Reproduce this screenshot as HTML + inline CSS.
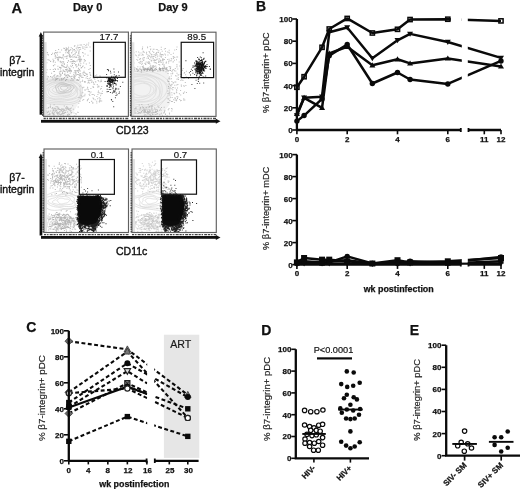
<!DOCTYPE html>
<html><head><meta charset="utf-8"><style>
html,body{margin:0;padding:0;background:#fff;}
#c{position:relative;width:520px;height:489px;overflow:hidden;background:#fff;will-change:transform;}
svg{position:absolute;left:0;top:0;}
text{font-family:"Liberation Sans",sans-serif;}
</style></head><body><div id="c">
<svg width="520" height="489" viewBox="0 0 520 489" font-family="Liberation Sans, sans-serif">
<text x="11.60" y="12.70" font-size="14.6" font-weight="bold" text-anchor="start" fill="#111" stroke="#111" stroke-width="0.25" >A</text>
<text x="72.90" y="11.40" font-size="11" font-weight="bold" text-anchor="start" fill="#111" stroke="#111" stroke-width="0.25" >Day 0</text>
<text x="158.30" y="11.40" font-size="11" font-weight="bold" text-anchor="start" fill="#111" stroke="#111" stroke-width="0.25" >Day 9</text>
<text x="17.00" y="64.10" font-size="10.5" font-weight="normal" text-anchor="middle" fill="#111" stroke="#111" stroke-width="0.38" >β7-</text>
<text x="17.20" y="76.00" font-size="10.5" font-weight="normal" text-anchor="middle" fill="#111" stroke="#111" stroke-width="0.38" >integrin</text>
<text x="17.00" y="180.80" font-size="10.5" font-weight="normal" text-anchor="middle" fill="#111" stroke="#111" stroke-width="0.38" >β7-</text>
<text x="17.20" y="192.80" font-size="10.5" font-weight="normal" text-anchor="middle" fill="#111" stroke="#111" stroke-width="0.38" >integrin</text>
<text x="116.00" y="133.80" font-size="10.5" font-weight="normal" text-anchor="start" fill="#111" stroke="#111" stroke-width="0.38" >CD123</text>
<text x="116.00" y="254.60" font-size="10.5" font-weight="normal" text-anchor="start" fill="#111" stroke="#111" stroke-width="0.38" >CD11c</text>
<clipPath id="c43"><rect x="44.0" y="32.5" width="84.0" height="83.5"/></clipPath><g clip-path="url(#c43)">
<path d="M43.5 78 Q60 74 80 80 Q86 92 80 100 Q74 112 70 117 L43.5 117Z" fill="#f2f2f2"/>
<path d="M68.9 89.0 L68.7 89.4 L68.5 89.8 L68.1 90.2 L67.7 90.5 L67.4 90.9 L67.0 91.2 L66.5 91.6 L65.9 92.0 L65.2 92.3 L64.3 92.4 L63.4 92.5 L62.5 92.4 L61.6 92.2 L60.9 92.0 L60.1 91.9 L59.4 91.7 L58.7 91.4 L58.1 91.2 L57.5 90.9 L57.0 90.6 L56.6 90.2 L56.3 89.8 L56.1 89.4 L55.9 89.0 L55.9 88.6 L55.9 88.1 L56.1 87.7 L56.5 87.3 L57.1 86.9 L57.8 86.7 L58.6 86.5 L59.4 86.3 L60.2 86.2 L61.0 86.1 L61.7 86.0 L62.5 85.9 L63.3 85.8 L64.2 85.8 L65.1 85.8 L65.9 86.0 L66.7 86.3 L67.3 86.6 L67.8 87.0 L68.2 87.3 L68.6 87.7 L68.8 88.2 L68.9 88.6Z" fill="none" stroke="#d6d6d6" stroke-width="0.7"/>
<path d="M70.3 89.4 L70.5 89.9 L70.6 90.5 L70.6 91.2 L70.3 91.8 L69.6 92.3 L68.7 92.8 L67.6 93.1 L66.5 93.3 L65.3 93.4 L64.2 93.5 L63.1 93.6 L61.9 93.7 L60.8 93.7 L59.7 93.6 L58.6 93.4 L57.6 93.1 L56.6 92.8 L55.7 92.5 L54.8 92.1 L54.0 91.7 L53.2 91.2 L52.7 90.6 L52.4 90.0 L52.4 89.4 L52.8 88.8 L53.4 88.2 L54.1 87.7 L54.8 87.3 L55.5 86.9 L56.1 86.4 L56.8 86.0 L57.5 85.6 L58.5 85.2 L59.5 84.9 L60.7 84.8 L61.9 84.7 L63.1 84.8 L64.3 84.9 L65.5 85.1 L66.5 85.4 L67.5 85.7 L68.4 86.2 L69.0 86.7 L69.5 87.2 L69.7 87.8 L69.9 88.3 L70.1 88.8Z" fill="none" stroke="#d6d6d6" stroke-width="0.7"/>
<path d="M72.0 89.8 L71.8 90.4 L71.6 91.1 L71.5 91.8 L71.3 92.6 L70.8 93.4 L70.0 94.1 L68.9 94.7 L67.5 95.1 L66.0 95.3 L64.4 95.3 L62.8 95.3 L61.4 95.2 L60.0 95.1 L58.6 95.0 L57.2 94.8 L55.9 94.5 L54.6 94.2 L53.5 93.7 L52.5 93.1 L51.7 92.6 L50.8 91.9 L50.1 91.3 L49.6 90.5 L49.2 89.8 L49.2 89.0 L49.7 88.2 L50.5 87.5 L51.6 86.9 L52.8 86.4 L53.9 86.0 L55.1 85.6 L56.1 85.2 L57.3 84.8 L58.5 84.4 L59.9 84.0 L61.4 83.8 L62.9 83.8 L64.5 84.0 L65.9 84.3 L67.2 84.7 L68.5 85.1 L69.6 85.6 L70.6 86.2 L71.4 86.9 L71.9 87.6 L72.1 88.3 L72.1 89.0Z" fill="none" stroke="#d6d6d6" stroke-width="0.7"/>
<path d="M75.6 90.1 L75.2 91.1 L74.5 92.0 L73.6 92.8 L72.6 93.5 L71.6 94.2 L70.4 94.9 L69.0 95.5 L67.5 95.9 L65.9 96.3 L64.2 96.5 L62.5 96.6 L60.8 96.8 L59.0 96.9 L57.2 96.9 L55.2 96.8 L53.4 96.6 L51.7 96.1 L50.3 95.4 L49.4 94.5 L48.8 93.6 L48.5 92.7 L48.3 91.8 L48.2 91.0 L47.9 90.1 L47.8 89.3 L47.8 88.4 L48.1 87.5 L48.7 86.6 L49.6 85.8 L50.8 85.1 L52.2 84.5 L53.7 84.0 L55.3 83.5 L57.1 83.1 L58.9 82.9 L60.8 83.0 L62.6 83.2 L64.3 83.6 L65.8 84.1 L67.2 84.6 L68.5 85.1 L69.8 85.6 L71.3 86.1 L72.7 86.7 L74.0 87.4 L75.0 88.2 L75.5 89.2Z" fill="none" stroke="#d6d6d6" stroke-width="0.7"/>
<path d="M77.1 90.5 L76.6 91.6 L75.9 92.6 L75.1 93.6 L74.1 94.5 L72.9 95.4 L71.5 96.1 L69.8 96.7 L68.0 97.2 L66.1 97.6 L64.2 98.0 L62.3 98.3 L60.2 98.6 L58.1 98.8 L55.8 98.9 L53.5 98.6 L51.4 98.1 L49.7 97.4 L48.4 96.4 L47.5 95.4 L46.8 94.4 L46.3 93.4 L45.7 92.5 L45.1 91.5 L44.6 90.5 L44.4 89.5 L44.5 88.4 L45.1 87.4 L46.0 86.4 L47.1 85.5 L48.5 84.6 L50.0 83.8 L51.8 83.1 L53.7 82.6 L55.8 82.3 L58.1 82.2 L60.2 82.3 L62.3 82.7 L64.2 83.2 L65.9 83.6 L67.7 84.1 L69.5 84.5 L71.4 84.9 L73.3 85.5 L75.0 86.3 L76.3 87.2 L77.1 88.2 L77.3 89.4Z" fill="none" stroke="#d6d6d6" stroke-width="0.7"/>
<path d="M77.0 90.9 L77.3 92.0 L77.6 93.3 L77.5 94.6 L77.0 95.9 L75.8 97.0 L74.0 98.0 L71.7 98.7 L69.3 99.2 L66.8 99.5 L64.4 99.6 L62.0 99.8 L59.7 99.8 L57.3 99.8 L55.0 99.6 L52.7 99.3 L50.6 98.7 L48.6 98.1 L46.8 97.3 L45.0 96.5 L43.3 95.6 L41.7 94.6 L40.4 93.5 L39.7 92.2 L39.6 90.9 L40.3 89.6 L41.5 88.4 L43.0 87.4 L44.6 86.5 L46.1 85.7 L47.6 84.8 L49.0 83.9 L50.6 83.0 L52.5 82.2 L54.7 81.6 L57.1 81.2 L59.7 81.1 L62.2 81.3 L64.7 81.6 L67.0 82.0 L69.3 82.6 L71.4 83.3 L73.2 84.1 L74.6 85.1 L75.6 86.3 L76.2 87.5 L76.5 88.6 L76.8 89.8Z" fill="none" stroke="#d6d6d6" stroke-width="0.7"/>
<path d="M80.3 91.2 L81.0 92.7 L81.0 94.2 L80.3 95.6 L78.8 96.9 L76.7 98.0 L74.3 98.9 L71.9 99.6 L69.4 100.2 L66.9 100.7 L64.4 101.1 L61.8 101.4 L59.1 101.5 L56.5 101.4 L53.8 101.1 L51.3 100.7 L48.8 100.2 L46.3 99.6 L43.8 98.9 L41.5 98.0 L39.4 96.9 L38.0 95.6 L37.3 94.2 L37.4 92.7 L38.1 91.2 L39.1 89.9 L40.2 88.7 L41.2 87.5 L42.2 86.4 L43.2 85.1 L44.5 83.9 L46.2 82.8 L48.3 81.9 L50.8 81.2 L53.5 80.7 L56.3 80.5 L59.1 80.4 L62.0 80.4 L64.8 80.7 L67.5 81.2 L70.0 81.9 L72.0 82.8 L73.7 84.0 L75.0 85.2 L76.0 86.4 L77.0 87.5 L78.1 88.7 L79.3 89.9Z" fill="none" stroke="#d6d6d6" stroke-width="0.7"/>
<path d="M80.3 91.6 L80.3 93.1 L80.3 94.5 L80.2 96.1 L79.7 97.7 L78.6 99.3 L76.7 100.7 L74.1 101.7 L71.0 102.4 L67.8 102.8 L64.6 102.9 L61.5 102.9 L58.6 102.9 L55.6 102.8 L52.7 102.6 L49.8 102.2 L47.1 101.6 L44.6 100.7 L42.3 99.8 L40.2 98.7 L38.2 97.5 L36.4 96.2 L34.8 94.8 L33.6 93.3 L33.2 91.6 L33.6 90.0 L34.8 88.4 L36.7 87.1 L38.9 85.9 L41.2 85.0 L43.3 84.0 L45.4 83.0 L47.5 82.0 L49.8 81.0 L52.4 80.2 L55.4 79.6 L58.6 79.3 L61.8 79.4 L64.9 79.8 L67.9 80.4 L70.7 81.2 L73.3 82.0 L75.6 83.1 L77.6 84.3 L79.0 85.7 L79.9 87.2 L80.3 88.7 L80.4 90.2Z" fill="none" stroke="#d6d6d6" stroke-width="0.7"/>
<path d="M82.1 92.0 L81.8 93.6 L81.7 95.2 L81.5 96.9 L80.9 98.6 L79.8 100.4 L77.9 101.9 L75.2 103.2 L71.9 104.1 L68.4 104.5 L64.8 104.6 L61.3 104.6 L58.0 104.4 L54.8 104.3 L51.6 104.0 L48.4 103.6 L45.4 102.9 L42.5 102.1 L40.0 101.0 L37.8 99.8 L35.7 98.4 L33.8 97.0 L32.1 95.5 L30.7 93.8 L30.1 92.0 L30.3 90.2 L31.5 88.4 L33.4 86.9 L35.9 85.6 L38.6 84.5 L41.1 83.6 L43.5 82.6 L45.9 81.5 L48.5 80.5 L51.3 79.5 L54.5 78.8 L58.0 78.4 L61.6 78.5 L65.0 78.9 L68.3 79.6 L71.4 80.4 L74.2 81.4 L76.8 82.6 L79.0 83.9 L80.7 85.4 L81.8 87.1 L82.3 88.7 L82.3 90.4Z" fill="none" stroke="#d6d6d6" stroke-width="0.7"/>
<path d="M67.6 88.0 L67.5 88.3 L67.4 88.5 L67.2 88.7 L66.9 88.9 L66.6 89.1 L66.3 89.3 L66.0 89.4 L65.7 89.6 L65.4 89.8 L65.0 90.0 L64.5 90.2 L64.0 90.3 L63.5 90.3 L63.0 90.2 L62.5 90.0 L62.2 89.7 L62.0 89.5 L61.7 89.3 L61.5 89.1 L61.2 88.9 L60.9 88.7 L60.6 88.5 L60.5 88.3 L60.4 88.0 L60.4 87.7 L60.5 87.5 L60.6 87.2 L60.7 86.9 L60.9 86.7 L61.2 86.4 L61.6 86.3 L62.1 86.1 L62.6 86.1 L63.1 86.2 L63.6 86.2 L64.0 86.3 L64.4 86.3 L64.8 86.3 L65.3 86.3 L65.8 86.3 L66.3 86.3 L66.8 86.4 L67.2 86.7 L67.4 86.9 L67.5 87.2 L67.6 87.5 L67.6 87.7Z" fill="none" stroke="#bcbcbc" stroke-width="0.7"/>
<path d="M70.7 88.0 L70.4 88.5 L70.1 88.9 L69.7 89.3 L69.3 89.7 L68.8 90.1 L68.3 90.4 L67.6 90.6 L66.9 90.8 L66.2 90.9 L65.5 91.1 L64.8 91.3 L64.0 91.5 L63.1 91.7 L62.2 91.8 L61.2 91.7 L60.4 91.5 L59.7 91.1 L59.3 90.6 L59.1 90.1 L59.0 89.6 L58.8 89.2 L58.6 88.8 L58.4 88.4 L58.1 88.0 L57.9 87.6 L57.9 87.1 L58.1 86.6 L58.4 86.2 L58.8 85.8 L59.4 85.4 L59.9 85.1 L60.6 84.7 L61.4 84.5 L62.2 84.3 L63.1 84.3 L64.0 84.5 L64.8 84.7 L65.5 85.0 L66.1 85.2 L66.7 85.4 L67.4 85.5 L68.2 85.6 L69.1 85.8 L69.9 86.1 L70.5 86.5 L70.8 87.0 L70.9 87.5Z" fill="none" stroke="#bcbcbc" stroke-width="0.7"/>
<path d="M73.7 88.0 L73.3 88.7 L72.8 89.3 L72.2 89.9 L71.6 90.4 L70.9 91.0 L70.1 91.4 L69.2 91.8 L68.2 92.0 L67.2 92.2 L66.1 92.4 L65.1 92.6 L64.0 92.9 L62.8 93.1 L61.5 93.2 L60.1 93.2 L58.8 93.0 L57.8 92.5 L57.1 91.8 L56.8 91.1 L56.6 90.4 L56.5 89.7 L56.4 89.1 L56.1 88.6 L55.7 88.0 L55.5 87.4 L55.4 86.7 L55.6 86.1 L56.0 85.4 L56.6 84.9 L57.4 84.3 L58.3 83.8 L59.2 83.4 L60.3 83.0 L61.5 82.8 L62.7 82.7 L64.0 82.9 L65.1 83.2 L66.1 83.6 L67.0 84.0 L67.8 84.3 L68.8 84.5 L69.9 84.7 L71.1 85.0 L72.2 85.4 L73.2 85.9 L73.8 86.5 L73.9 87.3Z" fill="none" stroke="#bcbcbc" stroke-width="0.7"/>
<path d="M57.2 58.9h1.0v1.0h-1.0zM70.4 79.8h1.0v1.0h-1.0zM73.4 79.6h1.0v1.0h-1.0zM53.0 65.3h1.0v1.0h-1.0zM67.9 51.4h1.0v1.0h-1.0zM54.5 68.3h1.0v1.0h-1.0zM82.5 47.9h1.0v1.0h-1.0zM74.1 70.2h1.0v1.0h-1.0zM69.8 61.3h1.0v1.0h-1.0zM61.9 64.7h1.0v1.0h-1.0zM63.1 54.3h1.0v1.0h-1.0zM72.0 65.0h1.0v1.0h-1.0zM75.8 47.7h1.0v1.0h-1.0zM56.5 57.3h1.0v1.0h-1.0zM85.8 63.6h1.0v1.0h-1.0zM71.1 56.3h1.0v1.0h-1.0zM60.2 70.6h1.0v1.0h-1.0zM61.1 64.4h1.0v1.0h-1.0zM68.6 69.6h1.0v1.0h-1.0zM54.7 55.8h1.0v1.0h-1.0zM61.2 78.0h1.0v1.0h-1.0zM65.6 79.3h1.0v1.0h-1.0zM68.9 76.1h1.0v1.0h-1.0zM64.1 77.1h1.0v1.0h-1.0zM60.6 57.1h1.0v1.0h-1.0zM86.3 73.9h1.0v1.0h-1.0zM72.6 60.2h1.0v1.0h-1.0zM66.5 65.9h1.0v1.0h-1.0zM64.1 71.0h1.0v1.0h-1.0zM81.3 75.4h1.0v1.0h-1.0zM86.3 43.8h1.0v1.0h-1.0zM72.0 48.3h1.0v1.0h-1.0zM69.7 72.8h1.0v1.0h-1.0zM72.9 49.3h1.0v1.0h-1.0zM83.6 43.9h1.0v1.0h-1.0zM73.6 72.3h1.0v1.0h-1.0zM84.0 72.3h1.0v1.0h-1.0zM79.7 75.5h1.0v1.0h-1.0zM71.2 66.3h1.0v1.0h-1.0zM82.3 72.5h1.0v1.0h-1.0zM74.6 50.2h1.0v1.0h-1.0zM66.1 67.0h1.0v1.0h-1.0zM75.1 73.6h1.0v1.0h-1.0zM62.4 62.5h1.0v1.0h-1.0zM56.9 54.5h1.0v1.0h-1.0zM79.6 47.0h1.0v1.0h-1.0zM82.6 65.6h1.0v1.0h-1.0zM65.1 75.6h1.0v1.0h-1.0zM80.2 73.4h1.0v1.0h-1.0zM68.8 70.8h1.0v1.0h-1.0zM85.4 46.8h1.0v1.0h-1.0zM77.7 58.9h1.0v1.0h-1.0zM83.2 62.6h1.0v1.0h-1.0zM70.1 69.4h1.0v1.0h-1.0zM82.5 76.9h1.0v1.0h-1.0zM86.5 46.7h1.0v1.0h-1.0zM89.5 46.4h1.0v1.0h-1.0zM71.3 59.0h1.0v1.0h-1.0zM54.4 76.7h1.0v1.0h-1.0zM79.8 44.6h1.0v1.0h-1.0zM47.4 53.9h1.0v1.0h-1.0zM77.7 59.3h1.0v1.0h-1.0zM56.8 57.0h1.0v1.0h-1.0zM68.1 46.7h1.0v1.0h-1.0zM83.9 60.4h1.0v1.0h-1.0zM75.5 52.1h1.0v1.0h-1.0zM69.6 57.0h1.0v1.0h-1.0zM84.4 48.8h1.0v1.0h-1.0zM56.1 78.9h1.0v1.0h-1.0zM66.5 75.5h1.0v1.0h-1.0zM52.8 61.5h1.0v1.0h-1.0zM74.3 78.1h1.0v1.0h-1.0zM60.7 67.4h1.0v1.0h-1.0zM70.3 71.2h1.0v1.0h-1.0zM73.8 62.9h1.0v1.0h-1.0zM72.1 50.4h1.0v1.0h-1.0zM79.0 68.9h1.0v1.0h-1.0zM63.9 63.2h1.0v1.0h-1.0zM78.7 56.5h1.0v1.0h-1.0zM79.2 61.1h1.0v1.0h-1.0zM71.5 63.2h1.0v1.0h-1.0zM75.8 64.2h1.0v1.0h-1.0zM54.1 53.1h1.0v1.0h-1.0zM65.0 80.0h1.0v1.0h-1.0zM65.7 56.1h1.0v1.0h-1.0zM57.7 75.6h1.0v1.0h-1.0zM59.8 60.8h1.0v1.0h-1.0zM64.5 73.5h1.0v1.0h-1.0zM66.8 71.2h1.0v1.0h-1.0zM62.4 62.7h1.0v1.0h-1.0zM76.0 51.4h1.0v1.0h-1.0zM62.6 66.2h1.0v1.0h-1.0zM67.0 61.9h1.0v1.0h-1.0zM54.9 78.6h1.0v1.0h-1.0zM59.5 51.7h1.0v1.0h-1.0zM64.6 71.3h1.0v1.0h-1.0zM60.1 71.2h1.0v1.0h-1.0zM79.8 70.5h1.0v1.0h-1.0zM57.3 58.6h1.0v1.0h-1.0zM53.3 60.0h1.0v1.0h-1.0zM66.2 48.2h1.0v1.0h-1.0zM75.2 64.8h1.0v1.0h-1.0zM51.0 54.0h1.0v1.0h-1.0zM72.9 67.3h1.0v1.0h-1.0zM71.1 78.2h1.0v1.0h-1.0zM60.8 61.5h1.0v1.0h-1.0zM77.9 68.4h1.0v1.0h-1.0zM83.5 70.7h1.0v1.0h-1.0zM54.1 53.5h1.0v1.0h-1.0zM75.9 74.4h1.0v1.0h-1.0zM46.1 71.9h1.0v1.0h-1.0zM57.8 68.7h1.0v1.0h-1.0zM81.9 46.5h1.0v1.0h-1.0zM72.8 53.9h1.0v1.0h-1.0zM66.0 74.8h1.0v1.0h-1.0zM62.6 69.5h1.0v1.0h-1.0zM88.4 69.1h1.0v1.0h-1.0zM78.2 52.6h1.0v1.0h-1.0zM83.8 59.0h1.0v1.0h-1.0zM55.7 52.3h1.0v1.0h-1.0zM48.8 59.7h1.0v1.0h-1.0zM78.5 77.1h1.0v1.0h-1.0zM71.2 61.3h1.0v1.0h-1.0zM84.1 74.9h1.0v1.0h-1.0zM69.0 56.0h1.0v1.0h-1.0zM63.3 47.8h1.0v1.0h-1.0zM71.0 78.2h1.0v1.0h-1.0zM74.5 54.3h1.0v1.0h-1.0zM70.2 49.5h1.0v1.0h-1.0zM67.6 48.3h1.0v1.0h-1.0zM78.3 57.3h1.0v1.0h-1.0zM62.4 62.6h1.0v1.0h-1.0zM47.9 54.6h1.0v1.0h-1.0zM66.7 77.0h1.0v1.0h-1.0zM78.8 58.6h1.0v1.0h-1.0zM61.6 79.3h1.0v1.0h-1.0zM51.1 72.7h1.0v1.0h-1.0zM75.1 61.3h1.0v1.0h-1.0zM52.1 52.8h1.0v1.0h-1.0zM66.5 55.5h1.0v1.0h-1.0zM60.6 70.7h1.0v1.0h-1.0zM63.8 70.7h1.0v1.0h-1.0zM78.4 51.6h1.0v1.0h-1.0zM51.7 76.4h1.0v1.0h-1.0zM70.8 70.0h1.0v1.0h-1.0zM79.3 59.9h1.0v1.0h-1.0zM63.0 58.4h1.0v1.0h-1.0zM75.6 72.5h1.0v1.0h-1.0zM56.3 52.6h1.0v1.0h-1.0zM79.5 56.2h1.0v1.0h-1.0zM74.0 49.1h1.0v1.0h-1.0zM76.7 70.7h1.0v1.0h-1.0zM63.8 64.0h1.0v1.0h-1.0zM61.3 65.2h1.0v1.0h-1.0zM52.8 68.9h1.0v1.0h-1.0zM54.8 79.7h1.0v1.0h-1.0zM72.6 79.6h1.0v1.0h-1.0zM76.9 54.8h1.0v1.0h-1.0zM54.9 54.7h1.0v1.0h-1.0zM55.0 68.9h1.0v1.0h-1.0zM74.0 45.5h1.0v1.0h-1.0zM73.9 45.8h1.0v1.0h-1.0zM70.1 65.5h1.0v1.0h-1.0zM82.0 66.3h1.0v1.0h-1.0zM46.7 75.8h1.0v1.0h-1.0zM80.6 59.2h1.0v1.0h-1.0zM56.7 74.9h1.0v1.0h-1.0zM59.7 61.2h1.0v1.0h-1.0zM65.5 49.6h1.0v1.0h-1.0zM68.1 75.0h1.0v1.0h-1.0zM63.9 73.7h1.0v1.0h-1.0zM78.1 63.9h1.0v1.0h-1.0zM76.7 49.4h1.0v1.0h-1.0zM88.9 62.5h1.0v1.0h-1.0zM64.9 67.1h1.0v1.0h-1.0zM69.8 56.5h1.0v1.0h-1.0zM59.0 67.0h1.0v1.0h-1.0zM66.5 74.7h1.0v1.0h-1.0zM62.7 55.3h1.0v1.0h-1.0zM57.4 65.7h1.0v1.0h-1.0zM85.1 72.7h1.0v1.0h-1.0zM54.8 61.7h1.0v1.0h-1.0zM81.3 77.1h1.0v1.0h-1.0zM46.6 52.0h1.0v1.0h-1.0zM54.3 64.2h1.0v1.0h-1.0zM64.9 49.8h1.0v1.0h-1.0zM58.7 57.2h1.0v1.0h-1.0zM59.6 76.0h1.0v1.0h-1.0zM68.2 75.3h1.0v1.0h-1.0zM88.2 42.6h1.0v1.0h-1.0zM66.8 64.5h1.0v1.0h-1.0zM70.7 47.2h1.0v1.0h-1.0zM63.2 61.4h1.0v1.0h-1.0zM70.8 71.1h1.0v1.0h-1.0zM68.7 75.2h1.0v1.0h-1.0zM59.9 68.4h1.0v1.0h-1.0zM87.2 78.0h1.0v1.0h-1.0zM89.8 65.0h1.0v1.0h-1.0zM70.2 49.0h1.0v1.0h-1.0zM58.9 71.6h1.0v1.0h-1.0zM85.4 45.1h1.0v1.0h-1.0zM79.0 59.1h1.0v1.0h-1.0zM68.6 53.3h1.0v1.0h-1.0zM78.7 74.6h1.0v1.0h-1.0zM72.1 79.4h1.0v1.0h-1.0zM71.6 75.8h1.0v1.0h-1.0zM54.7 52.1h1.0v1.0h-1.0zM61.9 73.1h1.0v1.0h-1.0zM68.5 70.9h1.0v1.0h-1.0zM66.3 75.4h1.0v1.0h-1.0zM60.9 57.5h1.0v1.0h-1.0zM72.8 61.3h1.0v1.0h-1.0zM84.6 53.5h1.0v1.0h-1.0zM85.0 60.2h1.0v1.0h-1.0zM67.9 51.4h1.0v1.0h-1.0zM74.2 76.8h1.0v1.0h-1.0zM49.7 69.1h1.0v1.0h-1.0zM63.1 78.6h1.0v1.0h-1.0zM83.0 55.6h1.0v1.0h-1.0zM78.0 47.2h1.0v1.0h-1.0zM51.6 76.8h1.0v1.0h-1.0zM75.6 69.9h1.0v1.0h-1.0zM50.0 61.0h1.0v1.0h-1.0zM68.2 70.0h1.0v1.0h-1.0zM56.4 76.1h1.0v1.0h-1.0zM78.4 55.2h1.0v1.0h-1.0zM77.1 79.0h1.0v1.0h-1.0zM80.1 48.7h1.0v1.0h-1.0zM76.2 56.9h1.0v1.0h-1.0zM66.5 57.7h1.0v1.0h-1.0zM67.7 52.7h1.0v1.0h-1.0zM52.5 58.7h1.0v1.0h-1.0zM82.8 74.2h1.0v1.0h-1.0zM73.2 76.3h1.0v1.0h-1.0zM70.4 58.9h1.0v1.0h-1.0zM75.3 72.2h1.0v1.0h-1.0zM60.1 67.0h1.0v1.0h-1.0zM75.2 63.9h1.0v1.0h-1.0zM65.7 50.6h1.0v1.0h-1.0zM66.4 70.3h1.0v1.0h-1.0zM86.6 75.7h1.0v1.0h-1.0zM62.7 54.2h1.0v1.0h-1.0zM69.3 68.4h1.0v1.0h-1.0zM75.8 56.6h1.0v1.0h-1.0zM61.2 65.1h1.0v1.0h-1.0zM67.9 50.4h1.0v1.0h-1.0zM51.2 54.1h1.0v1.0h-1.0zM77.4 79.5h1.0v1.0h-1.0zM78.8 47.1h1.0v1.0h-1.0zM82.1 79.7h1.0v1.0h-1.0zM74.4 50.4h1.0v1.0h-1.0zM73.4 77.2h1.0v1.0h-1.0zM66.4 49.2h1.0v1.0h-1.0zM78.8 49.2h1.0v1.0h-1.0zM78.0 70.4h1.0v1.0h-1.0zM68.8 54.8h1.0v1.0h-1.0zM52.8 60.7h1.0v1.0h-1.0zM64.5 74.4h1.0v1.0h-1.0zM75.9 79.4h1.0v1.0h-1.0zM63.3 78.1h1.0v1.0h-1.0zM79.3 74.9h1.0v1.0h-1.0zM81.1 58.8h1.0v1.0h-1.0zM68.3 49.4h1.0v1.0h-1.0zM59.4 79.6h1.0v1.0h-1.0zM56.1 77.7h1.0v1.0h-1.0zM64.8 49.5h1.0v1.0h-1.0zM77.7 47.6h1.0v1.0h-1.0zM87.5 54.8h1.0v1.0h-1.0zM46.5 69.2h1.0v1.0h-1.0zM80.3 60.6h1.0v1.0h-1.0zM81.1 44.6h1.0v1.0h-1.0zM78.8 74.4h1.0v1.0h-1.0zM59.9 56.9h1.0v1.0h-1.0zM75.8 66.5h1.0v1.0h-1.0zM89.7 68.0h1.0v1.0h-1.0zM72.2 55.3h1.0v1.0h-1.0zM73.9 74.8h1.0v1.0h-1.0zM81.0 67.1h1.0v1.0h-1.0zM63.7 66.2h1.0v1.0h-1.0zM66.5 69.3h1.0v1.0h-1.0zM54.8 57.8h1.0v1.0h-1.0zM62.0 73.0h1.0v1.0h-1.0zM65.3 52.2h1.0v1.0h-1.0zM67.5 74.0h1.0v1.0h-1.0zM57.6 60.3h1.0v1.0h-1.0zM79.8 73.6h1.0v1.0h-1.0zM78.1 67.7h1.0v1.0h-1.0zM82.7 52.5h1.0v1.0h-1.0zM79.5 61.5h1.0v1.0h-1.0zM55.5 56.4h1.0v1.0h-1.0zM58.6 56.6h1.0v1.0h-1.0zM62.6 65.5h1.0v1.0h-1.0zM66.2 69.1h1.0v1.0h-1.0zM57.2 51.8h1.0v1.0h-1.0zM74.9 70.4h1.0v1.0h-1.0zM57.8 59.6h1.0v1.0h-1.0zM69.7 55.1h1.0v1.0h-1.0zM69.4 68.1h1.0v1.0h-1.0zM77.1 69.9h1.0v1.0h-1.0zM58.0 58.5h1.0v1.0h-1.0zM68.8 51.4h1.0v1.0h-1.0zM62.0 71.7h1.0v1.0h-1.0zM47.7 59.2h1.0v1.0h-1.0zM46.5 79.1h1.0v1.0h-1.0zM69.6 55.6h1.0v1.0h-1.0zM85.6 77.6h1.0v1.0h-1.0zM64.4 56.2h1.0v1.0h-1.0zM75.1 71.7h1.0v1.0h-1.0zM47.0 52.2h1.0v1.0h-1.0zM89.7 50.6h1.0v1.0h-1.0zM64.3 66.7h1.0v1.0h-1.0zM53.1 75.5h1.0v1.0h-1.0zM78.2 73.9h1.0v1.0h-1.0zM67.1 71.7h1.0v1.0h-1.0zM67.9 60.5h1.0v1.0h-1.0zM63.9 48.1h1.0v1.0h-1.0zM69.2 53.9h1.0v1.0h-1.0zM62.4 61.1h1.0v1.0h-1.0zM65.9 57.8h1.0v1.0h-1.0zM87.9 44.6h1.0v1.0h-1.0zM75.1 64.4h1.0v1.0h-1.0zM50.0 75.9h1.0v1.0h-1.0zM85.8 73.4h1.0v1.0h-1.0zM47.4 59.2h1.0v1.0h-1.0zM83.0 72.3h1.0v1.0h-1.0zM84.2 67.3h1.0v1.0h-1.0zM61.1 49.5h1.0v1.0h-1.0zM61.1 79.6h1.0v1.0h-1.0zM66.2 78.9h1.0v1.0h-1.0zM59.0 73.2h1.0v1.0h-1.0zM86.8 73.7h1.0v1.0h-1.0zM72.1 63.1h1.0v1.0h-1.0zM59.5 56.6h1.0v1.0h-1.0zM76.5 60.6h1.0v1.0h-1.0zM61.4 78.7h1.0v1.0h-1.0zM71.5 77.9h1.0v1.0h-1.0zM77.3 79.1h1.0v1.0h-1.0zM68.9 50.1h1.0v1.0h-1.0zM65.3 69.3h1.0v1.0h-1.0zM46.7 77.8h1.0v1.0h-1.0zM78.4 54.6h1.0v1.0h-1.0zM62.9 70.5h1.0v1.0h-1.0zM60.6 62.2h1.0v1.0h-1.0zM65.1 69.1h1.0v1.0h-1.0zM61.6 57.6h1.0v1.0h-1.0zM79.7 58.2h1.0v1.0h-1.0zM66.7 64.7h1.0v1.0h-1.0zM70.5 76.1h1.0v1.0h-1.0zM68.8 68.1h1.0v1.0h-1.0zM79.5 73.0h1.0v1.0h-1.0zM78.7 76.8h1.0v1.0h-1.0zM72.5 56.8h1.0v1.0h-1.0zM70.4 76.4h1.0v1.0h-1.0zM78.4 77.1h1.0v1.0h-1.0zM74.8 75.4h1.0v1.0h-1.0zM67.1 76.8h1.0v1.0h-1.0zM53.3 71.0h1.0v1.0h-1.0zM71.8 60.9h1.0v1.0h-1.0zM79.2 70.2h1.0v1.0h-1.0zM65.6 48.7h1.0v1.0h-1.0zM66.7 68.5h1.0v1.0h-1.0zM72.3 61.3h1.0v1.0h-1.0zM59.7 73.6h1.0v1.0h-1.0zM57.3 77.9h1.0v1.0h-1.0zM80.0 56.6h1.0v1.0h-1.0zM83.5 46.6h1.0v1.0h-1.0zM78.1 63.4h1.0v1.0h-1.0zM76.5 65.8h1.0v1.0h-1.0zM48.0 76.2h1.0v1.0h-1.0zM52.9 65.0h1.0v1.0h-1.0zM67.1 52.0h1.0v1.0h-1.0zM55.2 49.9h1.0v1.0h-1.0zM60.2 74.4h1.0v1.0h-1.0zM80.6 67.4h1.0v1.0h-1.0zM59.8 74.7h1.0v1.0h-1.0zM74.4 45.3h1.0v1.0h-1.0zM78.3 65.0h1.0v1.0h-1.0zM76.7 46.4h1.0v1.0h-1.0zM62.3 56.8h1.0v1.0h-1.0zM74.6 53.0h1.0v1.0h-1.0zM74.0 61.1h1.0v1.0h-1.0zM69.3 69.9h1.0v1.0h-1.0zM67.9 59.9h1.0v1.0h-1.0zM66.5 74.8h1.0v1.0h-1.0zM73.8 56.2h1.0v1.0h-1.0zM73.6 60.4h1.0v1.0h-1.0zM57.4 68.4h1.0v1.0h-1.0zM71.3 51.9h1.0v1.0h-1.0zM77.6 70.0h1.0v1.0h-1.0zM69.9 69.9h1.0v1.0h-1.0zM89.5 72.4h1.0v1.0h-1.0zM52.5 78.5h1.0v1.0h-1.0zM76.9 73.9h1.0v1.0h-1.0zM58.1 49.0h1.0v1.0h-1.0zM71.2 52.6h1.0v1.0h-1.0zM89.8 74.3h1.0v1.0h-1.0zM79.6 59.1h1.0v1.0h-1.0zM67.2 77.1h1.0v1.0h-1.0zM67.2 55.4h1.0v1.0h-1.0zM57.2 78.2h1.0v1.0h-1.0zM78.0 72.0h1.0v1.0h-1.0zM72.2 50.4h1.0v1.0h-1.0zM77.1 69.9h1.0v1.0h-1.0zM74.4 76.0h1.0v1.0h-1.0zM79.6 44.5h1.0v1.0h-1.0zM54.4 74.3h1.0v1.0h-1.0zM60.8 74.5h1.0v1.0h-1.0zM76.9 79.7h1.0v1.0h-1.0zM75.3 70.3h1.0v1.0h-1.0zM77.4 44.7h1.0v1.0h-1.0zM80.0 65.2h1.0v1.0h-1.0zM46.4 62.3h1.0v1.0h-1.0zM50.2 60.8h1.0v1.0h-1.0zM80.3 63.3h1.0v1.0h-1.0zM59.1 79.4h1.0v1.0h-1.0zM78.3 53.1h1.0v1.0h-1.0zM78.5 50.4h1.0v1.0h-1.0zM68.3 66.7h1.0v1.0h-1.0zM82.1 52.0h1.0v1.0h-1.0zM66.6 48.5h1.0v1.0h-1.0zM59.2 66.8h1.0v1.0h-1.0zM46.6 69.2h1.0v1.0h-1.0zM73.1 74.2h1.0v1.0h-1.0zM86.8 76.1h1.0v1.0h-1.0zM57.8 56.8h1.0v1.0h-1.0zM53.8 75.2h1.0v1.0h-1.0zM54.0 70.9h1.0v1.0h-1.0zM65.7 47.2h1.0v1.0h-1.0zM89.2 72.1h1.0v1.0h-1.0zM74.8 56.8h1.0v1.0h-1.0z" fill="#808080" fill-opacity="0.55"/>
<path d="M89.1 82.4h1.0v1.0h-1.0zM78.5 97.0h1.0v1.0h-1.0zM94.7 99.2h1.0v1.0h-1.0zM81.7 81.1h1.0v1.0h-1.0zM92.3 102.1h1.0v1.0h-1.0zM89.3 80.0h1.0v1.0h-1.0zM92.3 102.7h1.0v1.0h-1.0zM98.8 101.0h1.0v1.0h-1.0zM87.9 81.9h1.0v1.0h-1.0zM98.9 97.6h1.0v1.0h-1.0zM98.4 85.7h1.0v1.0h-1.0zM84.9 81.2h1.0v1.0h-1.0zM98.9 101.6h1.0v1.0h-1.0zM86.8 100.2h1.0v1.0h-1.0zM87.2 87.4h1.0v1.0h-1.0zM91.6 80.6h1.0v1.0h-1.0zM84.4 82.0h1.0v1.0h-1.0zM84.2 89.5h1.0v1.0h-1.0zM80.4 97.4h1.0v1.0h-1.0zM82.2 87.3h1.0v1.0h-1.0zM93.4 78.1h1.0v1.0h-1.0zM87.8 90.9h1.0v1.0h-1.0zM91.2 100.8h1.0v1.0h-1.0zM96.8 77.6h1.0v1.0h-1.0zM98.0 90.5h1.0v1.0h-1.0zM94.3 78.8h1.0v1.0h-1.0zM89.3 95.0h1.0v1.0h-1.0zM97.1 98.2h1.0v1.0h-1.0zM83.2 99.0h1.0v1.0h-1.0zM91.6 94.1h1.0v1.0h-1.0zM98.4 86.2h1.0v1.0h-1.0zM100.1 100.4h1.0v1.0h-1.0zM97.4 85.4h1.0v1.0h-1.0zM90.7 79.2h1.0v1.0h-1.0zM96.2 100.7h1.0v1.0h-1.0zM81.9 96.3h1.0v1.0h-1.0zM94.7 75.1h1.0v1.0h-1.0zM100.0 88.4h1.0v1.0h-1.0zM84.5 74.9h1.0v1.0h-1.0zM96.8 84.1h1.0v1.0h-1.0zM90.3 79.8h1.0v1.0h-1.0zM92.6 85.9h1.0v1.0h-1.0zM97.4 94.0h1.0v1.0h-1.0zM95.3 81.5h1.0v1.0h-1.0zM79.5 100.4h1.0v1.0h-1.0zM100.5 93.3h1.0v1.0h-1.0zM100.1 95.2h1.0v1.0h-1.0zM92.5 86.6h1.0v1.0h-1.0zM86.5 88.7h1.0v1.0h-1.0zM83.3 86.8h1.0v1.0h-1.0zM90.2 74.9h1.0v1.0h-1.0zM87.4 82.5h1.0v1.0h-1.0zM93.2 98.4h1.0v1.0h-1.0zM92.7 93.9h1.0v1.0h-1.0zM92.7 81.7h1.0v1.0h-1.0zM87.0 99.3h1.0v1.0h-1.0zM100.7 79.4h1.0v1.0h-1.0zM78.3 102.8h1.0v1.0h-1.0zM98.6 92.2h1.0v1.0h-1.0zM97.6 91.8h1.0v1.0h-1.0zM99.7 81.3h1.0v1.0h-1.0zM88.7 94.1h1.0v1.0h-1.0zM83.2 95.4h1.0v1.0h-1.0zM84.3 95.3h1.0v1.0h-1.0zM97.3 86.7h1.0v1.0h-1.0zM101.8 92.9h1.0v1.0h-1.0zM96.2 74.6h1.0v1.0h-1.0zM80.7 95.3h1.0v1.0h-1.0zM100.6 92.8h1.0v1.0h-1.0zM99.9 75.8h1.0v1.0h-1.0zM99.4 100.3h1.0v1.0h-1.0zM93.1 86.9h1.0v1.0h-1.0zM94.9 81.3h1.0v1.0h-1.0zM94.0 94.8h1.0v1.0h-1.0zM91.0 81.8h1.0v1.0h-1.0zM78.1 79.9h1.0v1.0h-1.0zM98.0 80.4h1.0v1.0h-1.0zM79.8 81.4h1.0v1.0h-1.0zM90.5 91.6h1.0v1.0h-1.0zM99.1 99.6h1.0v1.0h-1.0zM101.2 100.5h1.0v1.0h-1.0zM88.8 78.3h1.0v1.0h-1.0zM100.9 80.9h1.0v1.0h-1.0zM92.9 81.9h1.0v1.0h-1.0zM97.6 80.0h1.0v1.0h-1.0zM88.1 80.6h1.0v1.0h-1.0zM98.7 92.6h1.0v1.0h-1.0zM93.1 83.4h1.0v1.0h-1.0zM82.2 99.7h1.0v1.0h-1.0zM96.4 96.0h1.0v1.0h-1.0zM101.9 90.8h1.0v1.0h-1.0zM82.3 92.3h1.0v1.0h-1.0zM84.9 89.4h1.0v1.0h-1.0zM89.0 90.9h1.0v1.0h-1.0zM100.1 98.3h1.0v1.0h-1.0zM88.0 98.5h1.0v1.0h-1.0zM98.7 97.2h1.0v1.0h-1.0zM91.2 101.0h1.0v1.0h-1.0zM89.8 77.2h1.0v1.0h-1.0zM84.5 93.7h1.0v1.0h-1.0zM87.1 86.7h1.0v1.0h-1.0zM87.7 79.8h1.0v1.0h-1.0zM80.2 75.5h1.0v1.0h-1.0zM94.1 83.7h1.0v1.0h-1.0zM89.0 102.1h1.0v1.0h-1.0zM93.0 98.3h1.0v1.0h-1.0zM96.3 102.6h1.0v1.0h-1.0zM79.6 85.5h1.0v1.0h-1.0zM100.8 87.9h1.0v1.0h-1.0zM100.7 79.5h1.0v1.0h-1.0zM79.4 100.9h1.0v1.0h-1.0zM87.9 89.2h1.0v1.0h-1.0zM100.5 80.6h1.0v1.0h-1.0zM101.2 85.9h1.0v1.0h-1.0zM83.9 81.0h1.0v1.0h-1.0zM90.4 88.0h1.0v1.0h-1.0zM99.3 75.5h1.0v1.0h-1.0zM79.1 78.6h1.0v1.0h-1.0zM92.5 97.4h1.0v1.0h-1.0zM89.5 92.4h1.0v1.0h-1.0z" fill="#888" fill-opacity="0.55"/>
<path d="M55.9 110.1h1.0v1.0h-1.0zM68.2 113.4h1.0v1.0h-1.0zM59.5 113.8h1.0v1.0h-1.0zM52.6 109.9h1.0v1.0h-1.0zM70.6 112.2h1.0v1.0h-1.0zM46.7 112.1h1.0v1.0h-1.0zM58.2 108.5h1.0v1.0h-1.0zM64.3 109.8h1.0v1.0h-1.0zM77.7 106.5h1.0v1.0h-1.0zM62.2 112.8h1.0v1.0h-1.0zM66.4 107.3h1.0v1.0h-1.0zM56.8 111.4h1.0v1.0h-1.0zM68.0 109.1h1.0v1.0h-1.0zM48.4 114.0h1.0v1.0h-1.0zM71.1 112.1h1.0v1.0h-1.0zM53.9 112.2h1.0v1.0h-1.0zM61.1 113.5h1.0v1.0h-1.0zM47.5 111.3h1.0v1.0h-1.0zM58.4 107.7h1.0v1.0h-1.0zM62.2 111.1h1.0v1.0h-1.0zM55.9 112.2h1.0v1.0h-1.0zM45.8 110.8h1.0v1.0h-1.0zM64.3 111.9h1.0v1.0h-1.0zM70.8 107.4h1.0v1.0h-1.0zM66.2 108.4h1.0v1.0h-1.0zM68.1 108.5h1.0v1.0h-1.0zM63.3 113.1h1.0v1.0h-1.0zM62.8 114.7h1.0v1.0h-1.0zM49.7 106.8h1.0v1.0h-1.0zM74.3 115.4h1.0v1.0h-1.0zM65.1 111.7h1.0v1.0h-1.0zM61.7 108.9h1.0v1.0h-1.0zM75.4 113.0h1.0v1.0h-1.0zM65.1 112.1h1.0v1.0h-1.0zM70.5 112.5h1.0v1.0h-1.0zM67.5 107.5h1.0v1.0h-1.0zM54.8 110.6h1.0v1.0h-1.0zM68.9 113.9h1.0v1.0h-1.0zM66.2 106.1h1.0v1.0h-1.0zM65.0 107.4h1.0v1.0h-1.0zM51.8 112.6h1.0v1.0h-1.0zM57.0 113.4h1.0v1.0h-1.0zM67.2 108.3h1.0v1.0h-1.0zM53.6 107.8h1.0v1.0h-1.0zM54.7 107.7h1.0v1.0h-1.0zM53.4 110.4h1.0v1.0h-1.0zM50.0 106.7h1.0v1.0h-1.0zM46.4 112.4h1.0v1.0h-1.0zM60.6 114.1h1.0v1.0h-1.0zM70.4 110.0h1.0v1.0h-1.0zM66.7 106.7h1.0v1.0h-1.0zM57.8 107.5h1.0v1.0h-1.0zM63.8 105.4h1.0v1.0h-1.0zM52.2 113.2h1.0v1.0h-1.0zM60.8 109.5h1.0v1.0h-1.0zM69.5 107.9h1.0v1.0h-1.0zM62.8 109.5h1.0v1.0h-1.0zM51.5 112.4h1.0v1.0h-1.0zM49.1 112.8h1.0v1.0h-1.0zM48.0 107.0h1.0v1.0h-1.0zM61.6 113.0h1.0v1.0h-1.0zM47.3 114.6h1.0v1.0h-1.0zM52.0 111.4h1.0v1.0h-1.0zM63.8 112.8h1.0v1.0h-1.0zM65.6 109.7h1.0v1.0h-1.0zM49.8 105.9h1.0v1.0h-1.0zM46.4 112.6h1.0v1.0h-1.0zM56.6 107.6h1.0v1.0h-1.0zM54.7 115.7h1.0v1.0h-1.0zM56.7 109.2h1.0v1.0h-1.0zM73.5 112.4h1.0v1.0h-1.0zM60.4 109.2h1.0v1.0h-1.0zM55.2 110.3h1.0v1.0h-1.0zM63.6 112.7h1.0v1.0h-1.0zM62.2 111.7h1.0v1.0h-1.0zM49.9 104.5h1.0v1.0h-1.0zM54.8 108.1h1.0v1.0h-1.0zM53.5 110.2h1.0v1.0h-1.0zM47.6 107.7h1.0v1.0h-1.0zM59.0 111.3h1.0v1.0h-1.0zM53.4 112.5h1.0v1.0h-1.0zM57.8 107.9h1.0v1.0h-1.0zM53.3 114.5h1.0v1.0h-1.0zM73.8 115.5h1.0v1.0h-1.0zM61.2 110.2h1.0v1.0h-1.0zM57.7 112.8h1.0v1.0h-1.0zM60.5 110.5h1.0v1.0h-1.0zM72.8 108.8h1.0v1.0h-1.0zM49.6 113.4h1.0v1.0h-1.0zM67.0 114.3h1.0v1.0h-1.0zM49.3 114.2h1.0v1.0h-1.0zM47.5 111.7h1.0v1.0h-1.0zM57.2 106.2h1.0v1.0h-1.0zM52.9 114.4h1.0v1.0h-1.0zM55.3 108.8h1.0v1.0h-1.0zM68.7 114.0h1.0v1.0h-1.0zM69.9 108.6h1.0v1.0h-1.0zM59.4 114.1h1.0v1.0h-1.0zM53.4 108.8h1.0v1.0h-1.0zM68.3 115.7h1.0v1.0h-1.0zM45.5 108.0h1.0v1.0h-1.0zM58.6 112.8h1.0v1.0h-1.0zM58.5 108.9h1.0v1.0h-1.0zM61.5 108.1h1.0v1.0h-1.0zM59.5 109.1h1.0v1.0h-1.0zM51.6 108.0h1.0v1.0h-1.0zM55.6 106.1h1.0v1.0h-1.0zM52.7 108.8h1.0v1.0h-1.0zM68.8 109.7h1.0v1.0h-1.0zM52.1 107.0h1.0v1.0h-1.0zM48.2 110.8h1.0v1.0h-1.0zM57.8 114.4h1.0v1.0h-1.0zM53.7 114.2h1.0v1.0h-1.0zM62.6 111.0h1.0v1.0h-1.0zM67.4 115.2h1.0v1.0h-1.0zM62.1 113.3h1.0v1.0h-1.0zM55.9 109.9h1.0v1.0h-1.0zM53.4 113.9h1.0v1.0h-1.0zM63.4 110.3h1.0v1.0h-1.0zM56.7 112.7h1.0v1.0h-1.0zM63.2 108.5h1.0v1.0h-1.0zM77.2 111.8h1.0v1.0h-1.0zM60.1 115.4h1.0v1.0h-1.0zM70.2 110.7h1.0v1.0h-1.0zM65.4 107.8h1.0v1.0h-1.0zM53.6 104.2h1.0v1.0h-1.0zM72.2 105.3h1.0v1.0h-1.0zM66.8 108.5h1.0v1.0h-1.0zM50.2 110.4h1.0v1.0h-1.0zM62.7 112.8h1.0v1.0h-1.0zM77.7 112.1h1.0v1.0h-1.0zM68.8 109.2h1.0v1.0h-1.0zM67.1 111.5h1.0v1.0h-1.0zM55.4 110.7h1.0v1.0h-1.0zM59.4 111.6h1.0v1.0h-1.0zM64.0 109.5h1.0v1.0h-1.0zM52.6 113.2h1.0v1.0h-1.0zM53.1 113.1h1.0v1.0h-1.0zM75.6 113.7h1.0v1.0h-1.0zM57.8 112.1h1.0v1.0h-1.0z" fill="#999" fill-opacity="0.6"/>
<path d="M109.6 80.8h1.1v1.1h-1.1zM109.0 79.2h1.1v1.1h-1.1zM114.3 77.9h1.1v1.1h-1.1zM110.9 79.8h1.1v1.1h-1.1zM108.4 81.3h1.1v1.1h-1.1zM112.7 77.3h1.1v1.1h-1.1zM111.7 78.4h1.1v1.1h-1.1zM110.2 79.7h1.1v1.1h-1.1zM110.0 81.0h1.1v1.1h-1.1zM110.0 81.1h1.1v1.1h-1.1zM111.7 80.9h1.1v1.1h-1.1zM110.4 78.8h1.1v1.1h-1.1zM108.9 80.5h1.1v1.1h-1.1zM114.1 82.8h1.1v1.1h-1.1zM115.0 80.0h1.1v1.1h-1.1zM111.3 80.2h1.1v1.1h-1.1zM111.7 81.8h1.1v1.1h-1.1zM114.2 78.3h1.1v1.1h-1.1zM110.1 81.7h1.1v1.1h-1.1zM112.6 79.3h1.1v1.1h-1.1zM114.8 79.0h1.1v1.1h-1.1zM111.1 78.9h1.1v1.1h-1.1zM106.9 80.9h1.1v1.1h-1.1zM108.8 78.7h1.1v1.1h-1.1zM109.9 80.7h1.1v1.1h-1.1zM111.6 79.6h1.1v1.1h-1.1zM107.6 79.5h1.1v1.1h-1.1zM108.1 80.1h1.1v1.1h-1.1zM112.7 79.6h1.1v1.1h-1.1zM116.9 80.4h1.1v1.1h-1.1zM113.3 79.8h1.1v1.1h-1.1zM111.3 81.0h1.1v1.1h-1.1zM114.6 77.6h1.1v1.1h-1.1zM114.4 80.4h1.1v1.1h-1.1zM114.2 80.3h1.1v1.1h-1.1zM108.7 77.8h1.1v1.1h-1.1zM116.4 80.0h1.1v1.1h-1.1zM108.3 80.1h1.1v1.1h-1.1zM110.9 76.8h1.1v1.1h-1.1zM106.1 77.2h1.1v1.1h-1.1zM112.5 79.5h1.1v1.1h-1.1zM111.2 80.0h1.1v1.1h-1.1zM113.3 76.4h1.1v1.1h-1.1zM111.0 78.4h1.1v1.1h-1.1zM108.7 78.8h1.1v1.1h-1.1zM111.5 79.2h1.1v1.1h-1.1zM108.2 78.9h1.1v1.1h-1.1zM116.8 78.0h1.1v1.1h-1.1zM107.6 80.0h1.1v1.1h-1.1zM113.3 80.3h1.1v1.1h-1.1zM109.0 81.1h1.1v1.1h-1.1zM109.8 77.9h1.1v1.1h-1.1zM110.3 79.4h1.1v1.1h-1.1zM113.6 80.5h1.1v1.1h-1.1zM111.7 81.0h1.1v1.1h-1.1zM112.0 80.9h1.1v1.1h-1.1zM108.3 77.2h1.1v1.1h-1.1zM113.7 77.5h1.1v1.1h-1.1zM111.0 79.5h1.1v1.1h-1.1zM110.6 78.9h1.1v1.1h-1.1zM115.3 75.8h1.1v1.1h-1.1zM114.0 83.0h1.1v1.1h-1.1zM111.9 79.6h1.1v1.1h-1.1zM113.6 82.3h1.1v1.1h-1.1zM108.8 79.7h1.1v1.1h-1.1zM111.3 80.4h1.1v1.1h-1.1zM112.2 80.6h1.1v1.1h-1.1zM110.7 79.7h1.1v1.1h-1.1zM110.1 78.6h1.1v1.1h-1.1zM111.4 79.4h1.1v1.1h-1.1z" fill="#0a0a0a" fill-opacity="0.95"/>
<path d="M106.7 86.0h1.0v1.0h-1.0zM108.6 80.7h1.0v1.0h-1.0zM110.8 81.9h1.0v1.0h-1.0zM109.7 83.2h1.0v1.0h-1.0zM109.3 83.5h1.0v1.0h-1.0zM107.8 83.3h1.0v1.0h-1.0zM112.5 79.2h1.0v1.0h-1.0zM108.9 84.0h1.0v1.0h-1.0zM106.9 80.7h1.0v1.0h-1.0zM112.7 82.5h1.0v1.0h-1.0zM112.5 84.2h1.0v1.0h-1.0zM108.9 84.1h1.0v1.0h-1.0zM109.9 85.3h1.0v1.0h-1.0zM109.6 83.5h1.0v1.0h-1.0zM109.1 85.6h1.0v1.0h-1.0zM110.3 81.4h1.0v1.0h-1.0zM107.7 83.8h1.0v1.0h-1.0zM107.7 82.5h1.0v1.0h-1.0zM107.1 82.7h1.0v1.0h-1.0zM109.6 85.0h1.0v1.0h-1.0zM108.8 86.9h1.0v1.0h-1.0zM108.7 88.9h1.0v1.0h-1.0zM110.6 84.1h1.0v1.0h-1.0zM107.9 78.1h1.0v1.0h-1.0zM108.5 83.5h1.0v1.0h-1.0zM112.3 80.7h1.0v1.0h-1.0zM112.2 82.7h1.0v1.0h-1.0zM110.1 78.6h1.0v1.0h-1.0zM109.1 82.6h1.0v1.0h-1.0zM110.0 83.4h1.0v1.0h-1.0zM106.7 84.9h1.0v1.0h-1.0zM110.1 84.3h1.0v1.0h-1.0zM110.6 85.2h1.0v1.0h-1.0zM108.8 80.8h1.0v1.0h-1.0zM106.3 85.6h1.0v1.0h-1.0z" fill="#111" fill-opacity="0.9"/>
<path d="M107.7 69.2h1.0v1.0h-1.0zM110.3 72.5h1.0v1.0h-1.0zM113.4 68.5h1.0v1.0h-1.0zM106.9 69.1h1.0v1.0h-1.0zM108.1 69.7h1.0v1.0h-1.0zM118.0 71.4h1.0v1.0h-1.0zM106.1 74.0h1.0v1.0h-1.0zM118.6 75.1h1.0v1.0h-1.0zM113.7 71.4h1.0v1.0h-1.0zM110.0 70.7h1.0v1.0h-1.0zM116.1 75.2h1.0v1.0h-1.0zM111.3 75.8h1.0v1.0h-1.0zM113.8 74.2h1.0v1.0h-1.0zM108.0 70.2h1.0v1.0h-1.0z" fill="#222" fill-opacity="0.85"/>
<path d="M106.7 88.7h1.0v1.0h-1.0zM112.5 87.3h1.0v1.0h-1.0zM115.5 94.9h1.0v1.0h-1.0zM112.5 88.2h1.0v1.0h-1.0zM109.9 91.9h1.0v1.0h-1.0zM115.1 88.4h1.0v1.0h-1.0zM113.0 85.7h1.0v1.0h-1.0zM104.6 81.0h1.0v1.0h-1.0zM114.4 91.1h1.0v1.0h-1.0zM118.2 88.4h1.0v1.0h-1.0zM114.9 97.3h1.0v1.0h-1.0zM115.5 83.7h1.0v1.0h-1.0zM110.2 88.9h1.0v1.0h-1.0zM106.6 91.3h1.0v1.0h-1.0zM115.6 84.6h1.0v1.0h-1.0zM119.9 86.0h1.0v1.0h-1.0zM110.1 86.3h1.0v1.0h-1.0zM107.8 90.9h1.0v1.0h-1.0zM111.1 99.6h1.0v1.0h-1.0zM113.7 91.8h1.0v1.0h-1.0zM110.0 78.1h1.0v1.0h-1.0zM110.6 82.0h1.0v1.0h-1.0zM115.3 87.8h1.0v1.0h-1.0zM118.5 93.1h1.0v1.0h-1.0zM114.8 89.6h1.0v1.0h-1.0zM111.9 92.6h1.0v1.0h-1.0zM115.2 83.0h1.0v1.0h-1.0zM113.2 106.3h1.0v1.0h-1.0zM110.6 86.2h1.0v1.0h-1.0zM107.9 77.9h1.0v1.0h-1.0zM116.3 88.4h1.0v1.0h-1.0zM112.3 100.9h1.0v1.0h-1.0zM122.3 81.8h1.0v1.0h-1.0zM115.7 92.4h1.0v1.0h-1.0zM112.8 91.4h1.0v1.0h-1.0zM110.9 99.1h1.0v1.0h-1.0zM113.8 90.4h1.0v1.0h-1.0zM116.6 94.3h1.0v1.0h-1.0zM113.1 90.3h1.0v1.0h-1.0zM118.9 91.6h1.0v1.0h-1.0z" fill="#222" fill-opacity="0.85"/>
</g>
<clipPath id="c131"><rect x="132.0" y="32.5" width="83.0" height="83.5"/></clipPath><g clip-path="url(#c131)">
<path d="M131.5 69 Q150 67 168 70 Q172 90 170 104 Q164 114 150 117 L131.5 117Z" fill="#f2f2f2"/>
<path d="M150.6 89.6 L150.4 90.4 L150.2 91.1 L149.9 91.9 L149.5 92.6 L149.0 93.4 L148.3 94.1 L147.4 94.8 L146.4 95.3 L145.2 95.8 L143.9 96.0 L142.6 96.2 L141.2 96.1 L139.9 95.9 L138.7 95.6 L137.5 95.2 L136.5 94.8 L135.5 94.3 L134.6 93.8 L133.7 93.2 L132.9 92.6 L132.2 92.0 L131.5 91.2 L131.1 90.4 L130.8 89.6 L130.8 88.7 L131.1 87.9 L131.6 87.1 L132.3 86.3 L133.2 85.7 L134.3 85.2 L135.4 84.8 L136.5 84.4 L137.6 84.1 L138.8 83.9 L140.0 83.7 L141.2 83.5 L142.5 83.4 L143.8 83.4 L145.1 83.6 L146.4 83.9 L147.6 84.3 L148.6 84.9 L149.5 85.6 L150.1 86.3 L150.5 87.2 L150.7 88.0 L150.7 88.8Z" fill="none" stroke="#dadada" stroke-width="0.7"/>
<path d="M153.9 89.8 L153.8 90.9 L153.4 91.9 L152.7 92.9 L151.7 93.8 L150.6 94.6 L149.3 95.2 L148.0 95.8 L146.6 96.2 L145.2 96.6 L143.8 97.0 L142.3 97.3 L140.7 97.5 L139.1 97.7 L137.4 97.6 L135.7 97.4 L134.1 97.0 L132.7 96.4 L131.4 95.7 L130.5 94.8 L129.7 93.8 L129.3 92.8 L129.0 91.8 L128.9 90.7 L129.0 89.8 L129.1 88.8 L129.3 87.8 L129.7 86.8 L130.1 85.9 L130.8 84.9 L131.7 84.0 L132.8 83.2 L134.1 82.5 L135.7 82.0 L137.3 81.7 L139.0 81.6 L140.7 81.7 L142.4 81.9 L143.9 82.3 L145.3 82.8 L146.6 83.3 L147.9 83.8 L149.1 84.4 L150.2 85.1 L151.3 85.9 L152.3 86.7 L153.1 87.6 L153.7 88.7Z" fill="none" stroke="#dadada" stroke-width="0.7"/>
<path d="M155.8 89.9 L155.4 91.2 L154.6 92.4 L153.7 93.5 L152.7 94.5 L151.5 95.4 L150.3 96.3 L149.0 97.1 L147.5 97.9 L145.9 98.6 L144.2 99.2 L142.3 99.7 L140.3 99.9 L138.2 99.9 L136.1 99.7 L134.2 99.2 L132.5 98.5 L131.0 97.6 L129.7 96.6 L128.7 95.6 L127.9 94.5 L127.2 93.4 L126.6 92.2 L126.1 91.1 L125.8 89.9 L125.6 88.7 L125.6 87.4 L125.9 86.1 L126.6 84.9 L127.6 83.7 L129.0 82.7 L130.6 81.9 L132.5 81.3 L134.4 80.9 L136.4 80.8 L138.4 80.7 L140.3 80.8 L142.1 81.0 L143.9 81.2 L145.7 81.5 L147.5 81.9 L149.3 82.4 L151.0 83.1 L152.6 83.9 L153.9 84.9 L155.0 86.0 L155.6 87.3 L155.9 88.6Z" fill="none" stroke="#dadada" stroke-width="0.7"/>
<path d="M156.4 90.1 L156.2 91.4 L155.9 92.8 L155.5 94.2 L154.9 95.6 L153.9 97.0 L152.7 98.2 L151.0 99.4 L149.1 100.3 L146.9 101.0 L144.6 101.4 L142.2 101.5 L139.8 101.4 L137.5 101.0 L135.4 100.5 L133.4 99.9 L131.5 99.2 L129.7 98.4 L128.0 97.6 L126.3 96.7 L124.7 95.6 L123.4 94.4 L122.2 93.1 L121.5 91.6 L121.2 90.1 L121.3 88.5 L121.9 87.0 L123.0 85.6 L124.4 84.4 L126.0 83.3 L127.8 82.4 L129.6 81.6 L131.5 80.9 L133.5 80.3 L135.5 79.8 L137.6 79.3 L139.8 79.0 L142.1 78.8 L144.5 78.9 L146.9 79.2 L149.1 79.8 L151.1 80.7 L152.9 81.8 L154.2 83.0 L155.2 84.4 L155.9 85.8 L156.2 87.3 L156.4 88.7Z" fill="none" stroke="#dadada" stroke-width="0.7"/>
<path d="M159.5 90.2 L159.8 91.9 L159.7 93.7 L159.0 95.4 L157.8 97.0 L156.2 98.5 L154.2 99.7 L151.9 100.6 L149.4 101.3 L146.9 101.8 L144.3 102.1 L141.8 102.2 L139.3 102.3 L136.8 102.3 L134.3 102.1 L131.8 101.8 L129.2 101.4 L126.8 100.7 L124.4 99.7 L122.4 98.5 L120.8 97.0 L119.7 95.4 L119.1 93.7 L118.9 91.9 L119.2 90.2 L119.8 88.6 L120.7 87.0 L121.7 85.6 L122.9 84.2 L124.2 82.8 L125.7 81.5 L127.3 80.3 L129.2 79.1 L131.4 78.1 L133.9 77.3 L136.6 76.8 L139.3 76.6 L142.1 76.8 L144.8 77.3 L147.2 78.1 L149.4 79.1 L151.3 80.3 L153.0 81.5 L154.4 82.8 L155.8 84.2 L156.9 85.6 L158.0 87.0 L158.9 88.6Z" fill="none" stroke="#dadada" stroke-width="0.7"/>
<path d="M160.2 90.4 L160.2 92.2 L160.0 94.0 L159.5 95.8 L158.7 97.7 L157.4 99.5 L155.7 101.1 L153.5 102.5 L150.9 103.7 L148.0 104.4 L145.0 104.9 L141.9 104.9 L138.9 104.7 L136.0 104.3 L133.3 103.7 L130.7 103.0 L128.2 102.2 L125.7 101.3 L123.4 100.2 L121.1 99.0 L119.0 97.7 L117.2 96.1 L115.9 94.3 L115.0 92.4 L114.8 90.4 L115.2 88.4 L116.1 86.5 L117.5 84.8 L119.3 83.2 L121.4 81.8 L123.6 80.6 L125.8 79.6 L128.2 78.6 L130.6 77.7 L133.2 76.9 L135.9 76.3 L138.9 75.8 L141.9 75.6 L145.0 75.7 L148.1 76.2 L150.9 77.1 L153.4 78.3 L155.5 79.8 L157.2 81.4 L158.4 83.2 L159.2 85.0 L159.8 86.8 L160.1 88.6Z" fill="none" stroke="#dadada" stroke-width="0.7"/>
<path d="M162.2 90.5 L162.0 92.5 L161.7 94.5 L161.1 96.5 L160.2 98.5 L158.8 100.5 L157.0 102.3 L154.6 104.0 L151.8 105.3 L148.6 106.3 L145.3 106.8 L141.8 107.0 L138.4 106.7 L135.2 106.2 L132.1 105.5 L129.2 104.6 L126.5 103.6 L123.9 102.6 L121.3 101.4 L118.9 100.1 L116.6 98.5 L114.6 96.8 L113.0 94.9 L112.0 92.7 L111.6 90.5 L111.9 88.3 L112.8 86.2 L114.4 84.2 L116.4 82.4 L118.7 80.9 L121.2 79.6 L123.8 78.4 L126.5 77.4 L129.3 76.5 L132.2 75.7 L135.2 75.0 L138.4 74.5 L141.8 74.3 L145.2 74.4 L148.6 74.9 L151.8 75.8 L154.7 77.0 L157.1 78.6 L159.0 80.5 L160.4 82.4 L161.4 84.5 L161.9 86.5 L162.2 88.5Z" fill="none" stroke="#dadada" stroke-width="0.7"/>
<path d="M166.9 90.7 L166.1 93.0 L164.7 95.3 L163.0 97.3 L161.0 99.2 L158.8 100.9 L156.5 102.5 L154.0 104.0 L151.3 105.4 L148.4 106.8 L145.2 107.9 L141.7 108.7 L137.9 109.2 L134.1 109.3 L130.3 108.8 L126.7 107.9 L123.5 106.6 L120.7 105.0 L118.3 103.2 L116.4 101.2 L114.9 99.2 L113.7 97.1 L112.6 95.0 L111.8 92.9 L111.2 90.7 L110.8 88.4 L110.9 86.1 L111.5 83.7 L112.7 81.4 L114.6 79.3 L117.0 77.4 L120.1 75.9 L123.5 74.7 L127.1 74.0 L130.8 73.6 L134.4 73.6 L137.9 73.8 L141.4 74.1 L144.7 74.6 L148.0 75.2 L151.3 75.9 L154.6 76.9 L157.7 78.1 L160.6 79.6 L163.2 81.4 L165.1 83.5 L166.5 85.8 L167.0 88.3Z" fill="none" stroke="#dadada" stroke-width="0.7"/>
<path d="M169.7 90.8 L169.3 93.5 L168.1 96.1 L166.3 98.4 L163.8 100.5 L161.1 102.4 L158.1 104.0 L155.0 105.4 L151.8 106.6 L148.5 107.7 L145.0 108.7 L141.3 109.6 L137.5 110.2 L133.4 110.5 L129.3 110.3 L125.2 109.7 L121.3 108.6 L117.9 107.1 L115.0 105.1 L112.7 102.9 L111.1 100.5 L110.0 98.1 L109.3 95.6 L109.0 93.2 L108.9 90.8 L109.0 88.5 L109.3 86.0 L110.0 83.6 L111.1 81.2 L112.8 78.8 L115.0 76.6 L117.9 74.6 L121.3 73.1 L125.2 72.0 L129.3 71.3 L133.4 71.2 L137.5 71.5 L141.4 72.1 L145.0 72.9 L148.5 73.9 L151.8 75.1 L155.0 76.3 L158.1 77.7 L161.0 79.3 L163.8 81.2 L166.2 83.3 L168.1 85.6 L169.3 88.2Z" fill="none" stroke="#dadada" stroke-width="0.7"/>
<path d="M169.5 91.0 L168.5 93.6 L167.2 96.2 L165.7 98.6 L163.9 100.9 L161.9 103.2 L159.6 105.4 L156.9 107.5 L153.7 109.5 L150.1 111.1 L146.0 112.3 L141.6 113.1 L137.0 113.2 L132.5 112.8 L128.2 111.9 L124.3 110.6 L120.7 108.9 L117.6 107.1 L114.9 105.1 L112.4 103.0 L110.1 100.9 L108.0 98.7 L106.1 96.3 L104.6 93.7 L103.5 91.0 L103.1 88.2 L103.5 85.3 L104.7 82.5 L106.8 79.9 L109.6 77.6 L113.0 75.7 L116.7 74.2 L120.7 73.1 L124.8 72.3 L128.9 71.8 L132.9 71.4 L137.0 71.2 L141.1 71.2 L145.3 71.3 L149.5 71.8 L153.7 72.5 L157.8 73.7 L161.5 75.4 L164.7 77.5 L167.2 79.9 L169.0 82.6 L169.9 85.4 L170.0 88.2Z" fill="none" stroke="#dadada" stroke-width="0.7"/>
<path d="M156.2 52.3h1.0v1.0h-1.0zM170.5 54.1h1.0v1.0h-1.0zM138.1 51.5h1.0v1.0h-1.0zM153.8 65.9h1.0v1.0h-1.0zM169.2 60.5h1.0v1.0h-1.0zM138.5 54.4h1.0v1.0h-1.0zM142.4 57.8h1.0v1.0h-1.0zM162.4 58.0h1.0v1.0h-1.0zM160.0 52.4h1.0v1.0h-1.0zM135.1 54.5h1.0v1.0h-1.0zM169.1 66.2h1.0v1.0h-1.0zM148.1 67.4h1.0v1.0h-1.0zM149.8 69.6h1.0v1.0h-1.0zM160.3 55.8h1.0v1.0h-1.0zM164.3 53.6h1.0v1.0h-1.0zM141.8 48.8h1.0v1.0h-1.0zM157.4 58.6h1.0v1.0h-1.0zM153.0 56.1h1.0v1.0h-1.0zM172.7 56.0h1.0v1.0h-1.0zM144.6 67.7h1.0v1.0h-1.0zM172.5 61.4h1.0v1.0h-1.0zM162.0 59.1h1.0v1.0h-1.0zM174.2 49.4h1.0v1.0h-1.0zM162.8 54.6h1.0v1.0h-1.0zM171.2 58.5h1.0v1.0h-1.0zM167.4 54.5h1.0v1.0h-1.0zM135.7 51.2h1.0v1.0h-1.0zM146.1 51.8h1.0v1.0h-1.0zM169.6 68.4h1.0v1.0h-1.0zM157.5 51.8h1.0v1.0h-1.0zM152.5 54.2h1.0v1.0h-1.0zM172.9 61.2h1.0v1.0h-1.0zM160.4 56.2h1.0v1.0h-1.0zM139.5 61.6h1.0v1.0h-1.0zM155.3 53.4h1.0v1.0h-1.0zM148.9 70.0h1.0v1.0h-1.0zM141.5 52.6h1.0v1.0h-1.0zM151.0 54.1h1.0v1.0h-1.0zM148.4 62.7h1.0v1.0h-1.0zM176.5 46.5h1.0v1.0h-1.0zM153.8 59.3h1.0v1.0h-1.0zM152.9 57.7h1.0v1.0h-1.0zM149.6 66.0h1.0v1.0h-1.0zM148.0 58.1h1.0v1.0h-1.0zM154.0 59.8h1.0v1.0h-1.0zM151.8 66.0h1.0v1.0h-1.0zM153.9 60.2h1.0v1.0h-1.0zM153.3 52.0h1.0v1.0h-1.0zM143.2 51.6h1.0v1.0h-1.0zM156.5 54.0h1.0v1.0h-1.0zM140.2 60.7h1.0v1.0h-1.0zM160.8 46.7h1.0v1.0h-1.0zM176.0 59.2h1.0v1.0h-1.0zM152.6 66.5h1.0v1.0h-1.0zM154.9 54.8h1.0v1.0h-1.0zM152.7 64.9h1.0v1.0h-1.0zM140.1 58.3h1.0v1.0h-1.0zM142.4 58.7h1.0v1.0h-1.0zM162.6 59.6h1.0v1.0h-1.0zM138.4 61.9h1.0v1.0h-1.0zM155.4 62.1h1.0v1.0h-1.0zM168.7 66.1h1.0v1.0h-1.0zM159.3 61.2h1.0v1.0h-1.0zM139.7 58.1h1.0v1.0h-1.0zM156.9 56.2h1.0v1.0h-1.0zM155.3 53.2h1.0v1.0h-1.0zM148.9 61.8h1.0v1.0h-1.0zM151.0 67.8h1.0v1.0h-1.0zM159.7 59.5h1.0v1.0h-1.0zM151.1 59.9h1.0v1.0h-1.0zM141.0 63.7h1.0v1.0h-1.0zM144.7 62.7h1.0v1.0h-1.0zM155.7 66.7h1.0v1.0h-1.0zM153.8 66.2h1.0v1.0h-1.0zM142.0 63.3h1.0v1.0h-1.0zM151.1 60.4h1.0v1.0h-1.0zM154.9 65.6h1.0v1.0h-1.0zM134.6 67.4h1.0v1.0h-1.0zM137.2 59.8h1.0v1.0h-1.0zM147.0 46.4h1.0v1.0h-1.0zM149.6 63.6h1.0v1.0h-1.0zM151.6 65.6h1.0v1.0h-1.0zM149.3 59.0h1.0v1.0h-1.0zM149.0 61.4h1.0v1.0h-1.0zM178.7 61.5h1.0v1.0h-1.0zM156.5 54.7h1.0v1.0h-1.0zM144.2 69.2h1.0v1.0h-1.0zM139.5 52.6h1.0v1.0h-1.0zM152.7 56.0h1.0v1.0h-1.0zM158.7 64.0h1.0v1.0h-1.0zM139.4 54.5h1.0v1.0h-1.0zM159.6 70.4h1.0v1.0h-1.0zM142.0 47.9h1.0v1.0h-1.0zM166.6 69.7h1.0v1.0h-1.0zM172.9 57.6h1.0v1.0h-1.0zM168.6 58.7h1.0v1.0h-1.0zM149.1 55.8h1.0v1.0h-1.0zM173.2 69.0h1.0v1.0h-1.0zM177.1 56.4h1.0v1.0h-1.0zM136.3 59.0h1.0v1.0h-1.0zM152.6 58.3h1.0v1.0h-1.0zM147.8 56.8h1.0v1.0h-1.0zM148.1 61.3h1.0v1.0h-1.0zM143.4 57.0h1.0v1.0h-1.0zM152.1 68.1h1.0v1.0h-1.0zM158.9 58.2h1.0v1.0h-1.0zM161.0 61.8h1.0v1.0h-1.0zM168.1 62.5h1.0v1.0h-1.0zM177.3 68.4h1.0v1.0h-1.0zM153.5 56.1h1.0v1.0h-1.0zM165.5 62.6h1.0v1.0h-1.0zM152.8 48.7h1.0v1.0h-1.0zM164.0 64.6h1.0v1.0h-1.0zM137.3 66.3h1.0v1.0h-1.0zM147.1 61.7h1.0v1.0h-1.0zM159.4 53.4h1.0v1.0h-1.0zM142.1 46.4h1.0v1.0h-1.0zM159.7 59.4h1.0v1.0h-1.0zM165.9 61.5h1.0v1.0h-1.0zM145.7 61.4h1.0v1.0h-1.0zM148.9 63.3h1.0v1.0h-1.0zM158.1 52.1h1.0v1.0h-1.0zM154.0 59.4h1.0v1.0h-1.0zM150.0 65.3h1.0v1.0h-1.0zM176.3 56.4h1.0v1.0h-1.0zM152.3 55.9h1.0v1.0h-1.0zM161.7 53.9h1.0v1.0h-1.0zM149.2 52.2h1.0v1.0h-1.0zM163.9 48.4h1.0v1.0h-1.0zM154.7 62.3h1.0v1.0h-1.0zM152.1 50.8h1.0v1.0h-1.0zM153.6 61.8h1.0v1.0h-1.0zM140.7 61.4h1.0v1.0h-1.0zM170.2 66.5h1.0v1.0h-1.0zM133.4 52.2h1.0v1.0h-1.0zM133.0 66.5h1.0v1.0h-1.0zM161.9 63.9h1.0v1.0h-1.0zM142.6 50.8h1.0v1.0h-1.0zM155.0 59.7h1.0v1.0h-1.0zM142.9 60.0h1.0v1.0h-1.0zM162.4 60.6h1.0v1.0h-1.0zM150.6 60.2h1.0v1.0h-1.0zM150.6 56.0h1.0v1.0h-1.0zM145.0 64.0h1.0v1.0h-1.0zM153.3 59.9h1.0v1.0h-1.0zM141.4 54.7h1.0v1.0h-1.0zM156.1 52.0h1.0v1.0h-1.0zM137.6 56.7h1.0v1.0h-1.0zM169.6 60.3h1.0v1.0h-1.0zM173.0 58.1h1.0v1.0h-1.0zM150.0 49.3h1.0v1.0h-1.0zM146.5 69.0h1.0v1.0h-1.0zM158.3 64.1h1.0v1.0h-1.0zM163.2 58.9h1.0v1.0h-1.0zM151.3 59.8h1.0v1.0h-1.0zM162.7 62.2h1.0v1.0h-1.0zM160.4 60.1h1.0v1.0h-1.0zM144.0 57.2h1.0v1.0h-1.0zM141.8 66.0h1.0v1.0h-1.0zM139.2 58.9h1.0v1.0h-1.0zM170.8 57.9h1.0v1.0h-1.0zM162.0 59.7h1.0v1.0h-1.0zM154.9 55.2h1.0v1.0h-1.0zM147.6 61.7h1.0v1.0h-1.0zM159.3 64.4h1.0v1.0h-1.0zM155.8 49.0h1.0v1.0h-1.0zM160.9 56.8h1.0v1.0h-1.0zM150.3 48.6h1.0v1.0h-1.0zM146.5 53.9h1.0v1.0h-1.0zM153.5 48.8h1.0v1.0h-1.0zM154.7 59.9h1.0v1.0h-1.0zM139.4 54.6h1.0v1.0h-1.0zM142.9 65.4h1.0v1.0h-1.0zM165.0 54.6h1.0v1.0h-1.0zM155.8 53.1h1.0v1.0h-1.0zM179.2 65.4h1.0v1.0h-1.0zM168.7 49.7h1.0v1.0h-1.0zM139.7 66.6h1.0v1.0h-1.0zM151.5 57.2h1.0v1.0h-1.0zM158.3 50.2h1.0v1.0h-1.0zM164.0 59.1h1.0v1.0h-1.0zM160.2 54.3h1.0v1.0h-1.0zM160.7 54.1h1.0v1.0h-1.0zM166.4 66.9h1.0v1.0h-1.0zM165.9 62.6h1.0v1.0h-1.0zM164.9 57.1h1.0v1.0h-1.0zM155.2 57.0h1.0v1.0h-1.0zM135.9 55.2h1.0v1.0h-1.0zM162.6 68.9h1.0v1.0h-1.0zM145.9 52.7h1.0v1.0h-1.0zM172.9 52.8h1.0v1.0h-1.0zM142.5 65.9h1.0v1.0h-1.0zM176.0 49.0h1.0v1.0h-1.0zM174.3 57.0h1.0v1.0h-1.0zM173.3 56.3h1.0v1.0h-1.0zM133.5 62.5h1.0v1.0h-1.0zM176.4 63.9h1.0v1.0h-1.0zM150.9 55.4h1.0v1.0h-1.0zM150.2 53.2h1.0v1.0h-1.0zM156.3 58.8h1.0v1.0h-1.0zM147.8 63.0h1.0v1.0h-1.0zM138.1 54.8h1.0v1.0h-1.0zM161.7 50.8h1.0v1.0h-1.0zM153.2 65.6h1.0v1.0h-1.0zM160.4 61.7h1.0v1.0h-1.0zM142.8 54.5h1.0v1.0h-1.0zM155.2 65.4h1.0v1.0h-1.0zM143.2 51.2h1.0v1.0h-1.0zM168.9 52.5h1.0v1.0h-1.0zM168.0 60.7h1.0v1.0h-1.0zM165.5 71.2h1.0v1.0h-1.0zM163.0 64.4h1.0v1.0h-1.0zM142.1 54.1h1.0v1.0h-1.0zM162.4 69.7h1.0v1.0h-1.0zM158.0 60.4h1.0v1.0h-1.0zM167.1 59.1h1.0v1.0h-1.0zM153.2 51.7h1.0v1.0h-1.0zM166.9 51.5h1.0v1.0h-1.0zM160.7 49.1h1.0v1.0h-1.0zM168.3 51.8h1.0v1.0h-1.0zM165.0 47.9h1.0v1.0h-1.0zM148.3 67.2h1.0v1.0h-1.0zM143.5 59.5h1.0v1.0h-1.0zM158.0 62.0h1.0v1.0h-1.0zM139.6 63.0h1.0v1.0h-1.0zM143.7 52.0h1.0v1.0h-1.0zM154.1 54.2h1.0v1.0h-1.0zM163.6 65.9h1.0v1.0h-1.0zM161.3 55.6h1.0v1.0h-1.0zM159.0 67.0h1.0v1.0h-1.0zM149.2 51.6h1.0v1.0h-1.0zM141.9 61.2h1.0v1.0h-1.0zM157.0 49.3h1.0v1.0h-1.0zM176.4 66.6h1.0v1.0h-1.0zM165.0 50.7h1.0v1.0h-1.0zM148.7 55.2h1.0v1.0h-1.0zM148.6 51.1h1.0v1.0h-1.0zM159.7 60.6h1.0v1.0h-1.0zM158.7 55.5h1.0v1.0h-1.0zM170.8 60.3h1.0v1.0h-1.0zM153.3 65.8h1.0v1.0h-1.0zM150.1 57.2h1.0v1.0h-1.0zM145.4 63.7h1.0v1.0h-1.0zM148.2 54.8h1.0v1.0h-1.0zM144.4 62.9h1.0v1.0h-1.0zM147.1 47.3h1.0v1.0h-1.0zM162.1 54.1h1.0v1.0h-1.0zM158.6 61.6h1.0v1.0h-1.0zM169.6 66.3h1.0v1.0h-1.0zM146.5 57.8h1.0v1.0h-1.0zM137.2 70.7h1.0v1.0h-1.0zM159.7 68.8h1.0v1.0h-1.0zM173.9 59.7h1.0v1.0h-1.0zM155.7 59.4h1.0v1.0h-1.0zM162.4 62.7h1.0v1.0h-1.0zM133.3 66.6h1.0v1.0h-1.0zM147.1 55.7h1.0v1.0h-1.0zM176.5 65.4h1.0v1.0h-1.0zM149.6 46.0h1.0v1.0h-1.0zM156.1 62.8h1.0v1.0h-1.0z" fill="#888" fill-opacity="0.5"/>
<path d="M151.1 67.6h1.0v1.0h-1.0zM143.3 67.5h1.0v1.0h-1.0zM154.4 69.6h1.0v1.0h-1.0zM163.3 68.1h1.0v1.0h-1.0zM154.6 69.4h1.0v1.0h-1.0zM146.4 68.7h1.0v1.0h-1.0zM161.7 68.4h1.0v1.0h-1.0zM152.5 67.1h1.0v1.0h-1.0zM151.7 70.0h1.0v1.0h-1.0zM159.6 68.9h1.0v1.0h-1.0zM145.4 68.6h1.0v1.0h-1.0zM158.7 68.0h1.0v1.0h-1.0zM162.3 67.8h1.0v1.0h-1.0zM133.7 67.4h1.0v1.0h-1.0zM164.5 68.6h1.0v1.0h-1.0zM154.4 70.0h1.0v1.0h-1.0zM165.9 68.3h1.0v1.0h-1.0zM166.6 69.2h1.0v1.0h-1.0zM152.0 69.2h1.0v1.0h-1.0zM136.3 68.0h1.0v1.0h-1.0zM150.8 69.4h1.0v1.0h-1.0zM147.9 68.7h1.0v1.0h-1.0zM162.7 70.2h1.0v1.0h-1.0zM160.4 70.1h1.0v1.0h-1.0zM147.6 68.5h1.0v1.0h-1.0zM155.5 68.5h1.0v1.0h-1.0zM146.4 70.5h1.0v1.0h-1.0zM149.8 67.8h1.0v1.0h-1.0zM157.4 70.6h1.0v1.0h-1.0zM152.9 70.0h1.0v1.0h-1.0zM147.2 68.3h1.0v1.0h-1.0zM144.4 68.7h1.0v1.0h-1.0zM170.0 67.8h1.0v1.0h-1.0zM149.4 69.6h1.0v1.0h-1.0zM158.9 69.1h1.0v1.0h-1.0zM133.9 69.2h1.0v1.0h-1.0zM140.8 71.4h1.0v1.0h-1.0zM149.7 69.0h1.0v1.0h-1.0zM139.4 68.3h1.0v1.0h-1.0zM137.8 69.8h1.0v1.0h-1.0zM149.1 69.4h1.0v1.0h-1.0zM144.5 68.3h1.0v1.0h-1.0zM166.2 67.8h1.0v1.0h-1.0zM139.4 68.4h1.0v1.0h-1.0zM162.0 68.0h1.0v1.0h-1.0zM161.7 68.1h1.0v1.0h-1.0zM168.4 70.1h1.0v1.0h-1.0zM146.8 68.6h1.0v1.0h-1.0zM142.8 69.0h1.0v1.0h-1.0zM164.6 67.4h1.0v1.0h-1.0zM162.1 67.5h1.0v1.0h-1.0zM142.5 67.0h1.0v1.0h-1.0zM154.7 68.1h1.0v1.0h-1.0zM163.7 66.7h1.0v1.0h-1.0zM152.3 71.0h1.0v1.0h-1.0zM147.8 68.8h1.0v1.0h-1.0zM159.4 68.0h1.0v1.0h-1.0zM152.3 69.8h1.0v1.0h-1.0zM154.1 69.2h1.0v1.0h-1.0zM148.2 69.1h1.0v1.0h-1.0zM152.6 70.3h1.0v1.0h-1.0zM160.0 68.6h1.0v1.0h-1.0zM160.3 67.9h1.0v1.0h-1.0zM162.2 67.7h1.0v1.0h-1.0zM146.9 69.0h1.0v1.0h-1.0zM165.5 68.8h1.0v1.0h-1.0zM150.9 68.3h1.0v1.0h-1.0zM169.9 69.9h1.0v1.0h-1.0zM151.0 67.4h1.0v1.0h-1.0zM143.3 69.4h1.0v1.0h-1.0zM144.1 69.7h1.0v1.0h-1.0zM156.0 69.1h1.0v1.0h-1.0zM159.2 69.3h1.0v1.0h-1.0zM142.6 68.5h1.0v1.0h-1.0zM146.8 69.9h1.0v1.0h-1.0zM150.2 68.0h1.0v1.0h-1.0zM137.4 69.3h1.0v1.0h-1.0zM163.2 70.2h1.0v1.0h-1.0zM152.6 69.8h1.0v1.0h-1.0zM140.6 69.0h1.0v1.0h-1.0zM144.5 69.0h1.0v1.0h-1.0zM160.3 69.9h1.0v1.0h-1.0zM141.1 70.1h1.0v1.0h-1.0zM146.8 67.8h1.0v1.0h-1.0zM150.1 67.3h1.0v1.0h-1.0zM152.1 69.1h1.0v1.0h-1.0zM149.8 69.3h1.0v1.0h-1.0zM148.5 68.8h1.0v1.0h-1.0zM136.2 68.8h1.0v1.0h-1.0zM142.6 68.4h1.0v1.0h-1.0z" fill="#777" fill-opacity="0.6"/>
<path d="M167.5 72.9h1.0v1.0h-1.0zM180.8 84.5h1.0v1.0h-1.0zM176.7 78.6h1.0v1.0h-1.0zM170.1 96.8h1.0v1.0h-1.0zM169.4 78.6h1.0v1.0h-1.0zM181.3 78.7h1.0v1.0h-1.0zM185.1 74.3h1.0v1.0h-1.0zM177.0 87.4h1.0v1.0h-1.0zM176.5 95.9h1.0v1.0h-1.0zM167.9 87.7h1.0v1.0h-1.0zM182.0 69.8h1.0v1.0h-1.0zM177.4 83.9h1.0v1.0h-1.0zM174.7 87.4h1.0v1.0h-1.0zM178.9 93.3h1.0v1.0h-1.0zM184.1 91.6h1.0v1.0h-1.0zM186.0 91.9h1.0v1.0h-1.0zM172.1 73.3h1.0v1.0h-1.0zM168.3 77.7h1.0v1.0h-1.0zM169.3 92.6h1.0v1.0h-1.0zM180.1 90.0h1.0v1.0h-1.0zM174.3 84.7h1.0v1.0h-1.0zM171.9 101.1h1.0v1.0h-1.0zM167.3 79.5h1.0v1.0h-1.0zM177.9 74.5h1.0v1.0h-1.0zM183.2 85.3h1.0v1.0h-1.0zM174.0 70.3h1.0v1.0h-1.0zM172.3 89.2h1.0v1.0h-1.0zM172.3 69.6h1.0v1.0h-1.0zM178.0 78.9h1.0v1.0h-1.0zM183.1 92.9h1.0v1.0h-1.0zM180.7 100.0h1.0v1.0h-1.0zM182.4 79.9h1.0v1.0h-1.0zM177.8 77.3h1.0v1.0h-1.0zM170.8 75.4h1.0v1.0h-1.0zM169.1 76.6h1.0v1.0h-1.0zM171.3 92.2h1.0v1.0h-1.0zM171.8 69.7h1.0v1.0h-1.0zM175.0 75.2h1.0v1.0h-1.0zM180.1 76.0h1.0v1.0h-1.0zM177.6 74.3h1.0v1.0h-1.0zM176.2 99.2h1.0v1.0h-1.0zM172.8 87.0h1.0v1.0h-1.0zM175.3 70.5h1.0v1.0h-1.0zM167.4 98.3h1.0v1.0h-1.0zM173.5 92.7h1.0v1.0h-1.0zM174.8 98.2h1.0v1.0h-1.0zM170.7 85.4h1.0v1.0h-1.0zM177.4 96.6h1.0v1.0h-1.0zM167.6 81.0h1.0v1.0h-1.0zM176.0 89.2h1.0v1.0h-1.0zM169.7 87.6h1.0v1.0h-1.0zM180.2 94.4h1.0v1.0h-1.0zM171.3 83.9h1.0v1.0h-1.0zM172.7 82.0h1.0v1.0h-1.0zM173.9 102.0h1.0v1.0h-1.0zM167.3 102.1h1.0v1.0h-1.0zM167.6 70.8h1.0v1.0h-1.0zM170.9 78.3h1.0v1.0h-1.0zM183.3 98.3h1.0v1.0h-1.0zM184.8 82.0h1.0v1.0h-1.0zM167.3 90.5h1.0v1.0h-1.0zM184.1 71.9h1.0v1.0h-1.0zM182.7 68.1h1.0v1.0h-1.0zM180.9 85.8h1.0v1.0h-1.0zM184.3 99.5h1.0v1.0h-1.0zM167.9 85.9h1.0v1.0h-1.0zM171.6 83.8h1.0v1.0h-1.0zM168.3 81.0h1.0v1.0h-1.0zM174.8 68.1h1.0v1.0h-1.0zM176.0 100.2h1.0v1.0h-1.0zM168.2 102.0h1.0v1.0h-1.0zM176.3 75.6h1.0v1.0h-1.0zM185.4 85.0h1.0v1.0h-1.0zM175.3 81.6h1.0v1.0h-1.0zM183.7 72.7h1.0v1.0h-1.0zM171.0 78.2h1.0v1.0h-1.0zM168.2 98.4h1.0v1.0h-1.0zM176.3 89.7h1.0v1.0h-1.0zM183.8 85.8h1.0v1.0h-1.0zM172.2 87.1h1.0v1.0h-1.0zM176.5 78.8h1.0v1.0h-1.0zM171.4 80.9h1.0v1.0h-1.0zM181.0 74.0h1.0v1.0h-1.0zM185.9 76.5h1.0v1.0h-1.0zM172.2 72.4h1.0v1.0h-1.0zM174.4 81.4h1.0v1.0h-1.0zM180.0 100.3h1.0v1.0h-1.0zM171.7 97.1h1.0v1.0h-1.0zM172.9 82.6h1.0v1.0h-1.0zM169.4 100.1h1.0v1.0h-1.0zM174.1 93.2h1.0v1.0h-1.0zM167.5 93.1h1.0v1.0h-1.0zM171.3 84.3h1.0v1.0h-1.0zM179.8 74.1h1.0v1.0h-1.0zM177.0 98.1h1.0v1.0h-1.0zM170.1 84.8h1.0v1.0h-1.0zM170.5 73.2h1.0v1.0h-1.0zM176.3 84.4h1.0v1.0h-1.0zM179.2 98.9h1.0v1.0h-1.0zM180.4 80.1h1.0v1.0h-1.0zM176.2 92.3h1.0v1.0h-1.0zM182.9 92.6h1.0v1.0h-1.0zM176.5 72.8h1.0v1.0h-1.0zM183.5 78.1h1.0v1.0h-1.0zM174.7 99.8h1.0v1.0h-1.0zM170.9 100.9h1.0v1.0h-1.0zM171.4 71.1h1.0v1.0h-1.0zM176.8 96.6h1.0v1.0h-1.0zM174.6 98.3h1.0v1.0h-1.0zM174.5 97.3h1.0v1.0h-1.0zM169.1 78.2h1.0v1.0h-1.0zM169.3 94.6h1.0v1.0h-1.0zM175.9 91.6h1.0v1.0h-1.0zM171.5 94.4h1.0v1.0h-1.0zM185.9 70.8h1.0v1.0h-1.0zM173.1 99.3h1.0v1.0h-1.0zM183.2 99.4h1.0v1.0h-1.0zM171.3 88.3h1.0v1.0h-1.0zM168.6 83.5h1.0v1.0h-1.0zM177.9 77.3h1.0v1.0h-1.0z" fill="#888" fill-opacity="0.55"/>
<path d="M146.6 113.6h1.0v1.0h-1.0zM142.9 107.1h1.0v1.0h-1.0zM145.0 111.1h1.0v1.0h-1.0zM140.7 111.8h1.0v1.0h-1.0zM168.1 109.2h1.0v1.0h-1.0zM150.4 115.0h1.0v1.0h-1.0zM143.4 108.4h1.0v1.0h-1.0zM138.9 112.2h1.0v1.0h-1.0zM155.0 110.5h1.0v1.0h-1.0zM150.3 114.8h1.0v1.0h-1.0zM158.5 106.7h1.0v1.0h-1.0zM149.7 111.3h1.0v1.0h-1.0zM157.0 110.3h1.0v1.0h-1.0zM143.3 109.6h1.0v1.0h-1.0zM143.8 112.3h1.0v1.0h-1.0zM139.4 109.6h1.0v1.0h-1.0zM139.9 107.7h1.0v1.0h-1.0zM156.7 109.5h1.0v1.0h-1.0zM154.1 107.5h1.0v1.0h-1.0zM150.6 105.8h1.0v1.0h-1.0zM144.8 109.4h1.0v1.0h-1.0zM155.4 111.4h1.0v1.0h-1.0zM147.8 113.4h1.0v1.0h-1.0zM151.5 112.5h1.0v1.0h-1.0zM157.2 110.7h1.0v1.0h-1.0zM146.6 111.9h1.0v1.0h-1.0zM145.4 112.0h1.0v1.0h-1.0zM160.6 113.4h1.0v1.0h-1.0zM145.7 107.0h1.0v1.0h-1.0zM149.0 110.5h1.0v1.0h-1.0zM160.6 109.7h1.0v1.0h-1.0zM147.5 113.1h1.0v1.0h-1.0zM144.8 110.4h1.0v1.0h-1.0zM166.6 115.3h1.0v1.0h-1.0zM155.8 111.7h1.0v1.0h-1.0zM139.9 112.5h1.0v1.0h-1.0zM150.1 111.5h1.0v1.0h-1.0zM144.4 110.8h1.0v1.0h-1.0zM147.7 111.8h1.0v1.0h-1.0zM163.8 111.9h1.0v1.0h-1.0zM133.7 108.5h1.0v1.0h-1.0zM155.1 112.1h1.0v1.0h-1.0zM143.5 111.7h1.0v1.0h-1.0zM142.0 106.6h1.0v1.0h-1.0zM135.5 108.3h1.0v1.0h-1.0zM163.7 106.8h1.0v1.0h-1.0zM161.9 114.8h1.0v1.0h-1.0zM147.7 110.7h1.0v1.0h-1.0zM143.4 110.8h1.0v1.0h-1.0zM156.1 110.9h1.0v1.0h-1.0zM159.4 114.4h1.0v1.0h-1.0zM152.9 111.8h1.0v1.0h-1.0zM148.9 111.9h1.0v1.0h-1.0zM138.4 112.1h1.0v1.0h-1.0zM151.5 108.3h1.0v1.0h-1.0zM171.0 107.9h1.0v1.0h-1.0zM140.8 111.7h1.0v1.0h-1.0zM134.3 107.9h1.0v1.0h-1.0zM148.1 111.8h1.0v1.0h-1.0zM160.5 113.3h1.0v1.0h-1.0zM161.3 112.6h1.0v1.0h-1.0zM144.8 114.2h1.0v1.0h-1.0zM144.6 109.0h1.0v1.0h-1.0zM164.7 113.2h1.0v1.0h-1.0zM151.6 113.1h1.0v1.0h-1.0zM158.2 106.8h1.0v1.0h-1.0zM148.5 107.3h1.0v1.0h-1.0zM150.7 108.8h1.0v1.0h-1.0zM163.0 112.4h1.0v1.0h-1.0zM141.3 110.8h1.0v1.0h-1.0zM137.3 111.0h1.0v1.0h-1.0zM154.9 111.6h1.0v1.0h-1.0zM154.5 111.7h1.0v1.0h-1.0zM161.0 107.0h1.0v1.0h-1.0zM154.7 108.9h1.0v1.0h-1.0zM151.4 112.0h1.0v1.0h-1.0zM156.3 109.1h1.0v1.0h-1.0zM151.3 107.3h1.0v1.0h-1.0zM135.3 112.5h1.0v1.0h-1.0zM148.9 106.0h1.0v1.0h-1.0zM140.9 110.9h1.0v1.0h-1.0zM165.0 114.0h1.0v1.0h-1.0zM157.4 105.5h1.0v1.0h-1.0zM148.4 112.3h1.0v1.0h-1.0zM153.4 112.1h1.0v1.0h-1.0zM164.2 110.5h1.0v1.0h-1.0zM143.9 114.4h1.0v1.0h-1.0zM168.5 108.0h1.0v1.0h-1.0zM152.3 109.8h1.0v1.0h-1.0zM154.6 111.8h1.0v1.0h-1.0zM168.9 112.6h1.0v1.0h-1.0zM149.3 114.2h1.0v1.0h-1.0zM146.7 109.7h1.0v1.0h-1.0zM171.8 108.4h1.0v1.0h-1.0zM144.5 111.0h1.0v1.0h-1.0zM138.8 104.5h1.0v1.0h-1.0zM160.0 108.5h1.0v1.0h-1.0zM144.0 109.7h1.0v1.0h-1.0zM139.6 107.6h1.0v1.0h-1.0zM156.8 113.1h1.0v1.0h-1.0zM134.4 110.8h1.0v1.0h-1.0zM137.6 113.1h1.0v1.0h-1.0zM147.1 110.9h1.0v1.0h-1.0zM148.5 109.1h1.0v1.0h-1.0zM134.2 112.6h1.0v1.0h-1.0zM135.6 107.3h1.0v1.0h-1.0zM146.4 108.7h1.0v1.0h-1.0zM152.0 113.9h1.0v1.0h-1.0zM151.9 111.4h1.0v1.0h-1.0zM149.6 113.4h1.0v1.0h-1.0zM140.1 107.1h1.0v1.0h-1.0zM149.5 109.7h1.0v1.0h-1.0zM155.2 114.1h1.0v1.0h-1.0zM169.0 113.4h1.0v1.0h-1.0zM163.9 111.1h1.0v1.0h-1.0zM135.1 107.4h1.0v1.0h-1.0zM156.5 113.7h1.0v1.0h-1.0zM142.1 110.0h1.0v1.0h-1.0zM152.0 105.6h1.0v1.0h-1.0zM145.9 115.7h1.0v1.0h-1.0zM171.3 110.5h1.0v1.0h-1.0zM167.7 109.2h1.0v1.0h-1.0zM141.3 104.1h1.0v1.0h-1.0zM159.0 109.7h1.0v1.0h-1.0zM151.3 105.4h1.0v1.0h-1.0zM164.4 109.7h1.0v1.0h-1.0zM147.8 104.2h1.0v1.0h-1.0zM158.7 113.8h1.0v1.0h-1.0zM143.4 111.1h1.0v1.0h-1.0zM153.4 113.7h1.0v1.0h-1.0z" fill="#999" fill-opacity="0.6"/>
<path d="M199.6 71.7h1.2v1.2h-1.2zM198.8 64.4h1.2v1.2h-1.2zM198.2 58.5h1.2v1.2h-1.2zM197.3 69.4h1.2v1.2h-1.2zM200.0 63.8h1.2v1.2h-1.2zM200.2 60.1h1.2v1.2h-1.2zM198.6 68.0h1.2v1.2h-1.2zM201.1 63.9h1.2v1.2h-1.2zM201.6 72.1h1.2v1.2h-1.2zM198.3 68.6h1.2v1.2h-1.2zM195.5 60.2h1.2v1.2h-1.2zM200.9 66.5h1.2v1.2h-1.2zM199.9 64.5h1.2v1.2h-1.2zM198.6 68.9h1.2v1.2h-1.2zM203.7 65.7h1.2v1.2h-1.2zM195.2 70.3h1.2v1.2h-1.2zM200.9 68.5h1.2v1.2h-1.2zM199.8 73.5h1.2v1.2h-1.2zM199.6 67.9h1.2v1.2h-1.2zM194.7 64.5h1.2v1.2h-1.2zM197.7 66.2h1.2v1.2h-1.2zM200.2 64.0h1.2v1.2h-1.2zM203.7 63.0h1.2v1.2h-1.2zM198.2 67.1h1.2v1.2h-1.2zM196.2 68.1h1.2v1.2h-1.2zM201.0 65.4h1.2v1.2h-1.2zM204.1 66.6h1.2v1.2h-1.2zM200.1 63.4h1.2v1.2h-1.2zM195.2 64.4h1.2v1.2h-1.2zM198.6 64.9h1.2v1.2h-1.2zM201.3 58.9h1.2v1.2h-1.2zM196.5 60.7h1.2v1.2h-1.2zM202.7 64.6h1.2v1.2h-1.2zM198.1 62.9h1.2v1.2h-1.2zM201.6 65.1h1.2v1.2h-1.2zM199.9 60.0h1.2v1.2h-1.2zM202.3 67.6h1.2v1.2h-1.2zM200.8 70.2h1.2v1.2h-1.2zM198.9 65.8h1.2v1.2h-1.2zM201.2 67.7h1.2v1.2h-1.2zM198.8 66.5h1.2v1.2h-1.2zM198.1 68.6h1.2v1.2h-1.2zM201.7 66.4h1.2v1.2h-1.2zM204.1 61.6h1.2v1.2h-1.2zM198.8 71.7h1.2v1.2h-1.2zM198.3 61.4h1.2v1.2h-1.2zM202.9 68.0h1.2v1.2h-1.2zM196.4 68.8h1.2v1.2h-1.2zM196.8 62.2h1.2v1.2h-1.2zM199.0 64.9h1.2v1.2h-1.2zM196.6 65.2h1.2v1.2h-1.2zM196.9 66.5h1.2v1.2h-1.2zM199.3 68.7h1.2v1.2h-1.2zM198.2 62.2h1.2v1.2h-1.2zM196.1 65.6h1.2v1.2h-1.2zM203.2 69.0h1.2v1.2h-1.2zM197.8 69.3h1.2v1.2h-1.2zM196.5 69.5h1.2v1.2h-1.2zM198.4 68.7h1.2v1.2h-1.2zM200.9 65.5h1.2v1.2h-1.2zM200.2 63.0h1.2v1.2h-1.2zM199.2 69.7h1.2v1.2h-1.2zM209.7 68.5h1.2v1.2h-1.2zM199.6 63.2h1.2v1.2h-1.2zM202.0 61.2h1.2v1.2h-1.2zM197.4 67.5h1.2v1.2h-1.2zM196.4 71.1h1.2v1.2h-1.2zM202.1 64.6h1.2v1.2h-1.2zM198.0 62.3h1.2v1.2h-1.2zM195.9 67.7h1.2v1.2h-1.2zM200.9 67.4h1.2v1.2h-1.2zM200.1 64.6h1.2v1.2h-1.2zM200.3 61.8h1.2v1.2h-1.2zM199.4 70.9h1.2v1.2h-1.2zM202.7 64.9h1.2v1.2h-1.2zM198.5 70.6h1.2v1.2h-1.2zM203.9 61.7h1.2v1.2h-1.2zM198.3 67.1h1.2v1.2h-1.2zM202.4 63.8h1.2v1.2h-1.2zM201.0 65.4h1.2v1.2h-1.2zM205.3 67.7h1.2v1.2h-1.2zM199.0 65.3h1.2v1.2h-1.2zM202.0 68.5h1.2v1.2h-1.2zM196.7 67.0h1.2v1.2h-1.2zM196.0 64.0h1.2v1.2h-1.2zM196.1 62.2h1.2v1.2h-1.2zM197.7 63.3h1.2v1.2h-1.2zM200.7 68.8h1.2v1.2h-1.2zM198.8 62.9h1.2v1.2h-1.2zM201.4 60.1h1.2v1.2h-1.2zM194.5 68.6h1.2v1.2h-1.2zM201.0 69.4h1.2v1.2h-1.2zM198.8 62.4h1.2v1.2h-1.2zM198.1 68.1h1.2v1.2h-1.2zM197.5 64.2h1.2v1.2h-1.2zM195.9 62.7h1.2v1.2h-1.2zM201.5 67.8h1.2v1.2h-1.2zM196.5 63.0h1.2v1.2h-1.2zM198.0 68.1h1.2v1.2h-1.2zM196.5 65.8h1.2v1.2h-1.2zM194.0 62.4h1.2v1.2h-1.2zM200.4 69.2h1.2v1.2h-1.2zM196.5 64.0h1.2v1.2h-1.2zM201.4 65.1h1.2v1.2h-1.2zM198.0 68.0h1.2v1.2h-1.2zM199.9 69.8h1.2v1.2h-1.2zM201.4 64.6h1.2v1.2h-1.2zM199.1 66.2h1.2v1.2h-1.2zM196.0 63.3h1.2v1.2h-1.2zM201.8 61.4h1.2v1.2h-1.2zM201.9 67.3h1.2v1.2h-1.2zM199.0 68.0h1.2v1.2h-1.2zM200.6 70.1h1.2v1.2h-1.2zM198.4 65.7h1.2v1.2h-1.2zM198.8 72.2h1.2v1.2h-1.2zM201.8 63.5h1.2v1.2h-1.2zM198.6 64.2h1.2v1.2h-1.2zM199.4 67.0h1.2v1.2h-1.2zM205.1 60.7h1.2v1.2h-1.2zM202.0 67.7h1.2v1.2h-1.2zM197.6 65.9h1.2v1.2h-1.2zM198.2 66.5h1.2v1.2h-1.2zM201.9 61.7h1.2v1.2h-1.2zM202.7 65.2h1.2v1.2h-1.2zM203.2 67.7h1.2v1.2h-1.2zM202.5 68.1h1.2v1.2h-1.2zM202.1 66.6h1.2v1.2h-1.2zM197.3 68.5h1.2v1.2h-1.2zM201.2 72.9h1.2v1.2h-1.2zM194.4 65.8h1.2v1.2h-1.2zM202.1 62.5h1.2v1.2h-1.2zM198.8 73.0h1.2v1.2h-1.2zM203.0 63.7h1.2v1.2h-1.2zM203.0 70.1h1.2v1.2h-1.2zM201.4 67.6h1.2v1.2h-1.2zM200.0 63.7h1.2v1.2h-1.2zM198.1 68.7h1.2v1.2h-1.2zM199.8 72.1h1.2v1.2h-1.2zM198.6 59.0h1.2v1.2h-1.2zM198.6 67.3h1.2v1.2h-1.2zM200.4 66.6h1.2v1.2h-1.2zM197.4 71.1h1.2v1.2h-1.2zM197.8 68.6h1.2v1.2h-1.2zM198.7 62.7h1.2v1.2h-1.2zM203.0 58.6h1.2v1.2h-1.2zM197.3 67.8h1.2v1.2h-1.2zM198.5 68.7h1.2v1.2h-1.2zM199.2 65.0h1.2v1.2h-1.2zM204.8 65.7h1.2v1.2h-1.2zM199.0 63.1h1.2v1.2h-1.2z" fill="#0a0a0a" fill-opacity="0.95"/>
<path d="M196.4 70.0h1.0v1.0h-1.0zM201.7 66.9h1.0v1.0h-1.0zM196.6 70.2h1.0v1.0h-1.0zM192.6 65.3h1.0v1.0h-1.0zM198.4 62.8h1.0v1.0h-1.0zM200.0 63.7h1.0v1.0h-1.0zM196.2 75.6h1.0v1.0h-1.0zM202.4 72.7h1.0v1.0h-1.0zM199.6 71.6h1.0v1.0h-1.0zM202.6 72.8h1.0v1.0h-1.0zM208.9 65.9h1.0v1.0h-1.0zM200.5 66.7h1.0v1.0h-1.0zM185.4 60.2h1.0v1.0h-1.0zM199.5 70.0h1.0v1.0h-1.0zM197.2 72.4h1.0v1.0h-1.0zM204.6 65.0h1.0v1.0h-1.0zM205.2 75.4h1.0v1.0h-1.0zM201.3 62.3h1.0v1.0h-1.0zM205.4 66.2h1.0v1.0h-1.0zM198.0 67.5h1.0v1.0h-1.0zM197.3 72.1h1.0v1.0h-1.0zM202.6 72.8h1.0v1.0h-1.0zM201.8 63.2h1.0v1.0h-1.0zM198.9 71.2h1.0v1.0h-1.0zM197.9 81.0h1.0v1.0h-1.0zM198.5 64.2h1.0v1.0h-1.0zM204.1 70.6h1.0v1.0h-1.0zM199.4 65.9h1.0v1.0h-1.0zM201.2 71.0h1.0v1.0h-1.0zM202.6 65.6h1.0v1.0h-1.0zM201.2 71.1h1.0v1.0h-1.0zM202.6 52.2h1.0v1.0h-1.0zM195.9 63.3h1.0v1.0h-1.0zM198.6 67.9h1.0v1.0h-1.0zM203.2 70.0h1.0v1.0h-1.0zM199.0 67.1h1.0v1.0h-1.0zM206.5 64.1h1.0v1.0h-1.0zM200.7 74.5h1.0v1.0h-1.0zM200.9 57.2h1.0v1.0h-1.0zM201.0 65.1h1.0v1.0h-1.0zM199.0 72.0h1.0v1.0h-1.0zM201.4 65.7h1.0v1.0h-1.0zM203.1 69.1h1.0v1.0h-1.0zM199.9 68.4h1.0v1.0h-1.0zM200.5 65.4h1.0v1.0h-1.0zM197.7 67.1h1.0v1.0h-1.0zM195.7 61.0h1.0v1.0h-1.0zM204.7 65.8h1.0v1.0h-1.0zM199.4 66.4h1.0v1.0h-1.0zM199.6 67.1h1.0v1.0h-1.0zM199.8 63.1h1.0v1.0h-1.0zM203.2 63.7h1.0v1.0h-1.0zM203.6 57.8h1.0v1.0h-1.0zM195.3 71.8h1.0v1.0h-1.0zM198.9 63.8h1.0v1.0h-1.0zM201.0 62.0h1.0v1.0h-1.0zM199.8 56.4h1.0v1.0h-1.0zM197.7 63.9h1.0v1.0h-1.0zM201.7 71.2h1.0v1.0h-1.0zM196.1 74.7h1.0v1.0h-1.0zM197.1 57.1h1.0v1.0h-1.0zM190.0 74.4h1.0v1.0h-1.0zM199.1 63.9h1.0v1.0h-1.0zM196.5 61.8h1.0v1.0h-1.0zM204.9 66.6h1.0v1.0h-1.0zM206.7 66.0h1.0v1.0h-1.0zM190.1 71.1h1.0v1.0h-1.0zM198.0 65.9h1.0v1.0h-1.0zM205.8 65.7h1.0v1.0h-1.0zM204.1 67.0h1.0v1.0h-1.0zM196.5 69.4h1.0v1.0h-1.0zM197.1 72.9h1.0v1.0h-1.0zM203.3 67.3h1.0v1.0h-1.0zM201.9 69.7h1.0v1.0h-1.0zM198.4 71.3h1.0v1.0h-1.0zM198.6 70.0h1.0v1.0h-1.0zM195.7 67.5h1.0v1.0h-1.0zM201.2 63.2h1.0v1.0h-1.0zM197.8 64.5h1.0v1.0h-1.0zM202.4 63.6h1.0v1.0h-1.0z" fill="#111" fill-opacity="0.85"/>
<path d="M199.2 82.7h1.0v1.0h-1.0zM198.8 60.8h1.0v1.0h-1.0zM197.7 79.3h1.0v1.0h-1.0zM195.6 79.8h1.0v1.0h-1.0zM200.1 75.0h1.0v1.0h-1.0zM195.7 68.5h1.0v1.0h-1.0zM195.8 72.5h1.0v1.0h-1.0zM199.7 75.0h1.0v1.0h-1.0zM195.5 72.5h1.0v1.0h-1.0zM199.0 60.7h1.0v1.0h-1.0zM193.2 66.5h1.0v1.0h-1.0zM196.0 70.2h1.0v1.0h-1.0zM195.8 66.0h1.0v1.0h-1.0zM200.4 74.0h1.0v1.0h-1.0zM188.9 72.2h1.0v1.0h-1.0zM191.4 84.0h1.0v1.0h-1.0zM194.8 69.3h1.0v1.0h-1.0zM197.5 70.7h1.0v1.0h-1.0zM196.8 82.9h1.0v1.0h-1.0zM198.2 78.0h1.0v1.0h-1.0zM202.7 65.3h1.0v1.0h-1.0zM205.5 76.9h1.0v1.0h-1.0zM201.9 66.1h1.0v1.0h-1.0zM201.2 75.0h1.0v1.0h-1.0zM194.4 88.1h1.0v1.0h-1.0zM199.9 70.5h1.0v1.0h-1.0zM198.1 78.5h1.0v1.0h-1.0zM202.7 76.2h1.0v1.0h-1.0zM203.2 82.4h1.0v1.0h-1.0zM190.9 68.7h1.0v1.0h-1.0zM192.4 72.8h1.0v1.0h-1.0zM204.3 76.7h1.0v1.0h-1.0zM191.9 70.1h1.0v1.0h-1.0zM202.2 68.4h1.0v1.0h-1.0zM196.6 74.3h1.0v1.0h-1.0zM188.0 77.6h1.0v1.0h-1.0zM198.8 76.1h1.0v1.0h-1.0zM192.2 66.8h1.0v1.0h-1.0zM194.1 73.9h1.0v1.0h-1.0zM197.5 73.0h1.0v1.0h-1.0z" fill="#222" fill-opacity="0.8"/>
</g>
<clipPath id="d44"><rect x="44.5" y="149.5" width="83.5" height="82.5"/></clipPath><g clip-path="url(#d44)">
<path d="M69.3 201.0 L69.0 201.4 L68.7 201.7 L68.4 202.0 L68.0 202.3 L67.6 202.6 L67.0 202.8 L66.3 203.0 L65.7 203.1 L65.0 203.2 L64.4 203.4 L63.8 203.6 L63.0 203.8 L62.1 204.0 L61.2 204.0 L60.3 203.9 L59.5 203.7 L59.0 203.3 L58.7 202.9 L58.6 202.5 L58.4 202.2 L58.2 201.9 L58.0 201.6 L57.6 201.3 L57.3 201.0 L57.1 200.7 L57.1 200.3 L57.3 199.9 L57.6 199.6 L58.0 199.3 L58.5 199.0 L59.0 198.7 L59.7 198.4 L60.5 198.2 L61.3 198.2 L62.2 198.2 L63.0 198.4 L63.7 198.6 L64.3 198.8 L64.9 199.0 L65.5 199.0 L66.3 199.1 L67.2 199.1 L68.1 199.2 L68.8 199.5 L69.3 199.8 L69.5 200.2 L69.5 200.6Z" fill="none" stroke="#d4d4d4" stroke-width="0.7"/>
<path d="M72.0 201.0 L72.7 201.6 L73.1 202.2 L73.1 202.9 L72.6 203.5 L71.6 204.0 L70.3 204.3 L68.9 204.5 L67.6 204.6 L66.4 204.7 L65.3 204.8 L64.2 204.9 L63.0 205.0 L61.8 205.0 L60.7 204.9 L59.6 204.7 L58.5 204.5 L57.4 204.3 L56.3 204.0 L55.0 203.8 L53.8 203.4 L52.8 202.9 L52.3 202.3 L52.4 201.6 L53.0 201.0 L53.8 200.5 L54.8 200.0 L55.6 199.6 L56.1 199.2 L56.5 198.8 L56.9 198.2 L57.3 197.7 L58.1 197.2 L59.1 196.8 L60.4 196.6 L61.7 196.5 L63.0 196.5 L64.3 196.5 L65.6 196.6 L66.9 196.8 L68.0 197.1 L69.0 197.5 L69.7 198.0 L70.1 198.6 L70.3 199.1 L70.4 199.6 L70.7 200.1 L71.2 200.5Z" fill="none" stroke="#d4d4d4" stroke-width="0.7"/>
<path d="M74.0 201.0 L74.1 201.7 L74.6 202.4 L75.0 203.2 L75.2 204.2 L74.8 205.1 L73.8 205.9 L72.2 206.4 L70.2 206.6 L68.2 206.6 L66.3 206.5 L64.6 206.4 L63.0 206.3 L61.5 206.3 L59.9 206.2 L58.3 206.1 L56.8 205.8 L55.5 205.4 L54.2 204.9 L53.0 204.4 L51.8 203.9 L50.5 203.3 L49.2 202.7 L48.3 201.9 L48.0 201.0 L48.4 200.1 L49.4 199.4 L51.0 198.8 L52.7 198.3 L54.2 198.0 L55.4 197.6 L56.3 197.1 L57.2 196.5 L58.2 195.8 L59.6 195.2 L61.2 194.8 L63.0 194.6 L64.8 194.7 L66.6 194.9 L68.3 195.3 L69.8 195.7 L71.3 196.1 L72.6 196.7 L73.7 197.3 L74.3 198.1 L74.5 198.9 L74.3 199.6 L74.1 200.3Z" fill="none" stroke="#d4d4d4" stroke-width="0.7"/>
<path d="M78.1 201.0 L77.3 201.8 L76.6 202.6 L76.2 203.5 L76.1 204.4 L75.9 205.5 L75.5 206.6 L74.5 207.7 L72.7 208.6 L70.4 209.0 L67.8 209.1 L65.3 208.8 L63.0 208.3 L61.0 207.8 L59.2 207.4 L57.3 207.1 L55.5 206.9 L53.6 206.5 L51.9 206.0 L50.4 205.4 L49.2 204.6 L48.1 203.8 L47.0 202.9 L46.0 202.0 L45.1 201.0 L44.6 199.9 L44.7 198.8 L45.7 197.8 L47.5 197.0 L49.8 196.4 L52.2 196.1 L54.4 195.9 L56.2 195.7 L57.7 195.3 L59.3 194.7 L61.0 194.0 L63.0 193.4 L65.3 193.1 L67.7 193.1 L70.0 193.4 L72.0 194.0 L73.7 194.7 L75.2 195.5 L76.6 196.3 L77.7 197.2 L78.6 198.1 L78.9 199.1 L78.7 200.1Z" fill="none" stroke="#d4d4d4" stroke-width="0.7"/>
<path d="M85.5 201.0 L84.4 202.3 L82.9 203.4 L81.4 204.4 L79.8 205.4 L78.3 206.3 L76.5 207.1 L74.6 207.8 L72.3 208.3 L70.0 208.6 L67.7 208.8 L65.4 209.1 L63.0 209.4 L60.4 209.8 L57.5 210.2 L54.4 210.4 L51.3 210.1 L48.7 209.4 L47.0 208.2 L46.1 206.8 L46.0 205.4 L46.3 204.1 L46.4 203.0 L46.1 202.0 L45.5 201.0 L44.8 199.9 L44.3 198.7 L44.4 197.5 L45.2 196.4 L46.5 195.3 L48.3 194.4 L50.2 193.5 L52.3 192.7 L54.7 192.0 L57.3 191.4 L60.1 191.2 L63.0 191.4 L65.6 192.0 L67.9 192.8 L69.7 193.7 L71.3 194.5 L73.1 195.1 L75.3 195.5 L77.9 195.9 L80.7 196.4 L83.2 197.2 L85.0 198.3 L85.8 199.7Z" fill="none" stroke="#d4d4d4" stroke-width="0.7"/>
<path d="M65.2 222.0 L65.1 222.2 L65.0 222.5 L65.0 222.7 L65.0 223.0 L65.0 223.3 L64.8 223.7 L64.4 223.9 L63.8 224.1 L63.1 224.2 L62.3 224.2 L61.6 224.1 L61.0 224.0 L60.4 223.9 L59.9 223.8 L59.3 223.8 L58.8 223.7 L58.2 223.6 L57.7 223.4 L57.3 223.2 L57.0 223.0 L56.6 222.8 L56.2 222.6 L55.9 222.3 L55.6 222.0 L55.5 221.7 L55.7 221.4 L56.1 221.1 L56.7 220.9 L57.4 220.8 L58.0 220.7 L58.6 220.6 L59.0 220.5 L59.4 220.3 L59.8 220.1 L60.4 219.9 L61.0 219.8 L61.7 219.7 L62.4 219.8 L63.0 219.9 L63.6 220.1 L64.1 220.2 L64.5 220.5 L65.0 220.7 L65.3 220.9 L65.5 221.2 L65.5 221.5 L65.4 221.7Z" fill="none" stroke="#d4d4d4" stroke-width="0.7"/>
<path d="M68.9 222.0 L68.4 222.4 L68.1 222.8 L67.8 223.2 L67.7 223.7 L67.6 224.2 L67.4 224.8 L66.9 225.4 L66.0 225.8 L64.8 226.0 L63.5 226.1 L62.2 225.9 L61.0 225.7 L60.0 225.5 L59.0 225.2 L58.1 225.1 L57.1 224.9 L56.2 224.8 L55.3 224.5 L54.5 224.2 L53.8 223.8 L53.3 223.4 L52.8 223.0 L52.3 222.5 L51.8 222.0 L51.5 221.5 L51.6 220.9 L52.0 220.4 L52.9 220.0 L54.1 219.7 L55.3 219.5 L56.5 219.4 L57.5 219.3 L58.3 219.1 L59.1 218.9 L60.0 218.5 L61.0 218.2 L62.2 218.0 L63.4 218.0 L64.6 218.2 L65.7 218.5 L66.5 218.8 L67.3 219.2 L68.0 219.6 L68.6 220.1 L69.1 220.5 L69.3 221.0 L69.2 221.5Z" fill="none" stroke="#d4d4d4" stroke-width="0.7"/>
<path d="M73.3 222.0 L73.0 222.7 L72.4 223.3 L71.5 223.9 L70.5 224.4 L69.5 224.8 L68.6 225.3 L67.8 225.9 L67.0 226.6 L66.0 227.3 L64.6 227.9 L62.9 228.2 L61.0 228.3 L59.2 228.0 L57.6 227.5 L56.4 226.9 L55.4 226.3 L54.4 225.8 L53.4 225.3 L52.3 224.9 L51.1 224.5 L50.1 224.0 L49.4 223.4 L48.9 222.7 L48.7 222.0 L48.7 221.3 L48.7 220.6 L48.8 219.8 L49.2 219.0 L50.0 218.3 L51.3 217.7 L52.9 217.4 L54.8 217.3 L56.6 217.3 L58.2 217.5 L59.7 217.6 L61.0 217.6 L62.4 217.4 L64.0 217.1 L65.8 217.0 L67.6 217.0 L69.3 217.2 L70.7 217.7 L71.7 218.4 L72.4 219.1 L72.8 219.9 L73.1 220.6 L73.3 221.3Z" fill="none" stroke="#d4d4d4" stroke-width="0.7"/>
<path d="M79.1 222.0 L78.2 223.0 L77.0 223.9 L75.7 224.7 L74.5 225.4 L73.2 226.1 L71.8 226.7 L70.3 227.3 L68.5 227.7 L66.6 227.9 L64.7 228.1 L62.9 228.3 L61.0 228.5 L58.9 228.8 L56.6 229.1 L54.1 229.3 L51.7 229.1 L49.6 228.5 L48.1 227.6 L47.4 226.6 L47.3 225.5 L47.5 224.4 L47.7 223.6 L47.5 222.8 L47.1 222.0 L46.5 221.2 L46.1 220.3 L46.2 219.3 L46.7 218.4 L47.8 217.6 L49.2 216.8 L50.8 216.2 L52.5 215.5 L54.4 215.0 L56.5 214.6 L58.7 214.4 L61.0 214.5 L63.1 215.0 L64.9 215.6 L66.4 216.3 L67.7 216.9 L69.0 217.4 L70.7 217.7 L72.8 218.0 L75.0 218.5 L77.1 219.1 L78.6 219.9 L79.2 220.9Z" fill="none" stroke="#d4d4d4" stroke-width="0.7"/>
<path d="M80.2 174.3h1.0v1.0h-1.0zM61.5 178.7h1.0v1.0h-1.0zM55.6 171.3h1.0v1.0h-1.0zM60.2 184.1h1.0v1.0h-1.0zM59.7 176.7h1.0v1.0h-1.0zM59.5 168.6h1.0v1.0h-1.0zM79.0 161.7h1.0v1.0h-1.0zM57.7 182.1h1.0v1.0h-1.0zM50.2 182.4h1.0v1.0h-1.0zM76.7 172.1h1.0v1.0h-1.0zM66.3 170.4h1.0v1.0h-1.0zM69.3 178.8h1.0v1.0h-1.0zM66.4 187.7h1.0v1.0h-1.0zM68.9 187.6h1.0v1.0h-1.0zM70.5 169.7h1.0v1.0h-1.0zM66.8 181.6h1.0v1.0h-1.0zM49.7 187.5h1.0v1.0h-1.0zM64.9 180.7h1.0v1.0h-1.0zM55.2 178.6h1.0v1.0h-1.0zM67.2 175.9h1.0v1.0h-1.0zM65.0 163.3h1.0v1.0h-1.0zM77.8 170.3h1.0v1.0h-1.0zM55.8 181.9h1.0v1.0h-1.0zM55.1 180.1h1.0v1.0h-1.0zM54.6 193.6h1.0v1.0h-1.0zM69.6 191.8h1.0v1.0h-1.0zM54.0 182.8h1.0v1.0h-1.0zM54.6 182.2h1.0v1.0h-1.0zM71.0 167.0h1.0v1.0h-1.0zM52.8 170.0h1.0v1.0h-1.0zM49.1 173.0h1.0v1.0h-1.0zM54.6 168.0h1.0v1.0h-1.0zM65.1 181.9h1.0v1.0h-1.0zM51.0 174.2h1.0v1.0h-1.0zM64.2 176.5h1.0v1.0h-1.0zM57.1 183.8h1.0v1.0h-1.0zM72.6 182.8h1.0v1.0h-1.0zM62.0 192.0h1.0v1.0h-1.0zM62.9 186.4h1.0v1.0h-1.0zM56.1 180.9h1.0v1.0h-1.0zM64.6 173.2h1.0v1.0h-1.0zM61.8 167.1h1.0v1.0h-1.0zM58.7 164.1h1.0v1.0h-1.0zM76.4 180.2h1.0v1.0h-1.0zM74.1 187.0h1.0v1.0h-1.0zM74.2 184.5h1.0v1.0h-1.0zM55.0 181.1h1.0v1.0h-1.0zM58.7 169.8h1.0v1.0h-1.0zM52.6 181.0h1.0v1.0h-1.0zM74.6 168.5h1.0v1.0h-1.0zM60.2 174.8h1.0v1.0h-1.0zM63.3 184.9h1.0v1.0h-1.0zM60.2 170.3h1.0v1.0h-1.0zM67.5 163.6h1.0v1.0h-1.0zM65.4 186.1h1.0v1.0h-1.0zM67.1 183.5h1.0v1.0h-1.0zM68.9 183.1h1.0v1.0h-1.0zM65.5 172.2h1.0v1.0h-1.0zM61.8 177.5h1.0v1.0h-1.0zM76.6 189.4h1.0v1.0h-1.0zM68.2 172.7h1.0v1.0h-1.0zM56.7 176.7h1.0v1.0h-1.0zM77.9 180.3h1.0v1.0h-1.0zM63.4 172.6h1.0v1.0h-1.0zM72.8 180.0h1.0v1.0h-1.0zM63.5 178.7h1.0v1.0h-1.0zM80.9 176.9h1.0v1.0h-1.0zM80.9 186.7h1.0v1.0h-1.0zM64.5 184.2h1.0v1.0h-1.0zM62.8 172.2h1.0v1.0h-1.0zM61.3 171.6h1.0v1.0h-1.0zM69.1 178.1h1.0v1.0h-1.0zM69.7 183.8h1.0v1.0h-1.0zM55.2 178.7h1.0v1.0h-1.0zM77.7 166.0h1.0v1.0h-1.0zM65.9 177.5h1.0v1.0h-1.0zM64.3 174.4h1.0v1.0h-1.0zM60.1 165.4h1.0v1.0h-1.0zM54.7 175.4h1.0v1.0h-1.0zM60.2 177.4h1.0v1.0h-1.0zM53.5 181.8h1.0v1.0h-1.0zM59.2 168.5h1.0v1.0h-1.0zM55.8 175.3h1.0v1.0h-1.0zM72.5 181.4h1.0v1.0h-1.0zM60.6 178.1h1.0v1.0h-1.0zM66.2 192.3h1.0v1.0h-1.0zM57.8 181.3h1.0v1.0h-1.0zM71.3 171.3h1.0v1.0h-1.0zM65.9 179.1h1.0v1.0h-1.0zM59.3 182.0h1.0v1.0h-1.0zM74.3 185.9h1.0v1.0h-1.0zM62.1 179.3h1.0v1.0h-1.0zM66.2 184.2h1.0v1.0h-1.0zM65.5 182.6h1.0v1.0h-1.0zM65.7 183.3h1.0v1.0h-1.0zM76.8 176.5h1.0v1.0h-1.0zM66.0 177.6h1.0v1.0h-1.0zM60.0 177.9h1.0v1.0h-1.0zM52.7 183.2h1.0v1.0h-1.0zM76.8 171.3h1.0v1.0h-1.0zM79.2 173.0h1.0v1.0h-1.0zM63.5 190.9h1.0v1.0h-1.0zM53.3 183.9h1.0v1.0h-1.0zM66.8 176.9h1.0v1.0h-1.0zM55.2 181.0h1.0v1.0h-1.0zM59.4 185.3h1.0v1.0h-1.0zM76.2 168.3h1.0v1.0h-1.0zM58.9 175.8h1.0v1.0h-1.0zM52.2 170.2h1.0v1.0h-1.0zM64.9 176.5h1.0v1.0h-1.0zM47.5 174.2h1.0v1.0h-1.0zM69.2 169.6h1.0v1.0h-1.0zM54.8 189.1h1.0v1.0h-1.0zM77.2 166.7h1.0v1.0h-1.0zM50.5 180.6h1.0v1.0h-1.0zM52.1 176.2h1.0v1.0h-1.0zM59.5 181.9h1.0v1.0h-1.0zM51.7 185.1h1.0v1.0h-1.0zM62.5 166.0h1.0v1.0h-1.0zM68.9 183.0h1.0v1.0h-1.0zM61.5 175.7h1.0v1.0h-1.0zM68.4 186.5h1.0v1.0h-1.0zM65.5 181.7h1.0v1.0h-1.0zM63.5 175.3h1.0v1.0h-1.0zM54.8 179.8h1.0v1.0h-1.0zM61.0 176.3h1.0v1.0h-1.0zM73.3 181.4h1.0v1.0h-1.0zM72.7 167.0h1.0v1.0h-1.0zM69.6 173.9h1.0v1.0h-1.0zM55.9 172.0h1.0v1.0h-1.0zM76.1 183.8h1.0v1.0h-1.0zM56.8 170.0h1.0v1.0h-1.0zM64.1 174.8h1.0v1.0h-1.0zM80.6 167.8h1.0v1.0h-1.0zM64.1 178.9h1.0v1.0h-1.0zM71.5 192.5h1.0v1.0h-1.0zM60.6 174.2h1.0v1.0h-1.0zM72.5 176.2h1.0v1.0h-1.0zM75.8 178.2h1.0v1.0h-1.0zM79.1 180.3h1.0v1.0h-1.0zM53.4 173.5h1.0v1.0h-1.0zM48.7 165.8h1.0v1.0h-1.0zM66.7 184.1h1.0v1.0h-1.0zM61.6 170.2h1.0v1.0h-1.0zM73.9 180.7h1.0v1.0h-1.0zM58.0 182.8h1.0v1.0h-1.0zM69.6 164.9h1.0v1.0h-1.0zM71.4 179.0h1.0v1.0h-1.0zM60.1 175.1h1.0v1.0h-1.0zM57.5 184.3h1.0v1.0h-1.0zM51.9 173.0h1.0v1.0h-1.0zM74.6 181.2h1.0v1.0h-1.0zM66.2 175.1h1.0v1.0h-1.0zM60.0 182.3h1.0v1.0h-1.0zM56.9 186.6h1.0v1.0h-1.0zM59.1 171.9h1.0v1.0h-1.0zM77.0 177.0h1.0v1.0h-1.0zM69.5 175.1h1.0v1.0h-1.0zM50.5 185.6h1.0v1.0h-1.0zM48.5 164.9h1.0v1.0h-1.0zM67.1 181.0h1.0v1.0h-1.0zM65.1 169.5h1.0v1.0h-1.0zM72.9 167.7h1.0v1.0h-1.0zM59.4 172.5h1.0v1.0h-1.0zM60.2 184.0h1.0v1.0h-1.0zM57.7 182.0h1.0v1.0h-1.0zM70.9 166.0h1.0v1.0h-1.0zM52.3 175.3h1.0v1.0h-1.0zM58.1 180.2h1.0v1.0h-1.0zM71.4 176.8h1.0v1.0h-1.0zM50.2 178.0h1.0v1.0h-1.0zM58.6 182.0h1.0v1.0h-1.0zM63.1 183.1h1.0v1.0h-1.0zM59.7 188.1h1.0v1.0h-1.0zM68.9 167.4h1.0v1.0h-1.0zM71.4 169.5h1.0v1.0h-1.0zM64.9 171.6h1.0v1.0h-1.0zM59.6 179.2h1.0v1.0h-1.0zM63.0 175.3h1.0v1.0h-1.0zM54.3 184.5h1.0v1.0h-1.0zM72.2 186.6h1.0v1.0h-1.0zM74.6 186.0h1.0v1.0h-1.0zM64.0 179.7h1.0v1.0h-1.0zM58.6 180.0h1.0v1.0h-1.0zM69.8 189.4h1.0v1.0h-1.0zM72.6 168.8h1.0v1.0h-1.0zM63.6 191.2h1.0v1.0h-1.0zM77.2 181.8h1.0v1.0h-1.0zM67.9 175.8h1.0v1.0h-1.0zM61.9 171.2h1.0v1.0h-1.0zM66.4 175.8h1.0v1.0h-1.0zM60.9 177.4h1.0v1.0h-1.0zM71.7 179.7h1.0v1.0h-1.0zM52.0 177.1h1.0v1.0h-1.0zM68.7 174.7h1.0v1.0h-1.0zM75.5 183.4h1.0v1.0h-1.0zM54.1 180.2h1.0v1.0h-1.0zM63.4 184.3h1.0v1.0h-1.0zM57.3 167.9h1.0v1.0h-1.0zM69.5 179.7h1.0v1.0h-1.0zM69.1 177.8h1.0v1.0h-1.0zM67.3 174.4h1.0v1.0h-1.0zM68.7 183.8h1.0v1.0h-1.0zM63.4 183.7h1.0v1.0h-1.0zM78.4 190.3h1.0v1.0h-1.0zM66.5 177.3h1.0v1.0h-1.0zM51.3 180.5h1.0v1.0h-1.0zM71.8 167.6h1.0v1.0h-1.0zM69.6 181.4h1.0v1.0h-1.0zM68.4 170.1h1.0v1.0h-1.0zM69.4 167.5h1.0v1.0h-1.0zM78.9 178.9h1.0v1.0h-1.0zM52.4 187.4h1.0v1.0h-1.0zM75.5 173.4h1.0v1.0h-1.0zM67.1 186.3h1.0v1.0h-1.0zM63.4 177.9h1.0v1.0h-1.0zM53.2 180.3h1.0v1.0h-1.0zM52.9 171.2h1.0v1.0h-1.0zM59.5 169.4h1.0v1.0h-1.0zM79.7 168.7h1.0v1.0h-1.0zM56.5 175.8h1.0v1.0h-1.0zM64.0 183.5h1.0v1.0h-1.0zM72.2 175.9h1.0v1.0h-1.0zM60.2 178.2h1.0v1.0h-1.0zM72.2 182.9h1.0v1.0h-1.0zM58.8 163.6h1.0v1.0h-1.0zM66.6 180.4h1.0v1.0h-1.0zM58.8 171.0h1.0v1.0h-1.0zM60.7 176.4h1.0v1.0h-1.0zM57.7 167.8h1.0v1.0h-1.0zM60.9 182.0h1.0v1.0h-1.0zM59.1 178.2h1.0v1.0h-1.0zM62.8 169.4h1.0v1.0h-1.0zM55.9 181.4h1.0v1.0h-1.0zM59.8 182.4h1.0v1.0h-1.0zM60.6 167.5h1.0v1.0h-1.0zM63.1 175.7h1.0v1.0h-1.0zM70.6 174.8h1.0v1.0h-1.0zM60.1 184.0h1.0v1.0h-1.0zM75.7 183.3h1.0v1.0h-1.0zM74.4 181.2h1.0v1.0h-1.0zM71.7 184.1h1.0v1.0h-1.0zM68.0 178.4h1.0v1.0h-1.0zM65.4 194.8h1.0v1.0h-1.0zM64.1 176.3h1.0v1.0h-1.0zM60.4 177.8h1.0v1.0h-1.0zM66.4 170.1h1.0v1.0h-1.0zM47.9 179.8h1.0v1.0h-1.0zM65.4 186.1h1.0v1.0h-1.0zM80.7 180.6h1.0v1.0h-1.0zM58.5 169.8h1.0v1.0h-1.0zM56.1 178.3h1.0v1.0h-1.0zM63.9 182.5h1.0v1.0h-1.0zM60.7 178.7h1.0v1.0h-1.0zM56.6 174.8h1.0v1.0h-1.0zM79.5 179.1h1.0v1.0h-1.0zM67.7 171.1h1.0v1.0h-1.0zM78.3 172.6h1.0v1.0h-1.0zM72.0 178.8h1.0v1.0h-1.0zM54.4 185.2h1.0v1.0h-1.0zM64.2 179.3h1.0v1.0h-1.0zM68.5 177.8h1.0v1.0h-1.0zM60.2 181.3h1.0v1.0h-1.0zM60.0 178.5h1.0v1.0h-1.0zM57.3 167.6h1.0v1.0h-1.0zM57.3 174.5h1.0v1.0h-1.0zM64.1 186.3h1.0v1.0h-1.0zM47.1 178.9h1.0v1.0h-1.0zM58.9 162.2h1.0v1.0h-1.0zM64.8 177.2h1.0v1.0h-1.0zM56.0 193.1h1.0v1.0h-1.0zM62.4 172.0h1.0v1.0h-1.0zM80.8 182.3h1.0v1.0h-1.0zM60.3 186.3h1.0v1.0h-1.0zM65.6 182.5h1.0v1.0h-1.0zM66.3 170.8h1.0v1.0h-1.0zM73.7 179.1h1.0v1.0h-1.0zM53.9 172.7h1.0v1.0h-1.0zM73.6 175.4h1.0v1.0h-1.0zM64.5 182.6h1.0v1.0h-1.0zM65.3 167.3h1.0v1.0h-1.0zM70.4 184.6h1.0v1.0h-1.0zM72.7 189.3h1.0v1.0h-1.0zM67.6 183.4h1.0v1.0h-1.0zM79.9 176.0h1.0v1.0h-1.0zM71.8 190.9h1.0v1.0h-1.0zM72.5 171.8h1.0v1.0h-1.0zM75.4 180.3h1.0v1.0h-1.0zM68.1 179.1h1.0v1.0h-1.0zM77.6 181.9h1.0v1.0h-1.0zM57.0 181.4h1.0v1.0h-1.0zM71.3 172.9h1.0v1.0h-1.0zM59.7 175.3h1.0v1.0h-1.0zM57.9 180.4h1.0v1.0h-1.0zM74.2 191.2h1.0v1.0h-1.0zM75.9 185.2h1.0v1.0h-1.0zM75.4 187.3h1.0v1.0h-1.0zM60.2 182.9h1.0v1.0h-1.0zM67.2 177.1h1.0v1.0h-1.0zM59.5 174.5h1.0v1.0h-1.0zM61.3 169.4h1.0v1.0h-1.0zM69.2 177.8h1.0v1.0h-1.0zM65.1 180.4h1.0v1.0h-1.0zM71.2 173.9h1.0v1.0h-1.0zM62.9 166.7h1.0v1.0h-1.0zM79.4 165.2h1.0v1.0h-1.0zM68.7 188.3h1.0v1.0h-1.0zM59.4 189.4h1.0v1.0h-1.0zM56.7 181.7h1.0v1.0h-1.0zM59.6 168.9h1.0v1.0h-1.0zM51.3 194.2h1.0v1.0h-1.0zM58.6 177.9h1.0v1.0h-1.0zM57.4 179.0h1.0v1.0h-1.0zM61.7 175.2h1.0v1.0h-1.0zM52.0 168.2h1.0v1.0h-1.0zM56.7 180.1h1.0v1.0h-1.0zM63.3 168.8h1.0v1.0h-1.0zM64.2 163.1h1.0v1.0h-1.0zM61.2 189.5h1.0v1.0h-1.0zM67.5 186.0h1.0v1.0h-1.0zM60.4 168.5h1.0v1.0h-1.0zM59.4 175.4h1.0v1.0h-1.0zM76.3 192.0h1.0v1.0h-1.0zM56.8 175.6h1.0v1.0h-1.0zM62.8 175.7h1.0v1.0h-1.0zM51.8 178.8h1.0v1.0h-1.0zM67.9 180.9h1.0v1.0h-1.0zM52.2 177.4h1.0v1.0h-1.0zM54.1 176.3h1.0v1.0h-1.0zM59.8 174.1h1.0v1.0h-1.0zM53.7 165.8h1.0v1.0h-1.0zM66.9 192.9h1.0v1.0h-1.0zM63.3 182.1h1.0v1.0h-1.0zM64.5 186.5h1.0v1.0h-1.0zM69.3 180.4h1.0v1.0h-1.0zM61.8 180.2h1.0v1.0h-1.0zM76.0 163.7h1.0v1.0h-1.0zM63.0 175.3h1.0v1.0h-1.0zM61.3 164.4h1.0v1.0h-1.0zM71.6 172.3h1.0v1.0h-1.0zM62.1 174.7h1.0v1.0h-1.0zM47.6 175.1h1.0v1.0h-1.0zM61.2 178.2h1.0v1.0h-1.0zM64.9 177.3h1.0v1.0h-1.0zM52.1 173.9h1.0v1.0h-1.0zM57.8 177.0h1.0v1.0h-1.0zM58.3 172.2h1.0v1.0h-1.0zM80.8 178.5h1.0v1.0h-1.0zM61.0 176.5h1.0v1.0h-1.0zM62.2 188.0h1.0v1.0h-1.0zM69.1 186.1h1.0v1.0h-1.0zM74.9 192.1h1.0v1.0h-1.0zM64.6 166.2h1.0v1.0h-1.0zM70.2 174.1h1.0v1.0h-1.0zM74.9 186.7h1.0v1.0h-1.0zM71.6 170.9h1.0v1.0h-1.0zM63.6 168.1h1.0v1.0h-1.0zM77.5 181.4h1.0v1.0h-1.0zM73.3 178.9h1.0v1.0h-1.0zM63.7 179.5h1.0v1.0h-1.0z" fill="#888" fill-opacity="0.6"/>
<path d="M72.5 220.2h1.0v1.0h-1.0zM63.3 223.7h1.0v1.0h-1.0zM79.1 224.4h1.0v1.0h-1.0zM63.8 219.7h1.0v1.0h-1.0zM48.4 219.2h1.0v1.0h-1.0zM64.1 221.0h1.0v1.0h-1.0zM64.2 225.9h1.0v1.0h-1.0zM67.8 223.6h1.0v1.0h-1.0zM70.0 223.2h1.0v1.0h-1.0zM63.1 224.6h1.0v1.0h-1.0zM50.6 226.4h1.0v1.0h-1.0zM63.6 227.8h1.0v1.0h-1.0zM63.8 217.5h1.0v1.0h-1.0zM74.2 223.2h1.0v1.0h-1.0zM64.7 222.7h1.0v1.0h-1.0zM73.5 226.3h1.0v1.0h-1.0zM65.8 214.5h1.0v1.0h-1.0zM59.5 222.8h1.0v1.0h-1.0zM62.6 228.2h1.0v1.0h-1.0zM62.4 222.1h1.0v1.0h-1.0zM65.1 214.8h1.0v1.0h-1.0zM73.1 224.4h1.0v1.0h-1.0zM60.7 216.6h1.0v1.0h-1.0zM65.7 229.3h1.0v1.0h-1.0zM57.1 217.0h1.0v1.0h-1.0zM67.8 214.3h1.0v1.0h-1.0zM56.7 220.9h1.0v1.0h-1.0zM58.0 223.9h1.0v1.0h-1.0zM61.4 219.3h1.0v1.0h-1.0zM59.0 225.4h1.0v1.0h-1.0zM73.2 226.8h1.0v1.0h-1.0zM53.6 220.7h1.0v1.0h-1.0zM65.6 214.2h1.0v1.0h-1.0zM77.8 223.8h1.0v1.0h-1.0zM57.4 223.1h1.0v1.0h-1.0zM60.1 218.5h1.0v1.0h-1.0zM68.7 220.0h1.0v1.0h-1.0zM49.5 219.1h1.0v1.0h-1.0zM62.5 216.9h1.0v1.0h-1.0zM76.2 216.9h1.0v1.0h-1.0zM54.2 223.0h1.0v1.0h-1.0zM75.4 221.4h1.0v1.0h-1.0zM51.7 222.9h1.0v1.0h-1.0zM69.2 222.4h1.0v1.0h-1.0zM62.5 220.4h1.0v1.0h-1.0zM60.5 227.5h1.0v1.0h-1.0zM69.6 217.3h1.0v1.0h-1.0zM79.3 215.9h1.0v1.0h-1.0zM70.3 223.3h1.0v1.0h-1.0zM75.7 224.1h1.0v1.0h-1.0zM74.3 222.2h1.0v1.0h-1.0zM73.4 224.1h1.0v1.0h-1.0zM75.7 224.7h1.0v1.0h-1.0zM65.5 219.5h1.0v1.0h-1.0zM68.2 215.0h1.0v1.0h-1.0zM50.0 225.9h1.0v1.0h-1.0zM48.2 229.6h1.0v1.0h-1.0zM61.0 223.6h1.0v1.0h-1.0zM64.5 224.5h1.0v1.0h-1.0zM61.0 220.5h1.0v1.0h-1.0zM62.5 227.6h1.0v1.0h-1.0zM75.1 228.7h1.0v1.0h-1.0zM67.4 221.4h1.0v1.0h-1.0zM72.2 220.4h1.0v1.0h-1.0zM71.8 228.8h1.0v1.0h-1.0zM64.7 227.7h1.0v1.0h-1.0zM66.8 213.7h1.0v1.0h-1.0zM59.0 220.3h1.0v1.0h-1.0zM69.1 218.1h1.0v1.0h-1.0zM59.4 217.6h1.0v1.0h-1.0zM63.4 222.7h1.0v1.0h-1.0zM73.5 226.4h1.0v1.0h-1.0zM65.4 223.6h1.0v1.0h-1.0zM64.9 222.9h1.0v1.0h-1.0zM79.2 210.0h1.0v1.0h-1.0zM62.0 223.9h1.0v1.0h-1.0zM75.1 216.9h1.0v1.0h-1.0zM67.2 226.7h1.0v1.0h-1.0zM59.3 212.8h1.0v1.0h-1.0zM60.2 216.4h1.0v1.0h-1.0zM70.3 218.1h1.0v1.0h-1.0zM55.7 219.9h1.0v1.0h-1.0zM52.8 224.3h1.0v1.0h-1.0zM78.7 221.3h1.0v1.0h-1.0zM73.0 217.7h1.0v1.0h-1.0zM49.7 228.5h1.0v1.0h-1.0zM75.5 213.0h1.0v1.0h-1.0zM49.4 217.5h1.0v1.0h-1.0zM73.5 220.2h1.0v1.0h-1.0zM62.1 225.9h1.0v1.0h-1.0zM64.9 223.5h1.0v1.0h-1.0zM60.6 228.0h1.0v1.0h-1.0zM56.0 230.8h1.0v1.0h-1.0zM60.4 218.4h1.0v1.0h-1.0zM70.2 224.6h1.0v1.0h-1.0zM50.3 218.2h1.0v1.0h-1.0zM71.6 218.1h1.0v1.0h-1.0zM67.3 220.5h1.0v1.0h-1.0zM52.0 216.8h1.0v1.0h-1.0zM54.7 223.0h1.0v1.0h-1.0zM63.7 227.2h1.0v1.0h-1.0zM65.4 223.0h1.0v1.0h-1.0zM66.9 221.7h1.0v1.0h-1.0zM66.6 226.3h1.0v1.0h-1.0zM71.5 219.6h1.0v1.0h-1.0zM66.5 209.9h1.0v1.0h-1.0zM58.9 224.6h1.0v1.0h-1.0zM58.0 216.7h1.0v1.0h-1.0zM61.0 228.9h1.0v1.0h-1.0zM76.6 216.7h1.0v1.0h-1.0zM61.0 216.8h1.0v1.0h-1.0zM64.4 215.7h1.0v1.0h-1.0zM63.5 227.7h1.0v1.0h-1.0zM65.7 221.0h1.0v1.0h-1.0zM79.0 217.8h1.0v1.0h-1.0zM73.2 220.8h1.0v1.0h-1.0zM65.7 222.4h1.0v1.0h-1.0zM64.8 222.0h1.0v1.0h-1.0zM55.7 219.4h1.0v1.0h-1.0zM67.9 221.7h1.0v1.0h-1.0zM51.9 218.7h1.0v1.0h-1.0zM56.5 222.0h1.0v1.0h-1.0zM65.2 222.7h1.0v1.0h-1.0zM56.9 222.3h1.0v1.0h-1.0zM62.9 213.9h1.0v1.0h-1.0zM53.9 216.2h1.0v1.0h-1.0zM69.7 216.1h1.0v1.0h-1.0zM66.1 219.7h1.0v1.0h-1.0zM51.0 214.3h1.0v1.0h-1.0zM67.9 224.1h1.0v1.0h-1.0zM71.0 231.3h1.0v1.0h-1.0zM66.0 223.5h1.0v1.0h-1.0zM62.0 222.6h1.0v1.0h-1.0zM59.7 217.6h1.0v1.0h-1.0zM65.7 224.3h1.0v1.0h-1.0zM64.7 217.3h1.0v1.0h-1.0zM61.2 219.8h1.0v1.0h-1.0zM52.4 221.8h1.0v1.0h-1.0zM59.0 219.3h1.0v1.0h-1.0zM69.9 216.7h1.0v1.0h-1.0zM67.5 219.0h1.0v1.0h-1.0zM67.3 222.4h1.0v1.0h-1.0zM65.4 217.1h1.0v1.0h-1.0zM55.3 217.7h1.0v1.0h-1.0zM64.7 225.7h1.0v1.0h-1.0zM73.7 219.5h1.0v1.0h-1.0zM63.8 213.9h1.0v1.0h-1.0zM56.3 214.2h1.0v1.0h-1.0zM54.9 213.6h1.0v1.0h-1.0zM59.7 225.3h1.0v1.0h-1.0zM55.3 229.8h1.0v1.0h-1.0zM47.5 215.4h1.0v1.0h-1.0zM61.4 218.1h1.0v1.0h-1.0zM76.9 213.9h1.0v1.0h-1.0zM55.5 223.1h1.0v1.0h-1.0zM68.4 226.9h1.0v1.0h-1.0zM58.0 222.7h1.0v1.0h-1.0zM71.2 220.3h1.0v1.0h-1.0zM59.8 219.5h1.0v1.0h-1.0zM56.2 216.2h1.0v1.0h-1.0zM57.1 214.1h1.0v1.0h-1.0zM66.4 213.9h1.0v1.0h-1.0zM73.6 220.7h1.0v1.0h-1.0zM56.7 227.9h1.0v1.0h-1.0zM64.4 224.6h1.0v1.0h-1.0zM55.4 227.1h1.0v1.0h-1.0zM54.6 222.3h1.0v1.0h-1.0zM67.5 219.5h1.0v1.0h-1.0zM58.1 225.7h1.0v1.0h-1.0zM61.8 227.9h1.0v1.0h-1.0zM67.6 214.1h1.0v1.0h-1.0zM49.6 226.1h1.0v1.0h-1.0zM51.9 218.6h1.0v1.0h-1.0zM68.4 220.1h1.0v1.0h-1.0zM67.2 217.4h1.0v1.0h-1.0zM65.4 227.1h1.0v1.0h-1.0zM65.7 210.8h1.0v1.0h-1.0zM69.0 222.0h1.0v1.0h-1.0zM53.4 228.7h1.0v1.0h-1.0zM56.2 229.6h1.0v1.0h-1.0zM62.0 215.1h1.0v1.0h-1.0zM63.4 223.4h1.0v1.0h-1.0zM67.9 227.0h1.0v1.0h-1.0zM53.5 224.2h1.0v1.0h-1.0zM69.8 220.4h1.0v1.0h-1.0zM53.1 217.0h1.0v1.0h-1.0zM69.9 225.7h1.0v1.0h-1.0zM54.2 215.1h1.0v1.0h-1.0zM74.8 214.0h1.0v1.0h-1.0zM64.0 217.7h1.0v1.0h-1.0zM60.6 228.9h1.0v1.0h-1.0zM72.7 226.9h1.0v1.0h-1.0zM57.2 217.4h1.0v1.0h-1.0zM78.5 219.9h1.0v1.0h-1.0zM62.2 220.3h1.0v1.0h-1.0zM61.1 218.7h1.0v1.0h-1.0zM69.9 228.0h1.0v1.0h-1.0zM58.7 214.9h1.0v1.0h-1.0zM62.9 214.3h1.0v1.0h-1.0zM56.1 227.8h1.0v1.0h-1.0zM51.8 225.6h1.0v1.0h-1.0zM77.6 225.4h1.0v1.0h-1.0zM48.7 213.4h1.0v1.0h-1.0zM70.9 221.5h1.0v1.0h-1.0zM56.5 223.8h1.0v1.0h-1.0zM56.7 212.2h1.0v1.0h-1.0zM70.5 218.5h1.0v1.0h-1.0zM52.5 215.1h1.0v1.0h-1.0zM64.9 217.7h1.0v1.0h-1.0zM68.7 220.4h1.0v1.0h-1.0zM73.2 219.8h1.0v1.0h-1.0zM55.9 211.9h1.0v1.0h-1.0zM51.5 225.3h1.0v1.0h-1.0zM52.1 223.4h1.0v1.0h-1.0zM67.2 218.4h1.0v1.0h-1.0zM63.2 213.7h1.0v1.0h-1.0zM59.5 226.2h1.0v1.0h-1.0zM78.7 220.9h1.0v1.0h-1.0zM59.9 224.0h1.0v1.0h-1.0zM73.5 224.1h1.0v1.0h-1.0zM55.0 223.5h1.0v1.0h-1.0zM72.1 218.2h1.0v1.0h-1.0zM49.2 224.3h1.0v1.0h-1.0zM66.1 226.5h1.0v1.0h-1.0zM63.3 218.5h1.0v1.0h-1.0zM58.1 216.6h1.0v1.0h-1.0zM53.0 218.9h1.0v1.0h-1.0zM57.7 227.3h1.0v1.0h-1.0zM50.3 221.5h1.0v1.0h-1.0zM56.6 229.1h1.0v1.0h-1.0zM65.1 219.9h1.0v1.0h-1.0zM70.6 222.1h1.0v1.0h-1.0zM57.8 229.4h1.0v1.0h-1.0zM69.6 230.4h1.0v1.0h-1.0zM74.0 225.6h1.0v1.0h-1.0zM63.8 216.4h1.0v1.0h-1.0zM69.6 222.1h1.0v1.0h-1.0zM69.3 221.7h1.0v1.0h-1.0zM55.7 216.8h1.0v1.0h-1.0zM69.5 228.2h1.0v1.0h-1.0zM59.7 224.0h1.0v1.0h-1.0zM76.3 217.6h1.0v1.0h-1.0zM59.2 216.2h1.0v1.0h-1.0zM74.3 223.1h1.0v1.0h-1.0zM58.0 213.6h1.0v1.0h-1.0zM60.8 226.7h1.0v1.0h-1.0zM59.6 219.7h1.0v1.0h-1.0zM69.0 215.7h1.0v1.0h-1.0zM63.1 224.8h1.0v1.0h-1.0zM54.9 217.7h1.0v1.0h-1.0zM65.1 221.3h1.0v1.0h-1.0zM60.3 222.8h1.0v1.0h-1.0zM64.8 217.2h1.0v1.0h-1.0zM56.0 224.0h1.0v1.0h-1.0zM73.8 228.5h1.0v1.0h-1.0zM54.2 227.2h1.0v1.0h-1.0zM70.2 221.7h1.0v1.0h-1.0zM67.5 225.9h1.0v1.0h-1.0zM80.4 216.6h1.0v1.0h-1.0zM68.6 221.1h1.0v1.0h-1.0zM60.6 227.5h1.0v1.0h-1.0zM70.8 216.8h1.0v1.0h-1.0zM59.9 223.0h1.0v1.0h-1.0zM48.7 226.1h1.0v1.0h-1.0zM61.9 222.6h1.0v1.0h-1.0zM66.0 230.8h1.0v1.0h-1.0zM63.0 220.1h1.0v1.0h-1.0zM79.9 219.4h1.0v1.0h-1.0zM57.5 215.0h1.0v1.0h-1.0zM73.4 223.2h1.0v1.0h-1.0zM67.4 222.7h1.0v1.0h-1.0zM61.4 218.0h1.0v1.0h-1.0zM55.0 224.0h1.0v1.0h-1.0zM63.9 229.9h1.0v1.0h-1.0zM55.2 219.4h1.0v1.0h-1.0zM52.6 228.7h1.0v1.0h-1.0zM50.5 225.7h1.0v1.0h-1.0zM76.9 221.2h1.0v1.0h-1.0zM69.9 211.3h1.0v1.0h-1.0zM58.9 213.7h1.0v1.0h-1.0zM64.4 221.9h1.0v1.0h-1.0zM55.1 226.5h1.0v1.0h-1.0zM66.2 219.3h1.0v1.0h-1.0zM57.7 214.6h1.0v1.0h-1.0zM55.7 223.9h1.0v1.0h-1.0zM57.3 225.8h1.0v1.0h-1.0zM67.1 220.7h1.0v1.0h-1.0zM74.6 220.7h1.0v1.0h-1.0zM69.0 219.5h1.0v1.0h-1.0zM65.9 219.0h1.0v1.0h-1.0zM59.1 223.3h1.0v1.0h-1.0zM56.9 223.6h1.0v1.0h-1.0zM60.7 210.2h1.0v1.0h-1.0zM61.3 218.9h1.0v1.0h-1.0zM54.5 223.9h1.0v1.0h-1.0zM57.9 224.5h1.0v1.0h-1.0zM73.6 222.6h1.0v1.0h-1.0zM47.5 218.3h1.0v1.0h-1.0zM71.8 220.6h1.0v1.0h-1.0zM54.8 221.4h1.0v1.0h-1.0z" fill="#888" fill-opacity="0.6"/>
<path d="M78.1 198.3 L78.1 198.3 L78.1 200.2 L78.1 202.1 L78.0 204.0 L78.0 205.9 L78.0 207.8 L78.0 209.7 L78.0 211.6 L78.1 213.5 L78.2 215.4 L78.4 217.3 L78.5 219.2 L78.6 221.1 L79.0 223.0 Q87.4 227.0 95.9 223.0 L95.9 223.0 L97.2 221.1 L98.3 219.2 L99.2 217.3 L100.1 215.4 L101.0 213.5 L101.4 211.6 L101.7 209.7 L102.0 207.8 L102.3 205.9 L102.2 204.0 L101.7 202.1 L101.2 200.2 L100.7 198.3 Q100.1 195.8 97.1 195.8 L81.1 195.8 Q78.1 195.8 78.1 198.3Z" fill="#0a0a0a"/>
<path d="M105.5 223.3h1.0v1.0h-1.0zM100.4 218.7h1.0v1.0h-1.0zM99.6 202.1h1.0v1.0h-1.0zM95.2 229.0h1.0v1.0h-1.0zM100.2 219.4h1.0v1.0h-1.0zM102.3 213.0h1.0v1.0h-1.0zM99.9 225.7h1.0v1.0h-1.0zM95.3 221.0h1.0v1.0h-1.0zM97.1 221.4h1.0v1.0h-1.0zM104.4 204.8h1.0v1.0h-1.0zM101.9 210.6h1.0v1.0h-1.0zM97.6 222.5h1.0v1.0h-1.0zM101.2 205.3h1.0v1.0h-1.0zM96.7 218.1h1.0v1.0h-1.0zM93.2 219.5h1.0v1.0h-1.0zM101.6 214.5h1.0v1.0h-1.0zM101.9 212.1h1.0v1.0h-1.0zM95.9 224.0h1.0v1.0h-1.0zM101.1 202.7h1.0v1.0h-1.0zM99.0 203.7h1.0v1.0h-1.0zM100.9 201.0h1.0v1.0h-1.0zM96.9 217.8h1.0v1.0h-1.0zM96.6 223.2h1.0v1.0h-1.0zM103.5 201.9h1.0v1.0h-1.0zM103.3 197.6h1.0v1.0h-1.0zM98.0 221.1h1.0v1.0h-1.0zM95.7 222.4h1.0v1.0h-1.0zM98.6 222.4h1.0v1.0h-1.0zM99.5 209.3h1.0v1.0h-1.0zM104.0 204.3h1.0v1.0h-1.0zM90.9 228.4h1.0v1.0h-1.0zM94.7 222.1h1.0v1.0h-1.0zM98.1 225.1h1.0v1.0h-1.0zM96.8 218.6h1.0v1.0h-1.0zM102.5 203.5h1.0v1.0h-1.0zM102.8 210.7h1.0v1.0h-1.0zM99.2 223.3h1.0v1.0h-1.0zM87.7 230.0h1.0v1.0h-1.0zM96.7 221.5h1.0v1.0h-1.0zM95.0 222.1h1.0v1.0h-1.0zM101.3 220.2h1.0v1.0h-1.0zM102.9 210.4h1.0v1.0h-1.0zM102.6 200.7h1.0v1.0h-1.0zM102.1 199.8h1.0v1.0h-1.0zM102.0 206.4h1.0v1.0h-1.0zM103.0 201.0h1.0v1.0h-1.0zM93.6 223.3h1.0v1.0h-1.0zM98.9 201.0h1.0v1.0h-1.0zM99.4 214.6h1.0v1.0h-1.0zM101.1 205.9h1.0v1.0h-1.0zM101.7 222.3h1.0v1.0h-1.0zM100.9 213.5h1.0v1.0h-1.0zM94.5 218.7h1.0v1.0h-1.0zM91.5 230.1h1.0v1.0h-1.0zM101.3 204.6h1.0v1.0h-1.0zM101.4 206.7h1.0v1.0h-1.0zM101.2 197.4h1.0v1.0h-1.0zM106.2 206.3h1.0v1.0h-1.0zM95.7 230.6h1.0v1.0h-1.0zM103.4 213.8h1.0v1.0h-1.0zM98.2 221.7h1.0v1.0h-1.0zM102.5 212.6h1.0v1.0h-1.0zM103.2 215.6h1.0v1.0h-1.0zM105.8 201.8h1.0v1.0h-1.0zM101.0 208.8h1.0v1.0h-1.0zM102.7 212.8h1.0v1.0h-1.0zM103.5 203.4h1.0v1.0h-1.0zM106.0 205.6h1.0v1.0h-1.0zM100.4 197.6h1.0v1.0h-1.0zM100.8 201.7h1.0v1.0h-1.0zM99.0 218.0h1.0v1.0h-1.0zM101.6 220.1h1.0v1.0h-1.0zM101.7 217.5h1.0v1.0h-1.0zM101.0 209.5h1.0v1.0h-1.0zM106.4 199.3h1.0v1.0h-1.0zM100.6 211.1h1.0v1.0h-1.0zM98.4 224.7h1.0v1.0h-1.0zM94.4 222.9h1.0v1.0h-1.0zM91.2 228.5h1.0v1.0h-1.0zM99.6 202.7h1.0v1.0h-1.0zM101.0 215.4h1.0v1.0h-1.0zM101.9 206.0h1.0v1.0h-1.0zM96.5 219.4h1.0v1.0h-1.0zM98.6 215.4h1.0v1.0h-1.0zM97.0 219.3h1.0v1.0h-1.0zM96.5 226.8h1.0v1.0h-1.0zM96.1 219.6h1.0v1.0h-1.0zM102.5 203.1h1.0v1.0h-1.0zM101.8 218.2h1.0v1.0h-1.0zM99.7 198.7h1.0v1.0h-1.0zM92.6 225.5h1.0v1.0h-1.0zM102.6 206.6h1.0v1.0h-1.0zM99.2 220.3h1.0v1.0h-1.0zM96.0 219.3h1.0v1.0h-1.0zM103.6 202.1h1.0v1.0h-1.0zM93.1 228.4h1.0v1.0h-1.0zM106.0 203.3h1.0v1.0h-1.0zM90.6 229.4h1.0v1.0h-1.0zM99.9 215.3h1.0v1.0h-1.0zM104.7 209.5h1.0v1.0h-1.0zM91.5 230.1h1.0v1.0h-1.0zM102.0 210.7h1.0v1.0h-1.0zM97.4 223.4h1.0v1.0h-1.0zM104.4 202.9h1.0v1.0h-1.0zM100.2 214.4h1.0v1.0h-1.0zM102.3 207.4h1.0v1.0h-1.0zM101.4 205.8h1.0v1.0h-1.0zM94.9 223.2h1.0v1.0h-1.0zM105.0 206.6h1.0v1.0h-1.0zM97.5 219.8h1.0v1.0h-1.0zM91.5 229.0h1.0v1.0h-1.0zM95.5 224.6h1.0v1.0h-1.0zM98.6 218.8h1.0v1.0h-1.0zM105.2 207.4h1.0v1.0h-1.0zM100.9 202.7h1.0v1.0h-1.0zM102.8 205.8h1.0v1.0h-1.0zM100.5 217.1h1.0v1.0h-1.0zM99.6 217.4h1.0v1.0h-1.0zM107.4 203.5h1.0v1.0h-1.0zM94.7 229.6h1.0v1.0h-1.0zM98.5 214.8h1.0v1.0h-1.0zM102.9 216.4h1.0v1.0h-1.0zM98.3 222.2h1.0v1.0h-1.0zM105.7 199.4h1.0v1.0h-1.0zM103.3 207.1h1.0v1.0h-1.0zM101.9 217.3h1.0v1.0h-1.0zM105.6 205.1h1.0v1.0h-1.0zM98.8 216.3h1.0v1.0h-1.0zM101.3 217.8h1.0v1.0h-1.0zM101.1 201.5h1.0v1.0h-1.0zM102.9 205.0h1.0v1.0h-1.0zM102.7 205.4h1.0v1.0h-1.0zM101.1 206.9h1.0v1.0h-1.0zM93.0 230.9h1.0v1.0h-1.0zM100.8 212.6h1.0v1.0h-1.0zM91.7 229.3h1.0v1.0h-1.0zM101.2 207.6h1.0v1.0h-1.0zM98.0 215.6h1.0v1.0h-1.0zM100.2 210.6h1.0v1.0h-1.0zM102.1 199.3h1.0v1.0h-1.0zM99.9 201.2h1.0v1.0h-1.0zM101.7 209.5h1.0v1.0h-1.0zM92.0 226.9h1.0v1.0h-1.0zM105.6 202.4h1.0v1.0h-1.0zM94.9 226.2h1.0v1.0h-1.0zM97.7 220.8h1.0v1.0h-1.0zM103.8 210.2h1.0v1.0h-1.0zM106.4 198.2h1.0v1.0h-1.0zM103.4 204.8h1.0v1.0h-1.0zM103.4 222.3h1.0v1.0h-1.0zM100.6 204.4h1.0v1.0h-1.0zM100.5 204.2h1.0v1.0h-1.0zM99.3 198.7h1.0v1.0h-1.0zM100.1 197.0h1.0v1.0h-1.0zM101.2 215.5h1.0v1.0h-1.0zM90.8 228.4h1.0v1.0h-1.0zM94.5 228.3h1.0v1.0h-1.0zM97.1 225.3h1.0v1.0h-1.0zM95.8 224.3h1.0v1.0h-1.0zM97.3 220.7h1.0v1.0h-1.0zM103.2 203.0h1.0v1.0h-1.0zM96.6 222.4h1.0v1.0h-1.0zM92.8 224.8h1.0v1.0h-1.0zM101.5 206.0h1.0v1.0h-1.0zM103.9 207.7h1.0v1.0h-1.0zM95.1 228.5h1.0v1.0h-1.0zM102.8 208.5h1.0v1.0h-1.0zM102.7 198.0h1.0v1.0h-1.0zM99.1 201.6h1.0v1.0h-1.0zM101.0 214.3h1.0v1.0h-1.0zM104.9 213.7h1.0v1.0h-1.0zM93.7 228.2h1.0v1.0h-1.0zM94.8 220.1h1.0v1.0h-1.0zM94.6 228.7h1.0v1.0h-1.0zM99.6 215.7h1.0v1.0h-1.0zM98.5 197.6h1.0v1.0h-1.0zM96.0 224.6h1.0v1.0h-1.0zM103.8 206.6h1.0v1.0h-1.0zM101.5 200.8h1.0v1.0h-1.0zM101.6 213.8h1.0v1.0h-1.0zM101.4 226.7h1.0v1.0h-1.0zM89.7 228.4h1.0v1.0h-1.0zM104.7 205.1h1.0v1.0h-1.0zM95.4 228.3h1.0v1.0h-1.0zM93.3 226.9h1.0v1.0h-1.0zM102.0 203.4h1.0v1.0h-1.0zM100.9 198.8h1.0v1.0h-1.0zM103.5 206.6h1.0v1.0h-1.0zM100.7 215.9h1.0v1.0h-1.0zM99.4 196.7h1.0v1.0h-1.0zM93.6 227.5h1.0v1.0h-1.0zM102.9 198.7h1.0v1.0h-1.0zM96.9 218.1h1.0v1.0h-1.0zM98.8 216.8h1.0v1.0h-1.0zM95.6 223.2h1.0v1.0h-1.0zM100.1 203.4h1.0v1.0h-1.0zM96.2 222.1h1.0v1.0h-1.0zM92.9 226.7h1.0v1.0h-1.0zM97.3 219.8h1.0v1.0h-1.0zM96.3 225.5h1.0v1.0h-1.0zM101.6 215.5h1.0v1.0h-1.0zM97.7 219.8h1.0v1.0h-1.0zM101.5 197.5h1.0v1.0h-1.0zM100.7 210.9h1.0v1.0h-1.0zM103.1 199.0h1.0v1.0h-1.0zM101.1 201.1h1.0v1.0h-1.0zM104.2 202.8h1.0v1.0h-1.0zM104.9 214.1h1.0v1.0h-1.0zM100.5 209.1h1.0v1.0h-1.0zM92.4 230.5h1.0v1.0h-1.0zM109.7 205.3h1.0v1.0h-1.0zM99.8 196.0h1.0v1.0h-1.0zM101.7 211.9h1.0v1.0h-1.0zM93.8 230.4h1.0v1.0h-1.0zM103.4 212.2h1.0v1.0h-1.0zM105.2 206.7h1.0v1.0h-1.0zM103.1 205.5h1.0v1.0h-1.0zM101.8 206.8h1.0v1.0h-1.0zM97.6 222.3h1.0v1.0h-1.0zM98.6 220.6h1.0v1.0h-1.0zM102.0 201.9h1.0v1.0h-1.0zM92.5 230.1h1.0v1.0h-1.0zM99.9 199.0h1.0v1.0h-1.0zM102.5 213.1h1.0v1.0h-1.0zM101.8 213.7h1.0v1.0h-1.0zM95.1 227.7h1.0v1.0h-1.0zM102.5 202.0h1.0v1.0h-1.0zM88.4 227.6h1.0v1.0h-1.0zM101.7 205.5h1.0v1.0h-1.0zM104.4 211.2h1.0v1.0h-1.0zM101.8 213.8h1.0v1.0h-1.0zM97.1 222.1h1.0v1.0h-1.0zM103.9 211.8h1.0v1.0h-1.0zM102.9 210.6h1.0v1.0h-1.0zM99.2 202.7h1.0v1.0h-1.0zM105.3 197.8h1.0v1.0h-1.0zM98.9 219.2h1.0v1.0h-1.0zM95.5 223.8h1.0v1.0h-1.0zM103.5 199.1h1.0v1.0h-1.0zM102.4 208.0h1.0v1.0h-1.0zM93.4 228.8h1.0v1.0h-1.0zM101.6 217.1h1.0v1.0h-1.0zM102.0 217.9h1.0v1.0h-1.0zM97.0 221.8h1.0v1.0h-1.0zM96.3 220.3h1.0v1.0h-1.0zM95.7 221.4h1.0v1.0h-1.0zM99.6 199.1h1.0v1.0h-1.0zM96.3 218.7h1.0v1.0h-1.0zM102.3 205.1h1.0v1.0h-1.0zM101.3 198.1h1.0v1.0h-1.0zM96.1 218.4h1.0v1.0h-1.0zM96.3 222.6h1.0v1.0h-1.0zM98.5 218.9h1.0v1.0h-1.0zM100.2 206.9h1.0v1.0h-1.0zM94.5 226.5h1.0v1.0h-1.0zM100.7 213.8h1.0v1.0h-1.0zM97.3 222.9h1.0v1.0h-1.0zM106.8 205.2h1.0v1.0h-1.0zM101.2 199.9h1.0v1.0h-1.0zM93.1 229.2h1.0v1.0h-1.0zM98.4 214.5h1.0v1.0h-1.0zM100.4 217.2h1.0v1.0h-1.0zM100.5 214.8h1.0v1.0h-1.0zM101.5 214.1h1.0v1.0h-1.0zM101.0 216.0h1.0v1.0h-1.0zM97.0 222.1h1.0v1.0h-1.0zM103.7 204.3h1.0v1.0h-1.0zM95.2 221.5h1.0v1.0h-1.0zM103.9 213.6h1.0v1.0h-1.0zM99.7 212.2h1.0v1.0h-1.0zM99.3 196.1h1.0v1.0h-1.0zM105.3 204.2h1.0v1.0h-1.0zM104.1 215.5h1.0v1.0h-1.0zM98.2 219.8h1.0v1.0h-1.0zM101.8 210.4h1.0v1.0h-1.0zM101.7 203.5h1.0v1.0h-1.0zM99.5 211.7h1.0v1.0h-1.0zM104.7 203.9h1.0v1.0h-1.0zM102.8 200.8h1.0v1.0h-1.0zM105.2 205.4h1.0v1.0h-1.0zM102.3 199.9h1.0v1.0h-1.0zM96.6 223.5h1.0v1.0h-1.0zM107.0 201.4h1.0v1.0h-1.0zM100.2 200.4h1.0v1.0h-1.0zM94.5 228.1h1.0v1.0h-1.0zM102.0 205.4h1.0v1.0h-1.0zM99.2 214.8h1.0v1.0h-1.0zM99.5 198.7h1.0v1.0h-1.0zM101.0 216.8h1.0v1.0h-1.0zM104.6 207.4h1.0v1.0h-1.0zM102.5 213.8h1.0v1.0h-1.0zM99.7 214.0h1.0v1.0h-1.0zM102.0 197.5h1.0v1.0h-1.0zM101.1 218.9h1.0v1.0h-1.0zM94.3 225.0h1.0v1.0h-1.0zM103.1 216.5h1.0v1.0h-1.0zM103.4 205.3h1.0v1.0h-1.0zM101.7 216.9h1.0v1.0h-1.0zM102.5 216.4h1.0v1.0h-1.0zM101.3 209.3h1.0v1.0h-1.0zM101.6 216.7h1.0v1.0h-1.0zM96.5 225.4h1.0v1.0h-1.0zM97.1 220.5h1.0v1.0h-1.0zM102.6 198.7h1.0v1.0h-1.0zM106.0 214.7h1.0v1.0h-1.0zM98.6 197.1h1.0v1.0h-1.0zM101.7 197.2h1.0v1.0h-1.0zM100.3 198.6h1.0v1.0h-1.0zM91.1 228.8h1.0v1.0h-1.0zM100.6 197.9h1.0v1.0h-1.0zM104.2 214.4h1.0v1.0h-1.0zM100.9 196.4h1.0v1.0h-1.0zM108.6 200.6h1.0v1.0h-1.0zM103.6 202.5h1.0v1.0h-1.0zM92.9 230.0h1.0v1.0h-1.0zM97.7 223.8h1.0v1.0h-1.0zM92.4 227.4h1.0v1.0h-1.0zM93.5 229.6h1.0v1.0h-1.0zM95.2 223.3h1.0v1.0h-1.0zM102.5 205.0h1.0v1.0h-1.0zM102.1 209.7h1.0v1.0h-1.0zM103.5 206.0h1.0v1.0h-1.0zM96.6 222.2h1.0v1.0h-1.0zM100.8 215.4h1.0v1.0h-1.0zM99.6 215.6h1.0v1.0h-1.0zM89.6 229.0h1.0v1.0h-1.0zM95.3 224.2h1.0v1.0h-1.0zM94.8 229.6h1.0v1.0h-1.0zM99.9 196.9h1.0v1.0h-1.0zM102.9 207.9h1.0v1.0h-1.0zM100.0 222.5h1.0v1.0h-1.0zM93.1 226.5h1.0v1.0h-1.0zM96.9 196.4h1.0v1.0h-1.0zM104.8 199.8h1.0v1.0h-1.0zM104.8 206.8h1.0v1.0h-1.0zM99.4 213.4h1.0v1.0h-1.0zM103.9 212.5h1.0v1.0h-1.0zM98.0 198.1h1.0v1.0h-1.0zM99.6 212.1h1.0v1.0h-1.0zM93.3 226.9h1.0v1.0h-1.0zM103.6 213.8h1.0v1.0h-1.0zM104.8 199.0h1.0v1.0h-1.0zM91.3 229.6h1.0v1.0h-1.0zM104.0 200.3h1.0v1.0h-1.0zM95.4 226.5h1.0v1.0h-1.0zM100.3 212.8h1.0v1.0h-1.0zM99.3 195.9h1.0v1.0h-1.0zM102.8 200.8h1.0v1.0h-1.0zM104.7 203.4h1.0v1.0h-1.0zM101.4 218.3h1.0v1.0h-1.0zM93.6 227.4h1.0v1.0h-1.0zM102.3 208.5h1.0v1.0h-1.0zM99.8 208.2h1.0v1.0h-1.0zM103.0 205.6h1.0v1.0h-1.0zM97.2 222.4h1.0v1.0h-1.0zM103.3 210.4h1.0v1.0h-1.0zM100.4 212.5h1.0v1.0h-1.0zM94.1 226.0h1.0v1.0h-1.0zM93.5 229.0h1.0v1.0h-1.0zM98.0 224.2h1.0v1.0h-1.0zM94.7 221.8h1.0v1.0h-1.0zM95.0 223.3h1.0v1.0h-1.0zM110.3 200.1h1.0v1.0h-1.0zM92.0 228.3h1.0v1.0h-1.0zM100.6 200.8h1.0v1.0h-1.0zM102.6 207.2h1.0v1.0h-1.0zM103.3 203.0h1.0v1.0h-1.0zM100.7 212.4h1.0v1.0h-1.0zM102.8 206.8h1.0v1.0h-1.0zM99.8 196.1h1.0v1.0h-1.0zM98.1 197.4h1.0v1.0h-1.0zM95.8 222.5h1.0v1.0h-1.0zM98.6 224.3h1.0v1.0h-1.0zM100.9 220.5h1.0v1.0h-1.0zM100.7 205.1h1.0v1.0h-1.0zM96.0 222.3h1.0v1.0h-1.0zM92.3 225.5h1.0v1.0h-1.0zM93.9 225.3h1.0v1.0h-1.0zM102.0 214.3h1.0v1.0h-1.0zM101.5 219.3h1.0v1.0h-1.0zM79.8 227.8h1.0v1.0h-1.0zM77.6 219.4h1.0v1.0h-1.0zM78.0 212.2h1.0v1.0h-1.0zM79.1 220.8h1.0v1.0h-1.0zM76.8 199.1h1.0v1.0h-1.0zM78.5 226.1h1.0v1.0h-1.0zM78.9 225.2h1.0v1.0h-1.0zM78.2 202.3h1.0v1.0h-1.0zM78.8 209.4h1.0v1.0h-1.0zM78.8 201.5h1.0v1.0h-1.0zM78.2 217.7h1.0v1.0h-1.0zM77.4 199.4h1.0v1.0h-1.0zM77.8 207.1h1.0v1.0h-1.0zM77.2 218.7h1.0v1.0h-1.0zM79.8 228.3h1.0v1.0h-1.0zM76.9 224.0h1.0v1.0h-1.0zM77.7 211.1h1.0v1.0h-1.0zM78.0 204.8h1.0v1.0h-1.0zM78.8 223.9h1.0v1.0h-1.0zM80.1 225.5h1.0v1.0h-1.0zM77.5 206.1h1.0v1.0h-1.0zM81.0 228.4h1.0v1.0h-1.0zM77.6 215.1h1.0v1.0h-1.0zM77.1 203.1h1.0v1.0h-1.0zM81.6 230.8h1.0v1.0h-1.0zM77.2 200.8h1.0v1.0h-1.0zM79.9 214.2h1.0v1.0h-1.0zM77.1 217.9h1.0v1.0h-1.0zM77.7 223.2h1.0v1.0h-1.0zM78.7 222.5h1.0v1.0h-1.0zM81.8 230.6h1.0v1.0h-1.0zM77.5 196.2h1.0v1.0h-1.0zM78.5 205.7h1.0v1.0h-1.0zM76.6 217.6h1.0v1.0h-1.0zM78.7 222.2h1.0v1.0h-1.0zM79.5 225.5h1.0v1.0h-1.0zM77.2 207.5h1.0v1.0h-1.0zM79.0 205.8h1.0v1.0h-1.0zM77.4 212.2h1.0v1.0h-1.0zM77.2 206.1h1.0v1.0h-1.0zM78.1 206.9h1.0v1.0h-1.0zM78.7 216.6h1.0v1.0h-1.0zM78.4 204.7h1.0v1.0h-1.0zM78.0 221.0h1.0v1.0h-1.0zM78.6 199.4h1.0v1.0h-1.0zM78.1 211.4h1.0v1.0h-1.0zM76.5 207.3h1.0v1.0h-1.0zM78.6 215.8h1.0v1.0h-1.0zM80.4 230.7h1.0v1.0h-1.0zM79.6 228.4h1.0v1.0h-1.0zM78.0 223.1h1.0v1.0h-1.0zM79.5 227.6h1.0v1.0h-1.0zM78.3 210.6h1.0v1.0h-1.0zM79.2 201.9h1.0v1.0h-1.0zM80.9 230.4h1.0v1.0h-1.0zM79.4 221.6h1.0v1.0h-1.0zM78.6 213.4h1.0v1.0h-1.0zM79.1 215.5h1.0v1.0h-1.0zM78.0 222.4h1.0v1.0h-1.0zM77.5 213.8h1.0v1.0h-1.0zM80.0 230.6h1.0v1.0h-1.0zM78.8 221.4h1.0v1.0h-1.0zM76.9 208.1h1.0v1.0h-1.0zM77.9 197.1h1.0v1.0h-1.0zM77.6 207.9h1.0v1.0h-1.0zM76.8 216.9h1.0v1.0h-1.0zM79.3 226.5h1.0v1.0h-1.0zM77.7 215.8h1.0v1.0h-1.0zM78.6 220.4h1.0v1.0h-1.0zM77.6 208.2h1.0v1.0h-1.0zM77.1 206.9h1.0v1.0h-1.0zM77.7 207.8h1.0v1.0h-1.0zM79.2 219.0h1.0v1.0h-1.0zM78.7 226.2h1.0v1.0h-1.0zM78.4 211.3h1.0v1.0h-1.0zM80.7 228.0h1.0v1.0h-1.0zM80.4 230.2h1.0v1.0h-1.0zM81.0 229.9h1.0v1.0h-1.0zM80.2 227.8h1.0v1.0h-1.0zM79.4 226.4h1.0v1.0h-1.0zM78.2 220.3h1.0v1.0h-1.0zM77.6 209.7h1.0v1.0h-1.0zM76.1 200.8h1.0v1.0h-1.0zM77.2 208.0h1.0v1.0h-1.0zM77.1 201.9h1.0v1.0h-1.0zM77.0 202.7h1.0v1.0h-1.0zM80.9 228.3h1.0v1.0h-1.0zM79.4 222.2h1.0v1.0h-1.0zM77.3 220.5h1.0v1.0h-1.0zM81.7 231.3h1.0v1.0h-1.0zM78.7 217.5h1.0v1.0h-1.0zM77.4 200.4h1.0v1.0h-1.0zM79.4 221.5h1.0v1.0h-1.0zM78.5 208.5h1.0v1.0h-1.0zM78.5 200.9h1.0v1.0h-1.0zM78.6 206.9h1.0v1.0h-1.0zM78.5 200.2h1.0v1.0h-1.0zM78.4 212.8h1.0v1.0h-1.0zM76.9 204.9h1.0v1.0h-1.0zM76.6 208.9h1.0v1.0h-1.0zM79.1 203.6h1.0v1.0h-1.0zM78.5 210.8h1.0v1.0h-1.0zM80.7 229.2h1.0v1.0h-1.0zM78.3 202.7h1.0v1.0h-1.0zM78.3 205.2h1.0v1.0h-1.0zM79.0 218.2h1.0v1.0h-1.0zM78.3 196.6h1.0v1.0h-1.0zM78.6 221.8h1.0v1.0h-1.0zM80.5 229.5h1.0v1.0h-1.0zM77.4 202.1h1.0v1.0h-1.0zM81.4 229.9h1.0v1.0h-1.0zM78.5 213.8h1.0v1.0h-1.0zM79.1 228.1h1.0v1.0h-1.0zM80.1 224.6h1.0v1.0h-1.0zM76.8 218.7h1.0v1.0h-1.0zM78.2 223.0h1.0v1.0h-1.0zM77.8 213.0h1.0v1.0h-1.0zM77.3 200.3h1.0v1.0h-1.0zM77.3 201.1h1.0v1.0h-1.0zM77.9 215.8h1.0v1.0h-1.0zM78.8 213.1h1.0v1.0h-1.0zM77.7 203.5h1.0v1.0h-1.0zM77.2 220.6h1.0v1.0h-1.0zM79.0 231.0h1.0v1.0h-1.0zM78.2 225.6h1.0v1.0h-1.0zM80.4 222.8h1.0v1.0h-1.0zM78.5 226.7h1.0v1.0h-1.0zM80.9 231.2h1.0v1.0h-1.0zM79.0 224.2h1.0v1.0h-1.0zM79.3 224.9h1.0v1.0h-1.0zM79.0 225.6h1.0v1.0h-1.0zM79.1 218.6h1.0v1.0h-1.0zM77.3 200.0h1.0v1.0h-1.0zM77.5 214.4h1.0v1.0h-1.0zM78.0 219.7h1.0v1.0h-1.0zM76.6 214.6h1.0v1.0h-1.0zM77.2 213.2h1.0v1.0h-1.0zM78.8 196.1h1.0v1.0h-1.0zM78.2 220.4h1.0v1.0h-1.0zM78.4 198.7h1.0v1.0h-1.0zM78.6 222.7h1.0v1.0h-1.0zM77.5 199.3h1.0v1.0h-1.0zM77.5 223.5h1.0v1.0h-1.0zM79.0 225.0h1.0v1.0h-1.0zM79.2 218.1h1.0v1.0h-1.0zM78.4 209.7h1.0v1.0h-1.0zM79.6 219.8h1.0v1.0h-1.0zM79.0 212.7h1.0v1.0h-1.0zM78.1 218.2h1.0v1.0h-1.0zM77.4 210.3h1.0v1.0h-1.0zM76.4 219.2h1.0v1.0h-1.0zM77.8 201.8h1.0v1.0h-1.0zM77.7 210.7h1.0v1.0h-1.0zM78.4 217.9h1.0v1.0h-1.0zM80.4 224.7h1.0v1.0h-1.0zM77.7 198.6h1.0v1.0h-1.0zM77.6 197.8h1.0v1.0h-1.0zM78.8 220.4h1.0v1.0h-1.0zM78.2 219.7h1.0v1.0h-1.0zM77.9 218.6h1.0v1.0h-1.0zM77.3 195.8h1.0v1.0h-1.0zM77.8 206.9h1.0v1.0h-1.0zM80.6 229.3h1.0v1.0h-1.0zM77.0 209.5h1.0v1.0h-1.0zM77.4 197.0h1.0v1.0h-1.0zM78.0 214.0h1.0v1.0h-1.0zM77.1 196.5h1.0v1.0h-1.0zM78.5 212.9h1.0v1.0h-1.0zM78.9 218.8h1.0v1.0h-1.0zM79.8 228.2h1.0v1.0h-1.0zM89.7 197.9h1.0v1.0h-1.0zM80.0 196.9h1.0v1.0h-1.0zM84.8 196.7h1.0v1.0h-1.0zM92.0 196.6h1.0v1.0h-1.0zM79.5 197.1h1.0v1.0h-1.0zM87.8 197.2h1.0v1.0h-1.0zM87.5 196.6h1.0v1.0h-1.0zM91.4 197.9h1.0v1.0h-1.0zM84.6 196.4h1.0v1.0h-1.0zM88.4 196.0h1.0v1.0h-1.0zM98.0 195.9h1.0v1.0h-1.0zM89.6 196.1h1.0v1.0h-1.0zM91.0 196.2h1.0v1.0h-1.0zM99.9 196.1h1.0v1.0h-1.0zM78.6 196.0h1.0v1.0h-1.0zM99.6 196.7h1.0v1.0h-1.0zM87.0 195.6h1.0v1.0h-1.0zM95.9 195.6h1.0v1.0h-1.0zM82.1 196.3h1.0v1.0h-1.0zM86.7 196.2h1.0v1.0h-1.0zM90.4 195.8h1.0v1.0h-1.0zM100.4 197.5h1.0v1.0h-1.0zM87.5 196.2h1.0v1.0h-1.0zM90.6 196.6h1.0v1.0h-1.0zM97.3 195.6h1.0v1.0h-1.0zM85.4 198.2h1.0v1.0h-1.0zM86.8 196.1h1.0v1.0h-1.0zM78.7 196.9h1.0v1.0h-1.0zM94.0 196.5h1.0v1.0h-1.0zM84.0 196.7h1.0v1.0h-1.0zM89.8 196.0h1.0v1.0h-1.0zM100.0 194.9h1.0v1.0h-1.0zM80.8 195.5h1.0v1.0h-1.0zM99.8 197.3h1.0v1.0h-1.0zM93.2 196.7h1.0v1.0h-1.0zM93.1 196.7h1.0v1.0h-1.0zM78.5 196.0h1.0v1.0h-1.0zM85.9 196.2h1.0v1.0h-1.0zM80.5 196.1h1.0v1.0h-1.0zM82.3 195.7h1.0v1.0h-1.0zM89.0 196.8h1.0v1.0h-1.0zM89.2 195.9h1.0v1.0h-1.0zM96.1 195.4h1.0v1.0h-1.0zM95.6 196.4h1.0v1.0h-1.0zM81.9 196.3h1.0v1.0h-1.0zM86.9 196.0h1.0v1.0h-1.0zM93.4 196.5h1.0v1.0h-1.0zM82.1 196.7h1.0v1.0h-1.0zM80.5 197.0h1.0v1.0h-1.0zM86.7 196.0h1.0v1.0h-1.0zM95.5 195.9h1.0v1.0h-1.0zM100.7 196.7h1.0v1.0h-1.0zM98.1 196.4h1.0v1.0h-1.0zM80.0 196.1h1.0v1.0h-1.0zM87.3 196.8h1.0v1.0h-1.0zM87.5 197.1h1.0v1.0h-1.0zM95.9 196.7h1.0v1.0h-1.0zM99.1 195.8h1.0v1.0h-1.0zM98.0 194.8h1.0v1.0h-1.0zM79.0 196.9h1.0v1.0h-1.0zM98.1 196.2h1.0v1.0h-1.0zM80.9 196.3h1.0v1.0h-1.0zM83.5 197.6h1.0v1.0h-1.0zM85.9 196.9h1.0v1.0h-1.0zM99.4 196.5h1.0v1.0h-1.0zM99.0 196.4h1.0v1.0h-1.0zM82.7 195.4h1.0v1.0h-1.0zM78.8 196.7h1.0v1.0h-1.0zM83.0 196.3h1.0v1.0h-1.0zM84.7 196.6h1.0v1.0h-1.0zM88.1 197.2h1.0v1.0h-1.0zM82.9 195.9h1.0v1.0h-1.0zM81.5 196.6h1.0v1.0h-1.0zM97.0 195.1h1.0v1.0h-1.0zM78.7 195.3h1.0v1.0h-1.0zM94.8 196.6h1.0v1.0h-1.0zM82.0 196.8h1.0v1.0h-1.0zM82.7 195.9h1.0v1.0h-1.0zM90.4 197.0h1.0v1.0h-1.0zM89.7 196.3h1.0v1.0h-1.0zM91.9 197.0h1.0v1.0h-1.0zM80.0 195.9h1.0v1.0h-1.0zM98.5 195.8h1.0v1.0h-1.0zM92.8 197.0h1.0v1.0h-1.0zM82.7 197.1h1.0v1.0h-1.0zM94.8 195.8h1.0v1.0h-1.0zM93.9 197.2h1.0v1.0h-1.0zM86.0 195.5h1.0v1.0h-1.0zM100.5 196.6h1.0v1.0h-1.0zM84.5 195.7h1.0v1.0h-1.0zM84.3 221.6h1.0v1.0h-1.0zM88.5 228.6h1.0v1.0h-1.0zM87.0 220.6h1.0v1.0h-1.0zM85.6 223.7h1.0v1.0h-1.0zM86.9 220.8h1.0v1.0h-1.0zM91.8 226.2h1.0v1.0h-1.0zM95.2 223.9h1.0v1.0h-1.0zM81.6 227.9h1.0v1.0h-1.0zM93.0 226.7h1.0v1.0h-1.0zM93.5 224.1h1.0v1.0h-1.0zM83.3 226.1h1.0v1.0h-1.0zM80.4 222.8h1.0v1.0h-1.0zM92.4 221.2h1.0v1.0h-1.0zM95.7 224.4h1.0v1.0h-1.0zM94.5 220.6h1.0v1.0h-1.0zM97.8 222.5h1.0v1.0h-1.0zM93.8 226.7h1.0v1.0h-1.0zM84.0 220.4h1.0v1.0h-1.0zM82.5 221.5h1.0v1.0h-1.0zM97.8 220.4h1.0v1.0h-1.0zM79.9 223.6h1.0v1.0h-1.0zM78.7 222.4h1.0v1.0h-1.0zM88.5 228.1h1.0v1.0h-1.0zM96.6 221.2h1.0v1.0h-1.0zM81.3 221.2h1.0v1.0h-1.0zM95.0 220.6h1.0v1.0h-1.0zM89.7 221.1h1.0v1.0h-1.0zM89.9 220.8h1.0v1.0h-1.0zM89.6 221.3h1.0v1.0h-1.0zM85.2 220.9h1.0v1.0h-1.0zM87.0 221.5h1.0v1.0h-1.0zM83.0 224.3h1.0v1.0h-1.0zM93.3 221.7h1.0v1.0h-1.0zM96.2 220.3h1.0v1.0h-1.0zM80.0 222.1h1.0v1.0h-1.0zM81.2 224.0h1.0v1.0h-1.0zM85.3 222.5h1.0v1.0h-1.0zM92.2 227.0h1.0v1.0h-1.0zM93.9 220.6h1.0v1.0h-1.0zM96.8 220.7h1.0v1.0h-1.0zM81.5 221.9h1.0v1.0h-1.0zM81.3 222.6h1.0v1.0h-1.0zM94.3 221.4h1.0v1.0h-1.0zM98.1 220.9h1.0v1.0h-1.0zM78.3 223.1h1.0v1.0h-1.0zM97.6 220.5h1.0v1.0h-1.0zM89.2 220.8h1.0v1.0h-1.0zM87.7 227.7h1.0v1.0h-1.0zM91.1 223.7h1.0v1.0h-1.0zM80.1 224.4h1.0v1.0h-1.0zM78.2 222.4h1.0v1.0h-1.0zM82.1 223.1h1.0v1.0h-1.0zM84.5 221.3h1.0v1.0h-1.0zM84.2 225.0h1.0v1.0h-1.0zM82.0 223.4h1.0v1.0h-1.0zM85.7 220.8h1.0v1.0h-1.0zM80.3 226.6h1.0v1.0h-1.0zM82.1 221.0h1.0v1.0h-1.0zM96.7 220.5h1.0v1.0h-1.0zM78.4 222.8h1.0v1.0h-1.0zM87.0 225.6h1.0v1.0h-1.0zM85.0 225.4h1.0v1.0h-1.0zM91.5 220.6h1.0v1.0h-1.0zM96.5 220.6h1.0v1.0h-1.0zM82.7 226.4h1.0v1.0h-1.0zM83.2 222.5h1.0v1.0h-1.0zM86.8 229.6h1.0v1.0h-1.0zM95.6 225.1h1.0v1.0h-1.0zM94.6 225.8h1.0v1.0h-1.0zM87.6 222.8h1.0v1.0h-1.0zM92.6 224.4h1.0v1.0h-1.0zM88.8 222.3h1.0v1.0h-1.0zM91.2 223.0h1.0v1.0h-1.0zM79.2 223.6h1.0v1.0h-1.0zM94.4 226.4h1.0v1.0h-1.0zM92.8 225.5h1.0v1.0h-1.0zM94.6 226.7h1.0v1.0h-1.0zM80.9 222.5h1.0v1.0h-1.0zM84.6 228.4h1.0v1.0h-1.0zM94.9 222.4h1.0v1.0h-1.0zM82.3 227.0h1.0v1.0h-1.0zM96.0 221.3h1.0v1.0h-1.0zM88.8 220.1h1.0v1.0h-1.0zM86.9 225.3h1.0v1.0h-1.0zM94.0 223.2h1.0v1.0h-1.0zM78.6 221.6h1.0v1.0h-1.0zM81.5 221.1h1.0v1.0h-1.0zM92.0 222.7h1.0v1.0h-1.0zM94.0 226.6h1.0v1.0h-1.0zM82.1 223.7h1.0v1.0h-1.0zM96.2 221.8h1.0v1.0h-1.0zM92.8 227.8h1.0v1.0h-1.0zM95.0 225.1h1.0v1.0h-1.0zM94.9 222.7h1.0v1.0h-1.0zM92.0 222.9h1.0v1.0h-1.0zM99.0 220.7h1.0v1.0h-1.0zM82.3 222.7h1.0v1.0h-1.0zM79.7 221.5h1.0v1.0h-1.0zM78.2 220.4h1.0v1.0h-1.0zM85.5 227.5h1.0v1.0h-1.0zM87.8 222.9h1.0v1.0h-1.0zM79.9 220.5h1.0v1.0h-1.0zM81.4 221.1h1.0v1.0h-1.0zM85.1 220.7h1.0v1.0h-1.0zM78.2 220.7h1.0v1.0h-1.0zM87.0 221.9h1.0v1.0h-1.0zM81.8 220.9h1.0v1.0h-1.0zM78.6 223.1h1.0v1.0h-1.0zM90.9 222.2h1.0v1.0h-1.0zM83.4 220.6h1.0v1.0h-1.0zM94.2 220.1h1.0v1.0h-1.0zM84.2 226.0h1.0v1.0h-1.0zM78.5 222.3h1.0v1.0h-1.0zM91.8 221.3h1.0v1.0h-1.0zM82.3 221.0h1.0v1.0h-1.0zM91.6 225.3h1.0v1.0h-1.0zM95.7 220.7h1.0v1.0h-1.0zM93.2 223.6h1.0v1.0h-1.0zM93.9 221.6h1.0v1.0h-1.0zM81.2 223.2h1.0v1.0h-1.0zM96.1 220.5h1.0v1.0h-1.0zM83.6 220.8h1.0v1.0h-1.0zM88.9 229.6h1.0v1.0h-1.0zM81.4 220.2h1.0v1.0h-1.0zM96.4 221.3h1.0v1.0h-1.0zM95.7 224.2h1.0v1.0h-1.0zM85.2 221.7h1.0v1.0h-1.0zM84.8 227.0h1.0v1.0h-1.0zM94.1 221.7h1.0v1.0h-1.0zM86.4 222.1h1.0v1.0h-1.0zM96.8 224.0h1.0v1.0h-1.0zM91.2 224.0h1.0v1.0h-1.0zM91.8 226.9h1.0v1.0h-1.0zM78.4 220.7h1.0v1.0h-1.0zM84.9 221.4h1.0v1.0h-1.0zM84.1 220.7h1.0v1.0h-1.0zM93.6 220.1h1.0v1.0h-1.0zM90.8 222.1h1.0v1.0h-1.0zM85.4 224.5h1.0v1.0h-1.0zM87.0 225.1h1.0v1.0h-1.0zM85.1 221.7h1.0v1.0h-1.0zM79.7 220.7h1.0v1.0h-1.0zM87.8 228.5h1.0v1.0h-1.0zM90.9 226.3h1.0v1.0h-1.0zM79.7 220.8h1.0v1.0h-1.0zM85.8 220.4h1.0v1.0h-1.0zM88.6 226.4h1.0v1.0h-1.0zM78.8 220.4h1.0v1.0h-1.0zM80.4 221.5h1.0v1.0h-1.0zM89.1 222.6h1.0v1.0h-1.0zM88.0 223.9h1.0v1.0h-1.0zM89.0 228.7h1.0v1.0h-1.0zM96.3 222.8h1.0v1.0h-1.0zM95.4 221.7h1.0v1.0h-1.0zM96.5 221.6h1.0v1.0h-1.0zM92.0 228.4h1.0v1.0h-1.0zM89.8 221.3h1.0v1.0h-1.0zM83.9 222.7h1.0v1.0h-1.0zM80.8 221.5h1.0v1.0h-1.0zM88.1 223.1h1.0v1.0h-1.0zM88.2 224.8h1.0v1.0h-1.0zM79.5 225.6h1.0v1.0h-1.0zM91.1 225.2h1.0v1.0h-1.0zM97.1 221.7h1.0v1.0h-1.0zM90.1 224.5h1.0v1.0h-1.0zM80.2 227.6h1.0v1.0h-1.0zM83.5 231.6h1.0v1.0h-1.0zM90.6 221.7h1.0v1.0h-1.0zM83.9 220.2h1.0v1.0h-1.0zM80.8 227.8h1.0v1.0h-1.0zM82.2 227.6h1.0v1.0h-1.0zM96.6 222.5h1.0v1.0h-1.0zM94.1 225.1h1.0v1.0h-1.0zM91.8 220.5h1.0v1.0h-1.0zM94.7 224.9h1.0v1.0h-1.0zM91.9 223.9h1.0v1.0h-1.0zM87.5 221.3h1.0v1.0h-1.0zM89.4 226.3h1.0v1.0h-1.0zM97.1 220.4h1.0v1.0h-1.0zM79.9 225.3h1.0v1.0h-1.0zM78.9 222.0h1.0v1.0h-1.0zM84.8 224.4h1.0v1.0h-1.0zM82.4 222.6h1.0v1.0h-1.0zM92.8 223.1h1.0v1.0h-1.0zM90.8 220.4h1.0v1.0h-1.0zM82.9 220.2h1.0v1.0h-1.0zM92.5 227.9h1.0v1.0h-1.0zM90.4 224.7h1.0v1.0h-1.0zM87.3 225.2h1.0v1.0h-1.0zM84.3 223.6h1.0v1.0h-1.0zM97.4 221.6h1.0v1.0h-1.0zM85.3 222.3h1.0v1.0h-1.0zM90.3 220.8h1.0v1.0h-1.0zM87.8 227.7h1.0v1.0h-1.0zM94.0 222.3h1.0v1.0h-1.0zM88.7 225.7h1.0v1.0h-1.0zM94.3 222.6h1.0v1.0h-1.0zM81.4 223.5h1.0v1.0h-1.0zM83.8 220.5h1.0v1.0h-1.0zM94.8 220.0h1.0v1.0h-1.0zM90.4 220.0h1.0v1.0h-1.0zM94.2 226.6h1.0v1.0h-1.0zM79.6 222.2h1.0v1.0h-1.0zM78.4 221.9h1.0v1.0h-1.0zM88.4 220.2h1.0v1.0h-1.0zM79.9 224.9h1.0v1.0h-1.0zM83.7 226.3h1.0v1.0h-1.0zM87.1 221.5h1.0v1.0h-1.0zM78.7 222.1h1.0v1.0h-1.0zM89.9 228.4h1.0v1.0h-1.0zM93.0 222.5h1.0v1.0h-1.0zM93.7 223.9h1.0v1.0h-1.0zM94.1 223.8h1.0v1.0h-1.0zM83.3 228.5h1.0v1.0h-1.0zM86.5 224.3h1.0v1.0h-1.0zM89.1 221.4h1.0v1.0h-1.0zM97.7 221.2h1.0v1.0h-1.0zM93.9 222.8h1.0v1.0h-1.0zM92.3 222.1h1.0v1.0h-1.0zM87.0 223.9h1.0v1.0h-1.0zM88.4 220.1h1.0v1.0h-1.0zM86.9 221.4h1.0v1.0h-1.0zM90.6 224.4h1.0v1.0h-1.0zM83.6 220.5h1.0v1.0h-1.0zM79.1 220.8h1.0v1.0h-1.0zM85.0 221.7h1.0v1.0h-1.0zM85.3 221.2h1.0v1.0h-1.0zM81.4 221.8h1.0v1.0h-1.0zM86.3 223.0h1.0v1.0h-1.0zM87.7 225.3h1.0v1.0h-1.0zM87.3 220.8h1.0v1.0h-1.0zM87.0 225.1h1.0v1.0h-1.0zM81.6 220.6h1.0v1.0h-1.0zM80.5 224.1h1.0v1.0h-1.0zM85.5 221.2h1.0v1.0h-1.0zM82.5 229.8h1.0v1.0h-1.0zM82.0 223.8h1.0v1.0h-1.0zM85.1 220.8h1.0v1.0h-1.0zM86.7 220.7h1.0v1.0h-1.0zM79.6 223.1h1.0v1.0h-1.0zM80.4 221.3h1.0v1.0h-1.0zM96.5 220.3h1.0v1.0h-1.0zM80.3 220.9h1.0v1.0h-1.0zM97.8 220.6h1.0v1.0h-1.0zM96.0 221.0h1.0v1.0h-1.0zM81.8 226.7h1.0v1.0h-1.0zM90.9 222.0h1.0v1.0h-1.0zM91.1 224.6h1.0v1.0h-1.0zM96.3 221.1h1.0v1.0h-1.0zM95.2 225.0h1.0v1.0h-1.0zM89.5 222.1h1.0v1.0h-1.0zM89.6 222.4h1.0v1.0h-1.0zM90.0 223.0h1.0v1.0h-1.0zM90.9 221.8h1.0v1.0h-1.0zM89.7 223.9h1.0v1.0h-1.0zM85.0 224.5h1.0v1.0h-1.0zM78.9 220.5h1.0v1.0h-1.0zM82.4 221.5h1.0v1.0h-1.0zM84.5 221.7h1.0v1.0h-1.0zM93.5 221.2h1.0v1.0h-1.0zM94.0 220.3h1.0v1.0h-1.0zM91.0 225.8h1.0v1.0h-1.0zM86.3 222.1h1.0v1.0h-1.0zM78.3 221.8h1.0v1.0h-1.0zM95.4 222.1h1.0v1.0h-1.0zM79.2 221.5h1.0v1.0h-1.0zM92.5 221.9h1.0v1.0h-1.0zM86.8 230.7h1.0v1.0h-1.0zM88.5 220.9h1.0v1.0h-1.0zM86.4 220.6h1.0v1.0h-1.0zM96.1 221.8h1.0v1.0h-1.0zM95.6 224.0h1.0v1.0h-1.0zM87.5 221.1h1.0v1.0h-1.0zM97.6 220.7h1.0v1.0h-1.0zM80.2 227.2h1.0v1.0h-1.0zM91.8 220.4h1.0v1.0h-1.0zM95.7 224.2h1.0v1.0h-1.0zM93.7 223.4h1.0v1.0h-1.0zM93.1 224.6h1.0v1.0h-1.0zM97.6 221.2h1.0v1.0h-1.0zM78.1 221.1h1.0v1.0h-1.0zM93.7 228.5h1.0v1.0h-1.0zM80.9 222.4h1.0v1.0h-1.0zM79.8 222.0h1.0v1.0h-1.0zM86.1 220.6h1.0v1.0h-1.0zM82.9 224.2h1.0v1.0h-1.0zM85.3 225.6h1.0v1.0h-1.0zM89.8 224.6h1.0v1.0h-1.0zM91.6 226.0h1.0v1.0h-1.0zM94.3 224.7h1.0v1.0h-1.0zM91.9 226.1h1.0v1.0h-1.0zM97.6 222.0h1.0v1.0h-1.0zM88.0 226.0h1.0v1.0h-1.0zM81.9 224.0h1.0v1.0h-1.0zM80.9 224.9h1.0v1.0h-1.0zM87.8 223.3h1.0v1.0h-1.0zM98.5 220.5h1.0v1.0h-1.0zM92.5 223.6h1.0v1.0h-1.0zM92.6 220.8h1.0v1.0h-1.0zM83.6 224.2h1.0v1.0h-1.0zM90.7 221.6h1.0v1.0h-1.0zM85.0 227.2h1.0v1.0h-1.0zM96.9 220.9h1.0v1.0h-1.0zM82.0 222.7h1.0v1.0h-1.0zM80.9 221.2h1.0v1.0h-1.0zM93.3 221.7h1.0v1.0h-1.0zM96.9 223.5h1.0v1.0h-1.0zM84.4 221.1h1.0v1.0h-1.0zM84.3 223.1h1.0v1.0h-1.0zM88.8 224.4h1.0v1.0h-1.0zM87.7 220.2h1.0v1.0h-1.0zM87.5 220.7h1.0v1.0h-1.0zM96.8 221.6h1.0v1.0h-1.0zM92.8 221.5h1.0v1.0h-1.0zM86.2 224.9h1.0v1.0h-1.0zM80.7 221.0h1.0v1.0h-1.0zM80.5 222.5h1.0v1.0h-1.0zM79.2 221.0h1.0v1.0h-1.0zM82.0 225.3h1.0v1.0h-1.0zM89.0 223.4h1.0v1.0h-1.0zM91.3 224.1h1.0v1.0h-1.0zM87.6 222.2h1.0v1.0h-1.0zM83.1 222.8h1.0v1.0h-1.0zM79.8 220.0h1.0v1.0h-1.0zM96.3 222.7h1.0v1.0h-1.0zM78.8 224.5h1.0v1.0h-1.0zM89.0 220.9h1.0v1.0h-1.0zM84.7 224.1h1.0v1.0h-1.0zM85.9 223.9h1.0v1.0h-1.0zM78.6 221.3h1.0v1.0h-1.0zM79.7 220.9h1.0v1.0h-1.0zM86.5 228.0h1.0v1.0h-1.0zM90.4 224.7h1.0v1.0h-1.0zM81.5 220.2h1.0v1.0h-1.0zM98.3 221.0h1.0v1.0h-1.0zM85.5 225.7h1.0v1.0h-1.0zM92.1 226.7h1.0v1.0h-1.0zM80.7 224.3h1.0v1.0h-1.0zM89.4 222.3h1.0v1.0h-1.0zM93.9 221.0h1.0v1.0h-1.0zM86.4 220.3h1.0v1.0h-1.0zM94.7 222.9h1.0v1.0h-1.0zM92.9 227.0h1.0v1.0h-1.0zM94.4 223.3h1.0v1.0h-1.0zM80.2 220.6h1.0v1.0h-1.0zM87.3 225.5h1.0v1.0h-1.0zM80.1 222.1h1.0v1.0h-1.0zM80.6 220.6h1.0v1.0h-1.0zM95.7 220.7h1.0v1.0h-1.0zM96.9 223.7h1.0v1.0h-1.0zM88.5 225.4h1.0v1.0h-1.0zM80.4 222.3h1.0v1.0h-1.0zM89.8 221.2h1.0v1.0h-1.0zM91.7 225.4h1.0v1.0h-1.0zM91.7 223.5h1.0v1.0h-1.0zM89.4 220.8h1.0v1.0h-1.0zM92.3 226.4h1.0v1.0h-1.0zM87.6 225.7h1.0v1.0h-1.0zM78.4 220.9h1.0v1.0h-1.0zM89.7 221.1h1.0v1.0h-1.0zM95.4 222.8h1.0v1.0h-1.0zM80.9 222.7h1.0v1.0h-1.0zM94.6 220.2h1.0v1.0h-1.0zM94.2 220.9h1.0v1.0h-1.0zM93.0 226.9h1.0v1.0h-1.0zM86.1 222.5h1.0v1.0h-1.0zM88.3 222.6h1.0v1.0h-1.0zM88.8 220.7h1.0v1.0h-1.0zM97.3 220.6h1.0v1.0h-1.0zM84.4 221.7h1.0v1.0h-1.0zM91.6 224.4h1.0v1.0h-1.0zM82.3 223.1h1.0v1.0h-1.0zM87.6 225.1h1.0v1.0h-1.0zM80.9 224.5h1.0v1.0h-1.0zM96.2 220.6h1.0v1.0h-1.0zM84.1 223.2h1.0v1.0h-1.0zM96.6 223.6h1.0v1.0h-1.0zM83.7 222.0h1.0v1.0h-1.0zM91.9 221.0h1.0v1.0h-1.0zM84.0 227.0h1.0v1.0h-1.0zM89.9 225.8h1.0v1.0h-1.0zM81.2 220.7h1.0v1.0h-1.0zM97.7 220.8h1.0v1.0h-1.0zM82.3 223.8h1.0v1.0h-1.0zM79.3 226.8h1.0v1.0h-1.0zM97.3 221.4h1.0v1.0h-1.0zM84.6 226.5h1.0v1.0h-1.0zM81.8 222.8h1.0v1.0h-1.0zM85.5 223.0h1.0v1.0h-1.0zM82.6 220.1h1.0v1.0h-1.0zM92.4 221.4h1.0v1.0h-1.0zM89.6 220.6h1.0v1.0h-1.0zM91.4 220.7h1.0v1.0h-1.0zM94.4 220.7h1.0v1.0h-1.0zM94.2 223.8h1.0v1.0h-1.0zM79.7 224.4h1.0v1.0h-1.0zM85.1 220.8h1.0v1.0h-1.0zM85.8 220.5h1.0v1.0h-1.0zM86.7 231.7h1.0v1.0h-1.0zM83.9 224.0h1.0v1.0h-1.0zM82.8 224.4h1.0v1.0h-1.0zM82.8 220.9h1.0v1.0h-1.0zM79.4 225.0h1.0v1.0h-1.0zM84.5 222.2h1.0v1.0h-1.0zM84.3 221.5h1.0v1.0h-1.0zM93.6 225.6h1.0v1.0h-1.0zM78.9 221.9h1.0v1.0h-1.0zM87.9 223.3h1.0v1.0h-1.0zM94.8 225.2h1.0v1.0h-1.0zM85.9 221.3h1.0v1.0h-1.0zM88.9 220.5h1.0v1.0h-1.0zM95.7 220.5h1.0v1.0h-1.0zM79.5 222.8h1.0v1.0h-1.0zM81.8 221.5h1.0v1.0h-1.0zM85.5 221.5h1.0v1.0h-1.0zM81.2 225.4h1.0v1.0h-1.0zM97.1 220.8h1.0v1.0h-1.0z" fill="#0d0d0d" fill-opacity="0.92"/>
<path d="M83.7 188.9h1.0v1.0h-1.0zM92.8 195.4h1.0v1.0h-1.0zM89.2 195.4h1.0v1.0h-1.0zM80.2 194.4h1.0v1.0h-1.0zM82.5 194.9h1.0v1.0h-1.0zM82.4 192.5h1.0v1.0h-1.0zM87.1 191.4h1.0v1.0h-1.0zM86.1 193.2h1.0v1.0h-1.0zM80.0 195.3h1.0v1.0h-1.0zM87.4 194.4h1.0v1.0h-1.0zM91.5 190.3h1.0v1.0h-1.0zM97.9 189.4h1.0v1.0h-1.0zM85.0 190.4h1.0v1.0h-1.0zM95.5 195.0h1.0v1.0h-1.0zM87.1 188.1h1.0v1.0h-1.0zM77.8 195.6h1.0v1.0h-1.0z" fill="#222" fill-opacity="0.85"/>
</g>
<clipPath id="d132"><rect x="132.5" y="149.5" width="83.30000000000001" height="82.5"/></clipPath><g clip-path="url(#d132)">
<path d="M157.2 201.0 L157.0 201.4 L156.7 201.7 L156.4 202.0 L156.0 202.3 L155.5 202.6 L155.0 202.8 L154.3 202.9 L153.7 203.1 L153.0 203.2 L152.4 203.4 L151.8 203.6 L151.0 203.9 L150.1 204.0 L149.2 204.1 L148.3 203.9 L147.6 203.7 L147.1 203.3 L146.8 202.9 L146.7 202.5 L146.5 202.2 L146.2 201.9 L145.9 201.6 L145.5 201.3 L145.2 201.0 L145.1 200.6 L145.1 200.3 L145.3 199.9 L145.6 199.6 L146.0 199.3 L146.5 199.0 L147.0 198.7 L147.7 198.4 L148.5 198.2 L149.3 198.2 L150.2 198.3 L151.0 198.5 L151.7 198.7 L152.3 198.8 L152.9 198.9 L153.6 199.0 L154.4 199.0 L155.3 199.1 L156.2 199.2 L156.9 199.5 L157.3 199.8 L157.5 200.2 L157.4 200.6Z" fill="none" stroke="#d4d4d4" stroke-width="0.7"/>
<path d="M161.9 201.0 L161.9 201.6 L161.3 202.2 L160.4 202.8 L159.4 203.2 L158.4 203.5 L157.4 203.9 L156.5 204.2 L155.5 204.5 L154.4 204.7 L153.3 204.9 L152.1 204.9 L151.0 204.9 L149.9 204.9 L148.7 204.9 L147.3 205.0 L145.9 205.0 L144.4 204.8 L143.1 204.5 L142.2 204.0 L141.8 203.4 L141.8 202.7 L142.2 202.1 L142.6 201.5 L142.9 201.0 L143.0 200.5 L143.0 200.0 L142.9 199.5 L142.9 198.9 L143.3 198.3 L144.0 197.8 L144.9 197.4 L146.0 197.1 L147.2 196.8 L148.4 196.6 L149.7 196.4 L151.0 196.3 L152.3 196.4 L153.6 196.7 L154.6 197.1 L155.4 197.6 L156.0 198.1 L156.6 198.5 L157.3 198.8 L158.2 199.1 L159.4 199.4 L160.5 199.9 L161.5 200.4Z" fill="none" stroke="#d4d4d4" stroke-width="0.7"/>
<path d="M165.7 201.0 L165.1 201.8 L164.1 202.6 L163.0 203.2 L162.0 203.8 L160.9 204.4 L159.8 205.0 L158.5 205.4 L157.1 205.8 L155.6 206.0 L154.0 206.1 L152.5 206.2 L151.0 206.4 L149.3 206.7 L147.5 206.9 L145.5 207.0 L143.4 206.9 L141.7 206.5 L140.5 205.7 L139.8 204.9 L139.8 203.9 L139.9 203.1 L140.1 202.3 L140.1 201.6 L139.7 201.0 L139.3 200.3 L139.0 199.6 L139.0 198.8 L139.4 198.0 L140.3 197.3 L141.4 196.7 L142.7 196.1 L144.1 195.6 L145.6 195.2 L147.3 194.8 L149.1 194.6 L151.0 194.7 L152.7 195.1 L154.2 195.6 L155.4 196.2 L156.4 196.8 L157.5 197.2 L158.8 197.5 L160.5 197.7 L162.3 198.1 L164.0 198.6 L165.2 199.3 L165.8 200.1Z" fill="none" stroke="#d4d4d4" stroke-width="0.7"/>
<path d="M165.0 201.0 L165.0 201.8 L165.3 202.7 L165.8 203.8 L166.0 204.9 L165.7 206.1 L164.6 207.1 L162.8 207.9 L160.3 208.3 L157.8 208.3 L155.3 208.2 L153.0 208.0 L151.0 207.8 L149.0 207.7 L147.1 207.6 L145.1 207.4 L143.2 207.1 L141.4 206.6 L139.9 206.0 L138.4 205.4 L136.9 204.7 L135.4 203.9 L133.9 203.1 L132.6 202.1 L132.0 201.0 L132.2 199.9 L133.4 198.9 L135.3 198.1 L137.5 197.5 L139.6 197.0 L141.3 196.6 L142.7 196.1 L143.8 195.4 L145.1 194.6 L146.7 193.8 L148.7 193.2 L151.0 192.9 L153.4 192.9 L155.6 193.2 L157.7 193.7 L159.7 194.2 L161.5 194.8 L163.2 195.5 L164.6 196.3 L165.5 197.2 L165.9 198.2 L165.7 199.2 L165.3 200.1Z" fill="none" stroke="#d4d4d4" stroke-width="0.7"/>
<path d="M168.3 201.0 L167.8 202.0 L167.7 203.0 L168.0 204.2 L168.2 205.5 L168.1 206.9 L167.2 208.3 L165.3 209.4 L162.6 210.1 L159.5 210.3 L156.4 210.1 L153.6 209.7 L151.0 209.4 L148.6 209.1 L146.3 208.9 L144.0 208.6 L141.6 208.3 L139.4 207.8 L137.5 207.1 L135.7 206.3 L134.2 205.4 L132.5 204.4 L130.9 203.4 L129.4 202.3 L128.3 201.0 L128.2 199.6 L129.1 198.4 L131.0 197.3 L133.6 196.5 L136.4 196.0 L138.9 195.6 L141.0 195.1 L142.6 194.5 L144.2 193.6 L146.1 192.7 L148.3 191.9 L151.0 191.4 L153.9 191.2 L156.7 191.5 L159.3 192.0 L161.6 192.7 L163.8 193.5 L165.7 194.4 L167.5 195.3 L168.8 196.4 L169.5 197.6 L169.5 198.8 L169.0 199.9Z" fill="none" stroke="#d4d4d4" stroke-width="0.7"/>
<path d="M153.3 222.0 L153.1 222.2 L153.0 222.5 L152.9 222.7 L152.9 223.0 L152.9 223.3 L152.7 223.6 L152.4 223.9 L151.8 224.1 L151.1 224.2 L150.4 224.2 L149.6 224.1 L149.0 224.0 L148.4 223.9 L147.9 223.8 L147.3 223.8 L146.8 223.7 L146.2 223.6 L145.8 223.4 L145.3 223.2 L145.0 223.0 L144.6 222.8 L144.3 222.6 L144.0 222.3 L143.7 222.0 L143.6 221.7 L143.7 221.4 L144.0 221.1 L144.6 220.9 L145.3 220.8 L146.0 220.7 L146.5 220.6 L147.0 220.5 L147.4 220.4 L147.9 220.2 L148.4 220.0 L149.0 219.8 L149.7 219.7 L150.4 219.8 L151.0 219.9 L151.6 220.0 L152.1 220.2 L152.5 220.5 L152.9 220.7 L153.3 220.9 L153.5 221.2 L153.6 221.5 L153.5 221.7Z" fill="none" stroke="#d4d4d4" stroke-width="0.7"/>
<path d="M157.5 222.0 L157.2 222.5 L156.7 222.9 L156.1 223.3 L155.4 223.6 L154.9 224.0 L154.4 224.4 L154.0 224.8 L153.4 225.3 L152.6 225.8 L151.6 226.2 L150.3 226.4 L149.0 226.3 L147.8 226.0 L146.8 225.6 L145.9 225.2 L145.2 224.9 L144.4 224.6 L143.6 224.4 L142.8 224.1 L142.0 223.8 L141.3 223.4 L140.9 223.0 L140.6 222.5 L140.4 222.0 L140.3 221.5 L140.3 221.0 L140.3 220.4 L140.7 219.9 L141.3 219.4 L142.3 219.1 L143.6 218.9 L144.9 218.9 L146.1 218.9 L147.2 219.0 L148.1 219.0 L149.0 218.8 L150.0 218.6 L151.2 218.4 L152.5 218.3 L153.7 218.4 L154.8 218.7 L155.7 219.1 L156.3 219.5 L156.8 220.0 L157.1 220.5 L157.4 221.0 L157.5 221.5Z" fill="none" stroke="#d4d4d4" stroke-width="0.7"/>
<path d="M160.0 222.0 L160.8 222.7 L161.5 223.5 L161.8 224.3 L161.4 225.1 L160.3 225.8 L158.8 226.3 L157.0 226.5 L155.2 226.7 L153.5 226.7 L151.9 226.8 L150.5 226.9 L149.0 227.0 L147.5 227.0 L146.0 226.9 L144.6 226.7 L143.2 226.4 L141.9 226.0 L140.5 225.7 L139.1 225.3 L137.5 224.9 L136.2 224.3 L135.3 223.6 L135.0 222.8 L135.4 222.0 L136.5 221.3 L137.8 220.7 L139.1 220.2 L140.1 219.8 L140.9 219.3 L141.4 218.7 L142.0 218.0 L142.9 217.4 L144.1 216.8 L145.6 216.4 L147.3 216.3 L149.0 216.2 L150.7 216.3 L152.4 216.5 L154.0 216.7 L155.5 217.1 L156.9 217.5 L157.9 218.1 L158.5 218.8 L158.8 219.5 L158.9 220.2 L159.0 220.8 L159.3 221.4Z" fill="none" stroke="#d4d4d4" stroke-width="0.7"/>
<path d="M167.1 222.0 L166.3 223.0 L165.1 223.9 L163.8 224.7 L162.5 225.4 L161.2 226.1 L159.8 226.7 L158.3 227.3 L156.5 227.7 L154.6 228.0 L152.7 228.1 L150.9 228.3 L149.0 228.5 L147.0 228.8 L144.7 229.1 L142.2 229.2 L139.7 229.0 L137.6 228.5 L136.0 227.7 L135.3 226.6 L135.2 225.5 L135.4 224.5 L135.6 223.6 L135.5 222.8 L135.1 222.0 L134.6 221.2 L134.2 220.3 L134.2 219.3 L134.8 218.4 L135.8 217.6 L137.2 216.8 L138.8 216.2 L140.5 215.6 L142.4 215.0 L144.5 214.6 L146.7 214.4 L149.0 214.5 L151.1 214.9 L153.0 215.5 L154.4 216.3 L155.7 216.9 L157.0 217.4 L158.7 217.8 L160.6 218.1 L162.9 218.5 L165.0 219.1 L166.5 219.9 L167.3 220.9Z" fill="none" stroke="#d4d4d4" stroke-width="0.7"/>
<path d="M160.7 180.8h1.0v1.0h-1.0zM165.7 170.9h1.0v1.0h-1.0zM162.3 174.1h1.0v1.0h-1.0zM145.6 185.4h1.0v1.0h-1.0zM154.1 187.0h1.0v1.0h-1.0zM137.5 179.7h1.0v1.0h-1.0zM146.6 176.0h1.0v1.0h-1.0zM153.8 171.0h1.0v1.0h-1.0zM138.5 171.9h1.0v1.0h-1.0zM165.6 177.2h1.0v1.0h-1.0zM148.5 181.3h1.0v1.0h-1.0zM151.9 179.5h1.0v1.0h-1.0zM159.1 180.2h1.0v1.0h-1.0zM160.5 169.7h1.0v1.0h-1.0zM152.5 175.5h1.0v1.0h-1.0zM152.9 177.6h1.0v1.0h-1.0zM145.6 175.5h1.0v1.0h-1.0zM161.2 174.1h1.0v1.0h-1.0zM139.7 182.0h1.0v1.0h-1.0zM161.4 176.1h1.0v1.0h-1.0zM153.2 172.2h1.0v1.0h-1.0zM149.9 185.5h1.0v1.0h-1.0zM159.8 179.0h1.0v1.0h-1.0zM149.2 166.8h1.0v1.0h-1.0zM155.0 181.1h1.0v1.0h-1.0zM162.3 191.8h1.0v1.0h-1.0zM155.7 184.5h1.0v1.0h-1.0zM141.0 186.2h1.0v1.0h-1.0zM160.5 187.3h1.0v1.0h-1.0zM158.6 181.1h1.0v1.0h-1.0zM166.5 173.5h1.0v1.0h-1.0zM158.3 185.4h1.0v1.0h-1.0zM144.3 170.1h1.0v1.0h-1.0zM156.3 178.9h1.0v1.0h-1.0zM158.0 182.4h1.0v1.0h-1.0zM144.6 180.4h1.0v1.0h-1.0zM163.1 175.6h1.0v1.0h-1.0zM149.3 170.4h1.0v1.0h-1.0zM160.1 191.4h1.0v1.0h-1.0zM138.7 183.3h1.0v1.0h-1.0zM160.9 174.3h1.0v1.0h-1.0zM148.5 171.0h1.0v1.0h-1.0zM144.5 179.2h1.0v1.0h-1.0zM158.5 178.9h1.0v1.0h-1.0zM160.5 179.5h1.0v1.0h-1.0zM140.8 188.0h1.0v1.0h-1.0zM163.7 173.3h1.0v1.0h-1.0zM153.5 191.2h1.0v1.0h-1.0zM159.1 176.5h1.0v1.0h-1.0zM143.0 188.4h1.0v1.0h-1.0zM157.0 169.4h1.0v1.0h-1.0zM145.8 183.9h1.0v1.0h-1.0zM154.7 175.6h1.0v1.0h-1.0zM135.2 177.0h1.0v1.0h-1.0zM136.6 174.5h1.0v1.0h-1.0zM168.0 181.7h1.0v1.0h-1.0zM159.9 182.3h1.0v1.0h-1.0zM155.7 184.8h1.0v1.0h-1.0zM140.9 175.8h1.0v1.0h-1.0zM160.6 173.2h1.0v1.0h-1.0zM148.0 186.5h1.0v1.0h-1.0zM167.3 174.1h1.0v1.0h-1.0zM144.4 182.2h1.0v1.0h-1.0zM155.0 173.7h1.0v1.0h-1.0zM158.2 182.0h1.0v1.0h-1.0zM165.6 183.8h1.0v1.0h-1.0zM163.1 173.4h1.0v1.0h-1.0zM155.5 178.8h1.0v1.0h-1.0zM146.9 180.1h1.0v1.0h-1.0zM154.9 177.9h1.0v1.0h-1.0zM147.7 184.0h1.0v1.0h-1.0zM136.8 183.9h1.0v1.0h-1.0zM152.5 180.2h1.0v1.0h-1.0zM135.5 172.4h1.0v1.0h-1.0zM158.7 174.1h1.0v1.0h-1.0zM148.4 163.0h1.0v1.0h-1.0zM148.2 179.8h1.0v1.0h-1.0zM159.1 176.3h1.0v1.0h-1.0zM154.6 181.3h1.0v1.0h-1.0zM145.8 173.2h1.0v1.0h-1.0zM164.5 178.8h1.0v1.0h-1.0zM166.9 173.9h1.0v1.0h-1.0zM157.5 180.6h1.0v1.0h-1.0zM150.2 180.4h1.0v1.0h-1.0zM144.9 177.8h1.0v1.0h-1.0zM148.5 183.5h1.0v1.0h-1.0zM151.6 168.8h1.0v1.0h-1.0zM148.8 177.6h1.0v1.0h-1.0zM143.6 187.4h1.0v1.0h-1.0zM156.4 184.1h1.0v1.0h-1.0zM145.0 175.6h1.0v1.0h-1.0zM162.3 168.5h1.0v1.0h-1.0zM156.1 178.9h1.0v1.0h-1.0zM147.5 178.9h1.0v1.0h-1.0zM141.9 179.9h1.0v1.0h-1.0zM140.5 169.6h1.0v1.0h-1.0zM166.2 173.5h1.0v1.0h-1.0zM151.9 184.7h1.0v1.0h-1.0zM155.9 190.1h1.0v1.0h-1.0zM151.2 182.4h1.0v1.0h-1.0zM142.6 179.4h1.0v1.0h-1.0zM167.5 181.8h1.0v1.0h-1.0zM154.1 164.7h1.0v1.0h-1.0zM148.8 169.5h1.0v1.0h-1.0zM160.1 173.2h1.0v1.0h-1.0zM156.0 171.4h1.0v1.0h-1.0zM154.6 172.3h1.0v1.0h-1.0zM158.5 185.2h1.0v1.0h-1.0zM161.0 164.8h1.0v1.0h-1.0zM154.6 163.7h1.0v1.0h-1.0zM147.9 183.0h1.0v1.0h-1.0zM157.3 170.2h1.0v1.0h-1.0zM168.5 176.7h1.0v1.0h-1.0zM135.1 188.0h1.0v1.0h-1.0zM167.6 187.0h1.0v1.0h-1.0zM157.9 172.2h1.0v1.0h-1.0zM161.7 191.2h1.0v1.0h-1.0zM160.5 189.4h1.0v1.0h-1.0zM144.8 185.4h1.0v1.0h-1.0zM161.8 168.0h1.0v1.0h-1.0zM136.4 173.4h1.0v1.0h-1.0zM153.3 181.5h1.0v1.0h-1.0zM150.3 177.9h1.0v1.0h-1.0zM151.4 179.0h1.0v1.0h-1.0zM158.3 181.8h1.0v1.0h-1.0zM152.0 180.2h1.0v1.0h-1.0zM148.1 183.9h1.0v1.0h-1.0zM147.5 189.8h1.0v1.0h-1.0zM152.3 180.3h1.0v1.0h-1.0zM145.0 176.0h1.0v1.0h-1.0zM154.2 178.5h1.0v1.0h-1.0zM146.4 170.3h1.0v1.0h-1.0zM152.9 179.4h1.0v1.0h-1.0zM158.0 187.0h1.0v1.0h-1.0zM149.4 164.5h1.0v1.0h-1.0zM151.1 165.5h1.0v1.0h-1.0zM139.8 185.5h1.0v1.0h-1.0zM158.2 173.9h1.0v1.0h-1.0zM146.2 177.8h1.0v1.0h-1.0zM135.1 181.7h1.0v1.0h-1.0zM149.1 191.2h1.0v1.0h-1.0zM142.0 185.4h1.0v1.0h-1.0zM145.8 185.5h1.0v1.0h-1.0zM142.8 183.5h1.0v1.0h-1.0zM148.2 172.6h1.0v1.0h-1.0zM151.1 181.7h1.0v1.0h-1.0zM156.6 189.4h1.0v1.0h-1.0zM160.7 160.0h1.0v1.0h-1.0zM148.6 164.5h1.0v1.0h-1.0zM148.7 182.7h1.0v1.0h-1.0zM139.2 170.2h1.0v1.0h-1.0zM154.0 176.4h1.0v1.0h-1.0zM168.3 180.6h1.0v1.0h-1.0zM157.9 190.6h1.0v1.0h-1.0zM147.6 178.4h1.0v1.0h-1.0zM142.7 180.2h1.0v1.0h-1.0zM162.9 187.9h1.0v1.0h-1.0zM152.2 173.4h1.0v1.0h-1.0zM144.9 168.7h1.0v1.0h-1.0zM153.8 187.9h1.0v1.0h-1.0zM166.6 167.2h1.0v1.0h-1.0zM155.9 169.6h1.0v1.0h-1.0zM160.4 183.9h1.0v1.0h-1.0zM154.3 184.2h1.0v1.0h-1.0zM153.1 182.4h1.0v1.0h-1.0zM146.1 172.8h1.0v1.0h-1.0zM150.3 176.8h1.0v1.0h-1.0zM153.4 174.2h1.0v1.0h-1.0zM159.2 178.7h1.0v1.0h-1.0zM156.3 178.5h1.0v1.0h-1.0zM158.8 170.1h1.0v1.0h-1.0zM168.5 180.9h1.0v1.0h-1.0zM157.2 182.8h1.0v1.0h-1.0zM163.5 183.6h1.0v1.0h-1.0zM155.1 177.2h1.0v1.0h-1.0zM136.3 180.0h1.0v1.0h-1.0zM149.6 176.3h1.0v1.0h-1.0zM153.3 187.0h1.0v1.0h-1.0zM162.3 187.2h1.0v1.0h-1.0zM140.1 171.8h1.0v1.0h-1.0zM158.9 176.5h1.0v1.0h-1.0zM154.7 181.6h1.0v1.0h-1.0zM150.1 179.4h1.0v1.0h-1.0zM146.1 178.3h1.0v1.0h-1.0zM148.0 180.4h1.0v1.0h-1.0zM138.7 168.1h1.0v1.0h-1.0zM157.4 180.2h1.0v1.0h-1.0zM143.2 177.0h1.0v1.0h-1.0zM142.4 192.9h1.0v1.0h-1.0zM137.2 190.6h1.0v1.0h-1.0zM144.6 181.5h1.0v1.0h-1.0zM150.2 175.9h1.0v1.0h-1.0zM162.2 184.3h1.0v1.0h-1.0zM150.0 172.2h1.0v1.0h-1.0zM154.3 176.5h1.0v1.0h-1.0zM155.8 179.2h1.0v1.0h-1.0zM164.8 171.9h1.0v1.0h-1.0zM153.1 173.1h1.0v1.0h-1.0zM166.0 191.2h1.0v1.0h-1.0zM152.0 182.4h1.0v1.0h-1.0zM167.0 176.5h1.0v1.0h-1.0zM143.6 185.9h1.0v1.0h-1.0zM158.0 177.2h1.0v1.0h-1.0zM167.5 180.3h1.0v1.0h-1.0zM135.1 181.1h1.0v1.0h-1.0zM152.3 191.8h1.0v1.0h-1.0zM152.7 177.2h1.0v1.0h-1.0zM157.3 180.4h1.0v1.0h-1.0zM138.8 179.5h1.0v1.0h-1.0zM149.6 188.5h1.0v1.0h-1.0zM143.3 172.7h1.0v1.0h-1.0zM146.4 173.8h1.0v1.0h-1.0zM153.5 186.3h1.0v1.0h-1.0zM139.9 167.9h1.0v1.0h-1.0zM166.2 167.9h1.0v1.0h-1.0zM136.6 179.6h1.0v1.0h-1.0zM163.9 185.8h1.0v1.0h-1.0zM154.9 183.4h1.0v1.0h-1.0zM156.2 174.8h1.0v1.0h-1.0zM141.8 175.4h1.0v1.0h-1.0zM137.5 178.8h1.0v1.0h-1.0zM163.9 169.8h1.0v1.0h-1.0zM164.2 193.3h1.0v1.0h-1.0zM156.7 170.6h1.0v1.0h-1.0zM144.4 176.3h1.0v1.0h-1.0zM140.1 169.9h1.0v1.0h-1.0zM150.3 177.4h1.0v1.0h-1.0zM159.0 170.3h1.0v1.0h-1.0zM161.9 174.1h1.0v1.0h-1.0zM144.0 175.5h1.0v1.0h-1.0zM151.4 180.1h1.0v1.0h-1.0zM154.9 173.3h1.0v1.0h-1.0zM150.9 174.0h1.0v1.0h-1.0zM148.7 181.9h1.0v1.0h-1.0zM143.4 183.8h1.0v1.0h-1.0zM154.1 184.0h1.0v1.0h-1.0zM161.9 187.4h1.0v1.0h-1.0zM159.2 183.6h1.0v1.0h-1.0zM151.2 182.7h1.0v1.0h-1.0zM143.9 176.9h1.0v1.0h-1.0zM160.5 178.3h1.0v1.0h-1.0zM157.4 171.3h1.0v1.0h-1.0zM166.7 174.6h1.0v1.0h-1.0zM156.9 178.5h1.0v1.0h-1.0zM162.3 176.0h1.0v1.0h-1.0zM142.9 165.4h1.0v1.0h-1.0zM149.9 170.3h1.0v1.0h-1.0zM158.3 188.8h1.0v1.0h-1.0zM156.0 187.3h1.0v1.0h-1.0zM156.0 180.9h1.0v1.0h-1.0zM158.0 182.7h1.0v1.0h-1.0zM140.5 175.3h1.0v1.0h-1.0zM155.1 173.0h1.0v1.0h-1.0zM150.3 175.0h1.0v1.0h-1.0zM145.9 183.5h1.0v1.0h-1.0zM149.0 171.0h1.0v1.0h-1.0zM145.8 178.9h1.0v1.0h-1.0zM167.9 182.1h1.0v1.0h-1.0zM144.4 169.1h1.0v1.0h-1.0zM142.1 191.2h1.0v1.0h-1.0zM137.1 174.3h1.0v1.0h-1.0zM164.6 183.3h1.0v1.0h-1.0zM135.7 177.9h1.0v1.0h-1.0zM147.7 177.3h1.0v1.0h-1.0zM160.5 174.6h1.0v1.0h-1.0zM149.7 188.9h1.0v1.0h-1.0zM157.7 169.9h1.0v1.0h-1.0zM146.6 169.4h1.0v1.0h-1.0zM154.5 174.3h1.0v1.0h-1.0zM160.8 185.8h1.0v1.0h-1.0zM153.4 176.0h1.0v1.0h-1.0zM155.5 179.0h1.0v1.0h-1.0zM140.7 186.2h1.0v1.0h-1.0zM155.2 184.2h1.0v1.0h-1.0zM139.2 184.8h1.0v1.0h-1.0zM138.3 178.9h1.0v1.0h-1.0zM152.3 180.2h1.0v1.0h-1.0zM150.5 182.1h1.0v1.0h-1.0zM148.2 180.2h1.0v1.0h-1.0zM145.9 179.3h1.0v1.0h-1.0zM162.9 175.2h1.0v1.0h-1.0zM159.6 172.4h1.0v1.0h-1.0zM149.1 176.9h1.0v1.0h-1.0zM165.5 173.2h1.0v1.0h-1.0zM165.2 168.3h1.0v1.0h-1.0zM151.3 185.1h1.0v1.0h-1.0zM159.9 171.5h1.0v1.0h-1.0zM140.5 184.8h1.0v1.0h-1.0zM140.1 182.7h1.0v1.0h-1.0zM147.6 178.5h1.0v1.0h-1.0zM161.3 168.9h1.0v1.0h-1.0zM156.1 179.0h1.0v1.0h-1.0zM151.8 188.0h1.0v1.0h-1.0zM135.5 180.8h1.0v1.0h-1.0zM154.1 173.3h1.0v1.0h-1.0zM153.1 179.1h1.0v1.0h-1.0zM143.0 184.2h1.0v1.0h-1.0zM162.4 182.8h1.0v1.0h-1.0zM155.2 163.0h1.0v1.0h-1.0zM155.0 174.9h1.0v1.0h-1.0zM164.7 188.1h1.0v1.0h-1.0zM161.1 171.3h1.0v1.0h-1.0zM153.6 169.8h1.0v1.0h-1.0zM161.9 170.1h1.0v1.0h-1.0zM150.6 172.7h1.0v1.0h-1.0zM148.0 181.8h1.0v1.0h-1.0zM147.1 180.1h1.0v1.0h-1.0zM142.6 188.4h1.0v1.0h-1.0zM146.2 185.7h1.0v1.0h-1.0zM142.7 177.1h1.0v1.0h-1.0zM164.6 175.1h1.0v1.0h-1.0zM156.6 173.3h1.0v1.0h-1.0zM158.5 169.9h1.0v1.0h-1.0zM154.5 172.1h1.0v1.0h-1.0zM164.2 175.5h1.0v1.0h-1.0zM159.1 182.1h1.0v1.0h-1.0zM135.9 182.7h1.0v1.0h-1.0zM150.8 187.7h1.0v1.0h-1.0zM166.0 173.9h1.0v1.0h-1.0zM146.6 179.9h1.0v1.0h-1.0zM159.4 175.6h1.0v1.0h-1.0zM151.5 182.9h1.0v1.0h-1.0zM157.0 186.8h1.0v1.0h-1.0zM155.1 172.2h1.0v1.0h-1.0zM149.3 176.0h1.0v1.0h-1.0zM149.7 167.2h1.0v1.0h-1.0zM148.6 172.1h1.0v1.0h-1.0zM150.5 179.6h1.0v1.0h-1.0zM160.1 173.1h1.0v1.0h-1.0zM150.3 175.9h1.0v1.0h-1.0zM162.9 174.4h1.0v1.0h-1.0zM149.9 169.6h1.0v1.0h-1.0zM141.8 163.0h1.0v1.0h-1.0zM164.4 170.2h1.0v1.0h-1.0zM156.4 180.8h1.0v1.0h-1.0zM146.0 178.8h1.0v1.0h-1.0zM151.7 174.9h1.0v1.0h-1.0zM153.1 178.8h1.0v1.0h-1.0zM142.1 169.1h1.0v1.0h-1.0zM143.9 179.3h1.0v1.0h-1.0zM166.9 189.0h1.0v1.0h-1.0zM155.8 185.3h1.0v1.0h-1.0zM153.9 186.4h1.0v1.0h-1.0zM153.9 181.3h1.0v1.0h-1.0zM149.7 178.4h1.0v1.0h-1.0zM152.6 174.1h1.0v1.0h-1.0zM162.5 191.5h1.0v1.0h-1.0zM158.9 182.9h1.0v1.0h-1.0zM135.2 176.7h1.0v1.0h-1.0zM151.9 161.7h1.0v1.0h-1.0zM159.5 181.6h1.0v1.0h-1.0zM155.0 170.7h1.0v1.0h-1.0zM145.2 173.8h1.0v1.0h-1.0zM157.5 171.3h1.0v1.0h-1.0zM167.7 181.1h1.0v1.0h-1.0zM154.2 174.4h1.0v1.0h-1.0zM153.6 165.1h1.0v1.0h-1.0zM154.5 160.5h1.0v1.0h-1.0zM141.9 188.2h1.0v1.0h-1.0zM165.6 175.9h1.0v1.0h-1.0z" fill="#999" fill-opacity="0.45"/>
<path d="M141.5 227.1h1.0v1.0h-1.0zM151.0 223.3h1.0v1.0h-1.0zM158.0 216.7h1.0v1.0h-1.0zM159.7 211.2h1.0v1.0h-1.0zM166.7 214.1h1.0v1.0h-1.0zM144.9 218.8h1.0v1.0h-1.0zM159.0 226.1h1.0v1.0h-1.0zM155.2 225.0h1.0v1.0h-1.0zM156.3 221.8h1.0v1.0h-1.0zM149.0 221.5h1.0v1.0h-1.0zM153.7 221.0h1.0v1.0h-1.0zM141.0 214.4h1.0v1.0h-1.0zM160.8 215.1h1.0v1.0h-1.0zM148.5 224.5h1.0v1.0h-1.0zM168.0 219.0h1.0v1.0h-1.0zM153.2 228.2h1.0v1.0h-1.0zM150.9 218.4h1.0v1.0h-1.0zM153.4 217.2h1.0v1.0h-1.0zM160.4 225.5h1.0v1.0h-1.0zM145.9 219.9h1.0v1.0h-1.0zM136.0 221.8h1.0v1.0h-1.0zM160.4 227.4h1.0v1.0h-1.0zM157.4 226.5h1.0v1.0h-1.0zM145.2 219.7h1.0v1.0h-1.0zM163.9 224.5h1.0v1.0h-1.0zM143.0 224.8h1.0v1.0h-1.0zM160.0 225.8h1.0v1.0h-1.0zM152.4 219.4h1.0v1.0h-1.0zM155.5 231.0h1.0v1.0h-1.0zM152.8 218.7h1.0v1.0h-1.0zM154.8 215.7h1.0v1.0h-1.0zM153.7 220.6h1.0v1.0h-1.0zM161.3 222.7h1.0v1.0h-1.0zM149.0 217.8h1.0v1.0h-1.0zM156.0 221.7h1.0v1.0h-1.0zM152.7 219.0h1.0v1.0h-1.0zM157.0 222.5h1.0v1.0h-1.0zM154.7 228.3h1.0v1.0h-1.0zM145.2 217.9h1.0v1.0h-1.0zM163.2 218.9h1.0v1.0h-1.0zM152.3 224.6h1.0v1.0h-1.0zM158.9 222.2h1.0v1.0h-1.0zM139.7 227.4h1.0v1.0h-1.0zM146.7 219.4h1.0v1.0h-1.0zM140.2 219.6h1.0v1.0h-1.0zM148.7 218.2h1.0v1.0h-1.0zM159.3 223.4h1.0v1.0h-1.0zM147.0 223.2h1.0v1.0h-1.0zM157.8 216.7h1.0v1.0h-1.0zM147.8 219.2h1.0v1.0h-1.0zM158.4 223.5h1.0v1.0h-1.0zM137.7 218.9h1.0v1.0h-1.0zM152.8 218.8h1.0v1.0h-1.0zM164.1 221.8h1.0v1.0h-1.0zM146.7 216.0h1.0v1.0h-1.0zM148.6 226.4h1.0v1.0h-1.0zM158.1 215.2h1.0v1.0h-1.0zM167.3 220.8h1.0v1.0h-1.0zM140.2 222.7h1.0v1.0h-1.0zM144.7 219.1h1.0v1.0h-1.0zM144.6 221.6h1.0v1.0h-1.0zM146.0 213.2h1.0v1.0h-1.0zM156.5 219.4h1.0v1.0h-1.0zM163.5 224.8h1.0v1.0h-1.0zM157.5 223.0h1.0v1.0h-1.0zM164.5 220.4h1.0v1.0h-1.0zM140.8 223.8h1.0v1.0h-1.0zM153.3 219.9h1.0v1.0h-1.0zM164.1 225.7h1.0v1.0h-1.0zM152.3 220.0h1.0v1.0h-1.0zM162.4 218.5h1.0v1.0h-1.0zM146.8 225.9h1.0v1.0h-1.0zM148.9 212.3h1.0v1.0h-1.0zM157.9 228.5h1.0v1.0h-1.0zM149.4 230.1h1.0v1.0h-1.0zM146.1 215.6h1.0v1.0h-1.0zM156.7 225.7h1.0v1.0h-1.0zM157.3 215.7h1.0v1.0h-1.0zM143.2 214.6h1.0v1.0h-1.0zM155.4 225.2h1.0v1.0h-1.0zM150.8 218.6h1.0v1.0h-1.0zM150.9 225.0h1.0v1.0h-1.0zM148.0 222.3h1.0v1.0h-1.0zM147.9 219.3h1.0v1.0h-1.0zM151.4 216.3h1.0v1.0h-1.0zM161.9 214.0h1.0v1.0h-1.0zM155.8 215.0h1.0v1.0h-1.0zM166.6 226.5h1.0v1.0h-1.0zM142.6 219.7h1.0v1.0h-1.0zM139.4 221.7h1.0v1.0h-1.0zM136.9 228.4h1.0v1.0h-1.0zM145.0 223.4h1.0v1.0h-1.0zM160.1 224.8h1.0v1.0h-1.0zM155.4 221.0h1.0v1.0h-1.0zM150.9 222.8h1.0v1.0h-1.0zM163.3 214.4h1.0v1.0h-1.0zM145.9 215.6h1.0v1.0h-1.0zM141.1 217.9h1.0v1.0h-1.0zM164.9 215.9h1.0v1.0h-1.0zM151.8 216.2h1.0v1.0h-1.0zM155.6 228.5h1.0v1.0h-1.0zM157.0 226.5h1.0v1.0h-1.0zM149.5 211.9h1.0v1.0h-1.0zM156.9 228.5h1.0v1.0h-1.0zM147.4 222.4h1.0v1.0h-1.0zM153.6 227.5h1.0v1.0h-1.0zM150.3 216.4h1.0v1.0h-1.0zM162.1 224.1h1.0v1.0h-1.0zM154.9 215.5h1.0v1.0h-1.0zM150.9 213.2h1.0v1.0h-1.0zM146.5 224.9h1.0v1.0h-1.0zM165.8 221.8h1.0v1.0h-1.0zM158.8 215.5h1.0v1.0h-1.0zM152.3 220.4h1.0v1.0h-1.0zM148.8 225.0h1.0v1.0h-1.0zM142.7 222.6h1.0v1.0h-1.0zM155.0 220.1h1.0v1.0h-1.0zM147.2 216.1h1.0v1.0h-1.0zM156.6 218.5h1.0v1.0h-1.0zM155.6 214.7h1.0v1.0h-1.0zM165.0 216.8h1.0v1.0h-1.0zM162.9 219.7h1.0v1.0h-1.0zM156.6 221.3h1.0v1.0h-1.0zM158.0 222.0h1.0v1.0h-1.0zM164.0 225.4h1.0v1.0h-1.0zM158.0 230.6h1.0v1.0h-1.0zM143.8 228.7h1.0v1.0h-1.0zM151.7 214.4h1.0v1.0h-1.0zM155.9 221.0h1.0v1.0h-1.0zM168.3 219.5h1.0v1.0h-1.0zM151.5 223.2h1.0v1.0h-1.0zM140.8 229.2h1.0v1.0h-1.0zM168.1 222.0h1.0v1.0h-1.0zM152.8 225.7h1.0v1.0h-1.0zM148.0 215.9h1.0v1.0h-1.0zM149.5 217.3h1.0v1.0h-1.0zM144.3 221.8h1.0v1.0h-1.0zM138.3 219.7h1.0v1.0h-1.0zM149.6 219.5h1.0v1.0h-1.0zM148.4 228.4h1.0v1.0h-1.0zM155.4 215.1h1.0v1.0h-1.0zM146.6 225.8h1.0v1.0h-1.0zM144.3 222.4h1.0v1.0h-1.0zM150.7 224.7h1.0v1.0h-1.0zM149.2 221.3h1.0v1.0h-1.0zM142.2 223.8h1.0v1.0h-1.0zM141.5 230.9h1.0v1.0h-1.0zM150.8 220.9h1.0v1.0h-1.0zM159.1 221.6h1.0v1.0h-1.0zM151.9 221.7h1.0v1.0h-1.0zM143.6 217.3h1.0v1.0h-1.0zM143.8 227.8h1.0v1.0h-1.0zM144.6 219.9h1.0v1.0h-1.0zM146.4 225.6h1.0v1.0h-1.0zM156.6 222.6h1.0v1.0h-1.0zM147.9 224.6h1.0v1.0h-1.0zM138.0 226.3h1.0v1.0h-1.0zM153.3 216.9h1.0v1.0h-1.0zM167.3 226.4h1.0v1.0h-1.0zM162.9 214.6h1.0v1.0h-1.0zM148.2 219.3h1.0v1.0h-1.0zM157.4 228.9h1.0v1.0h-1.0zM149.7 227.1h1.0v1.0h-1.0zM150.6 215.5h1.0v1.0h-1.0zM149.0 216.7h1.0v1.0h-1.0zM143.0 222.2h1.0v1.0h-1.0zM146.1 223.4h1.0v1.0h-1.0zM163.9 225.7h1.0v1.0h-1.0zM137.8 211.0h1.0v1.0h-1.0zM142.2 220.8h1.0v1.0h-1.0zM145.6 228.2h1.0v1.0h-1.0zM163.5 222.1h1.0v1.0h-1.0zM163.4 223.7h1.0v1.0h-1.0zM144.3 216.0h1.0v1.0h-1.0zM149.7 227.1h1.0v1.0h-1.0zM137.1 213.8h1.0v1.0h-1.0zM156.6 208.1h1.0v1.0h-1.0zM158.5 231.5h1.0v1.0h-1.0zM136.2 216.6h1.0v1.0h-1.0zM149.7 223.2h1.0v1.0h-1.0zM161.8 228.8h1.0v1.0h-1.0zM152.1 220.3h1.0v1.0h-1.0zM150.6 223.6h1.0v1.0h-1.0zM164.4 222.7h1.0v1.0h-1.0zM156.4 231.0h1.0v1.0h-1.0zM164.2 223.7h1.0v1.0h-1.0zM142.0 218.4h1.0v1.0h-1.0zM149.4 223.6h1.0v1.0h-1.0zM148.5 214.6h1.0v1.0h-1.0zM143.5 224.6h1.0v1.0h-1.0zM159.5 214.8h1.0v1.0h-1.0zM147.3 213.4h1.0v1.0h-1.0zM151.7 220.2h1.0v1.0h-1.0zM145.0 215.8h1.0v1.0h-1.0zM148.2 229.6h1.0v1.0h-1.0zM164.7 212.0h1.0v1.0h-1.0zM157.7 213.8h1.0v1.0h-1.0zM156.3 229.5h1.0v1.0h-1.0zM151.0 223.5h1.0v1.0h-1.0zM143.9 223.5h1.0v1.0h-1.0zM162.6 221.1h1.0v1.0h-1.0zM149.6 224.0h1.0v1.0h-1.0zM159.4 213.6h1.0v1.0h-1.0zM151.6 218.5h1.0v1.0h-1.0zM156.1 227.3h1.0v1.0h-1.0zM154.2 228.6h1.0v1.0h-1.0zM140.9 219.9h1.0v1.0h-1.0zM140.9 222.3h1.0v1.0h-1.0zM152.0 221.0h1.0v1.0h-1.0zM138.6 221.6h1.0v1.0h-1.0zM146.5 225.1h1.0v1.0h-1.0zM148.2 228.0h1.0v1.0h-1.0zM153.4 212.5h1.0v1.0h-1.0zM149.2 214.7h1.0v1.0h-1.0zM160.9 229.3h1.0v1.0h-1.0zM150.7 224.3h1.0v1.0h-1.0zM136.2 210.5h1.0v1.0h-1.0zM145.3 220.7h1.0v1.0h-1.0zM135.5 222.5h1.0v1.0h-1.0zM154.2 225.3h1.0v1.0h-1.0zM166.9 226.2h1.0v1.0h-1.0zM147.3 222.5h1.0v1.0h-1.0zM157.2 216.7h1.0v1.0h-1.0zM164.6 226.6h1.0v1.0h-1.0zM148.7 218.7h1.0v1.0h-1.0zM160.6 231.2h1.0v1.0h-1.0zM161.1 223.1h1.0v1.0h-1.0zM158.2 217.3h1.0v1.0h-1.0zM158.4 214.1h1.0v1.0h-1.0zM155.4 224.9h1.0v1.0h-1.0zM135.1 231.9h1.0v1.0h-1.0zM139.3 227.4h1.0v1.0h-1.0zM145.7 223.6h1.0v1.0h-1.0zM161.7 231.3h1.0v1.0h-1.0zM159.1 225.6h1.0v1.0h-1.0zM152.7 220.8h1.0v1.0h-1.0zM157.4 222.9h1.0v1.0h-1.0zM149.6 215.0h1.0v1.0h-1.0zM148.0 225.2h1.0v1.0h-1.0zM146.4 223.9h1.0v1.0h-1.0zM149.7 216.8h1.0v1.0h-1.0zM141.9 218.3h1.0v1.0h-1.0zM148.2 220.8h1.0v1.0h-1.0zM162.7 216.6h1.0v1.0h-1.0zM146.6 221.5h1.0v1.0h-1.0zM157.3 227.0h1.0v1.0h-1.0zM152.5 227.0h1.0v1.0h-1.0zM145.0 218.5h1.0v1.0h-1.0zM146.5 230.2h1.0v1.0h-1.0zM167.2 219.0h1.0v1.0h-1.0zM163.2 221.3h1.0v1.0h-1.0zM162.3 220.5h1.0v1.0h-1.0zM161.1 221.6h1.0v1.0h-1.0zM148.4 222.0h1.0v1.0h-1.0zM152.9 219.2h1.0v1.0h-1.0zM137.3 230.9h1.0v1.0h-1.0zM147.3 212.8h1.0v1.0h-1.0zM145.1 229.1h1.0v1.0h-1.0zM155.1 223.8h1.0v1.0h-1.0zM165.2 230.6h1.0v1.0h-1.0zM162.0 219.2h1.0v1.0h-1.0zM137.8 216.8h1.0v1.0h-1.0zM149.4 222.9h1.0v1.0h-1.0zM145.6 228.3h1.0v1.0h-1.0zM154.5 221.4h1.0v1.0h-1.0zM143.8 219.8h1.0v1.0h-1.0zM153.7 222.7h1.0v1.0h-1.0zM163.0 218.8h1.0v1.0h-1.0zM153.1 223.6h1.0v1.0h-1.0zM151.7 225.7h1.0v1.0h-1.0zM148.8 228.4h1.0v1.0h-1.0zM144.1 214.8h1.0v1.0h-1.0zM151.0 228.3h1.0v1.0h-1.0zM146.1 219.0h1.0v1.0h-1.0zM147.9 223.1h1.0v1.0h-1.0zM149.6 223.8h1.0v1.0h-1.0zM157.4 217.8h1.0v1.0h-1.0zM165.6 224.5h1.0v1.0h-1.0zM166.6 216.2h1.0v1.0h-1.0zM168.5 222.5h1.0v1.0h-1.0zM148.3 217.0h1.0v1.0h-1.0zM149.2 212.2h1.0v1.0h-1.0zM157.4 221.1h1.0v1.0h-1.0zM148.6 229.5h1.0v1.0h-1.0zM151.8 218.8h1.0v1.0h-1.0zM141.6 221.9h1.0v1.0h-1.0zM162.4 219.2h1.0v1.0h-1.0zM140.7 227.0h1.0v1.0h-1.0zM152.0 222.1h1.0v1.0h-1.0zM153.5 213.1h1.0v1.0h-1.0zM148.3 225.2h1.0v1.0h-1.0zM163.0 215.7h1.0v1.0h-1.0zM160.0 226.2h1.0v1.0h-1.0zM151.4 217.7h1.0v1.0h-1.0zM155.8 212.6h1.0v1.0h-1.0zM167.5 227.3h1.0v1.0h-1.0zM147.3 225.4h1.0v1.0h-1.0zM145.1 215.6h1.0v1.0h-1.0zM135.3 221.3h1.0v1.0h-1.0zM155.6 219.9h1.0v1.0h-1.0z" fill="#999" fill-opacity="0.45"/>
<path d="M162.1 197.2 L162.1 197.2 L162.2 199.3 L162.2 201.3 L162.2 203.4 L162.2 205.4 L162.2 207.5 L162.3 209.6 L162.3 211.6 L162.3 213.7 L162.4 215.8 L162.6 217.8 L162.8 219.9 L162.9 221.9 L163.1 224.0 Q170.9 228.0 178.8 224.0 L178.8 224.0 L179.9 221.9 L180.8 219.9 L181.8 217.8 L182.7 215.8 L183.2 213.7 L183.6 211.6 L184.0 209.6 L184.3 207.5 L184.7 205.4 L184.3 203.4 L183.7 201.3 L183.1 199.3 L182.5 197.2 Q181.8 194.7 178.8 194.7 L165.1 194.7 Q162.1 194.7 162.1 197.2Z" fill="#0a0a0a"/>
<path d="M186.7 202.2h1.0v1.0h-1.0zM185.0 215.5h1.0v1.0h-1.0zM188.6 212.2h1.0v1.0h-1.0zM182.6 215.9h1.0v1.0h-1.0zM182.7 198.9h1.0v1.0h-1.0zM181.2 222.4h1.0v1.0h-1.0zM185.6 211.4h1.0v1.0h-1.0zM185.7 205.7h1.0v1.0h-1.0zM182.2 200.9h1.0v1.0h-1.0zM184.8 220.9h1.0v1.0h-1.0zM183.5 197.1h1.0v1.0h-1.0zM179.9 221.4h1.0v1.0h-1.0zM182.9 201.8h1.0v1.0h-1.0zM177.0 228.4h1.0v1.0h-1.0zM177.4 227.8h1.0v1.0h-1.0zM183.7 202.7h1.0v1.0h-1.0zM187.0 205.4h1.0v1.0h-1.0zM177.7 228.4h1.0v1.0h-1.0zM181.9 213.1h1.0v1.0h-1.0zM178.2 227.2h1.0v1.0h-1.0zM186.9 209.8h1.0v1.0h-1.0zM186.0 209.9h1.0v1.0h-1.0zM180.5 218.3h1.0v1.0h-1.0zM175.0 230.3h1.0v1.0h-1.0zM183.3 195.2h1.0v1.0h-1.0zM182.4 220.9h1.0v1.0h-1.0zM183.0 218.1h1.0v1.0h-1.0zM180.1 222.8h1.0v1.0h-1.0zM179.7 227.4h1.0v1.0h-1.0zM184.4 201.5h1.0v1.0h-1.0zM183.8 209.4h1.0v1.0h-1.0zM179.0 227.3h1.0v1.0h-1.0zM180.0 220.8h1.0v1.0h-1.0zM179.5 224.7h1.0v1.0h-1.0zM184.9 210.6h1.0v1.0h-1.0zM182.0 195.1h1.0v1.0h-1.0zM184.9 214.4h1.0v1.0h-1.0zM185.4 201.2h1.0v1.0h-1.0zM177.6 228.4h1.0v1.0h-1.0zM183.6 215.1h1.0v1.0h-1.0zM183.3 215.3h1.0v1.0h-1.0zM183.5 199.8h1.0v1.0h-1.0zM182.9 195.8h1.0v1.0h-1.0zM180.1 219.3h1.0v1.0h-1.0zM182.3 197.4h1.0v1.0h-1.0zM186.3 200.1h1.0v1.0h-1.0zM183.6 196.3h1.0v1.0h-1.0zM188.3 208.8h1.0v1.0h-1.0zM177.9 224.6h1.0v1.0h-1.0zM185.7 212.8h1.0v1.0h-1.0zM181.5 209.6h1.0v1.0h-1.0zM180.4 223.2h1.0v1.0h-1.0zM184.7 210.5h1.0v1.0h-1.0zM183.2 199.9h1.0v1.0h-1.0zM176.9 224.1h1.0v1.0h-1.0zM182.3 213.3h1.0v1.0h-1.0zM180.2 226.2h1.0v1.0h-1.0zM178.5 229.0h1.0v1.0h-1.0zM178.1 224.5h1.0v1.0h-1.0zM180.2 222.9h1.0v1.0h-1.0zM184.1 200.9h1.0v1.0h-1.0zM181.0 211.1h1.0v1.0h-1.0zM184.4 214.0h1.0v1.0h-1.0zM185.6 203.0h1.0v1.0h-1.0zM177.7 224.9h1.0v1.0h-1.0zM183.3 201.3h1.0v1.0h-1.0zM187.0 213.9h1.0v1.0h-1.0zM182.8 201.7h1.0v1.0h-1.0zM186.2 206.5h1.0v1.0h-1.0zM181.5 204.3h1.0v1.0h-1.0zM182.2 214.2h1.0v1.0h-1.0zM185.7 217.7h1.0v1.0h-1.0zM184.7 201.6h1.0v1.0h-1.0zM184.0 203.6h1.0v1.0h-1.0zM183.9 199.6h1.0v1.0h-1.0zM179.4 218.2h1.0v1.0h-1.0zM174.1 229.1h1.0v1.0h-1.0zM196.1 203.0h1.0v1.0h-1.0zM179.4 229.6h1.0v1.0h-1.0zM178.8 222.2h1.0v1.0h-1.0zM179.8 222.9h1.0v1.0h-1.0zM184.3 202.9h1.0v1.0h-1.0zM184.5 202.4h1.0v1.0h-1.0zM181.6 196.9h1.0v1.0h-1.0zM184.4 207.7h1.0v1.0h-1.0zM184.4 203.0h1.0v1.0h-1.0zM185.3 205.8h1.0v1.0h-1.0zM185.0 205.8h1.0v1.0h-1.0zM184.8 207.6h1.0v1.0h-1.0zM176.9 226.6h1.0v1.0h-1.0zM179.7 217.0h1.0v1.0h-1.0zM181.7 220.5h1.0v1.0h-1.0zM185.3 215.4h1.0v1.0h-1.0zM187.4 207.8h1.0v1.0h-1.0zM182.2 216.9h1.0v1.0h-1.0zM187.2 205.0h1.0v1.0h-1.0zM183.1 221.2h1.0v1.0h-1.0zM185.3 207.8h1.0v1.0h-1.0zM184.1 214.6h1.0v1.0h-1.0zM176.4 228.1h1.0v1.0h-1.0zM183.8 216.5h1.0v1.0h-1.0zM183.7 215.0h1.0v1.0h-1.0zM186.8 201.4h1.0v1.0h-1.0zM179.7 229.7h1.0v1.0h-1.0zM186.7 210.2h1.0v1.0h-1.0zM181.9 196.8h1.0v1.0h-1.0zM183.7 201.8h1.0v1.0h-1.0zM182.9 214.4h1.0v1.0h-1.0zM184.1 215.2h1.0v1.0h-1.0zM179.0 223.5h1.0v1.0h-1.0zM176.8 227.5h1.0v1.0h-1.0zM183.4 210.9h1.0v1.0h-1.0zM183.7 219.3h1.0v1.0h-1.0zM183.4 195.0h1.0v1.0h-1.0zM188.6 201.6h1.0v1.0h-1.0zM180.8 217.1h1.0v1.0h-1.0zM182.4 201.9h1.0v1.0h-1.0zM180.5 225.5h1.0v1.0h-1.0zM182.2 220.7h1.0v1.0h-1.0zM179.4 224.9h1.0v1.0h-1.0zM186.4 203.8h1.0v1.0h-1.0zM184.8 207.3h1.0v1.0h-1.0zM183.0 219.8h1.0v1.0h-1.0zM176.0 228.3h1.0v1.0h-1.0zM183.2 215.4h1.0v1.0h-1.0zM184.8 206.9h1.0v1.0h-1.0zM183.7 215.5h1.0v1.0h-1.0zM179.8 201.5h1.0v1.0h-1.0zM186.0 215.3h1.0v1.0h-1.0zM185.4 209.6h1.0v1.0h-1.0zM179.1 221.2h1.0v1.0h-1.0zM178.8 225.6h1.0v1.0h-1.0zM180.7 219.0h1.0v1.0h-1.0zM183.6 198.6h1.0v1.0h-1.0zM189.5 204.5h1.0v1.0h-1.0zM174.0 228.6h1.0v1.0h-1.0zM184.1 209.1h1.0v1.0h-1.0zM191.7 211.8h1.0v1.0h-1.0zM185.0 217.4h1.0v1.0h-1.0zM181.6 196.5h1.0v1.0h-1.0zM181.6 218.0h1.0v1.0h-1.0zM184.3 207.4h1.0v1.0h-1.0zM179.6 221.3h1.0v1.0h-1.0zM184.2 213.0h1.0v1.0h-1.0zM176.1 225.2h1.0v1.0h-1.0zM184.2 215.6h1.0v1.0h-1.0zM183.2 196.1h1.0v1.0h-1.0zM175.0 228.3h1.0v1.0h-1.0zM183.3 202.8h1.0v1.0h-1.0zM174.1 230.5h1.0v1.0h-1.0zM181.3 217.3h1.0v1.0h-1.0zM175.9 230.5h1.0v1.0h-1.0zM178.8 213.4h1.0v1.0h-1.0zM181.2 224.7h1.0v1.0h-1.0zM177.9 225.6h1.0v1.0h-1.0zM183.8 216.3h1.0v1.0h-1.0zM184.6 217.6h1.0v1.0h-1.0zM182.6 218.1h1.0v1.0h-1.0zM183.2 213.6h1.0v1.0h-1.0zM178.9 225.5h1.0v1.0h-1.0zM182.7 198.4h1.0v1.0h-1.0zM176.9 224.2h1.0v1.0h-1.0zM184.0 209.5h1.0v1.0h-1.0zM185.1 214.5h1.0v1.0h-1.0zM185.8 201.3h1.0v1.0h-1.0zM186.2 206.6h1.0v1.0h-1.0zM183.0 196.6h1.0v1.0h-1.0zM186.7 204.2h1.0v1.0h-1.0zM185.9 208.0h1.0v1.0h-1.0zM181.2 221.7h1.0v1.0h-1.0zM183.6 209.0h1.0v1.0h-1.0zM183.2 198.6h1.0v1.0h-1.0zM181.1 198.7h1.0v1.0h-1.0zM182.6 216.7h1.0v1.0h-1.0zM179.9 227.6h1.0v1.0h-1.0zM178.2 214.6h1.0v1.0h-1.0zM182.4 223.1h1.0v1.0h-1.0zM180.5 195.2h1.0v1.0h-1.0zM181.7 196.0h1.0v1.0h-1.0zM182.5 204.1h1.0v1.0h-1.0zM183.1 212.8h1.0v1.0h-1.0zM177.7 227.1h1.0v1.0h-1.0zM187.0 215.4h1.0v1.0h-1.0zM180.8 227.5h1.0v1.0h-1.0zM186.9 222.2h1.0v1.0h-1.0zM180.0 219.3h1.0v1.0h-1.0zM184.6 198.8h1.0v1.0h-1.0zM184.2 214.7h1.0v1.0h-1.0zM186.8 203.0h1.0v1.0h-1.0zM186.1 208.0h1.0v1.0h-1.0zM174.8 227.7h1.0v1.0h-1.0zM177.5 225.7h1.0v1.0h-1.0zM174.0 227.9h1.0v1.0h-1.0zM180.8 221.7h1.0v1.0h-1.0zM183.2 216.2h1.0v1.0h-1.0zM177.2 223.1h1.0v1.0h-1.0zM181.1 217.8h1.0v1.0h-1.0zM182.8 211.1h1.0v1.0h-1.0zM184.7 212.8h1.0v1.0h-1.0zM180.1 196.4h1.0v1.0h-1.0zM182.5 212.1h1.0v1.0h-1.0zM184.9 214.3h1.0v1.0h-1.0zM181.9 216.7h1.0v1.0h-1.0zM178.5 227.1h1.0v1.0h-1.0zM182.7 217.8h1.0v1.0h-1.0zM182.7 216.5h1.0v1.0h-1.0zM179.1 219.5h1.0v1.0h-1.0zM180.2 214.4h1.0v1.0h-1.0zM182.7 215.4h1.0v1.0h-1.0zM182.3 217.5h1.0v1.0h-1.0zM179.1 223.0h1.0v1.0h-1.0zM182.6 213.3h1.0v1.0h-1.0zM182.6 199.2h1.0v1.0h-1.0zM187.7 208.2h1.0v1.0h-1.0zM183.6 212.8h1.0v1.0h-1.0zM182.8 207.6h1.0v1.0h-1.0zM185.1 195.5h1.0v1.0h-1.0zM183.6 209.8h1.0v1.0h-1.0zM189.6 202.5h1.0v1.0h-1.0zM186.8 206.7h1.0v1.0h-1.0zM180.7 219.2h1.0v1.0h-1.0zM176.0 225.4h1.0v1.0h-1.0zM180.2 222.5h1.0v1.0h-1.0zM184.3 208.0h1.0v1.0h-1.0zM183.2 224.6h1.0v1.0h-1.0zM180.3 196.9h1.0v1.0h-1.0zM182.0 213.7h1.0v1.0h-1.0zM183.0 216.1h1.0v1.0h-1.0zM185.7 201.6h1.0v1.0h-1.0zM179.0 215.6h1.0v1.0h-1.0zM182.7 217.9h1.0v1.0h-1.0zM180.5 222.1h1.0v1.0h-1.0zM181.4 198.7h1.0v1.0h-1.0zM182.7 211.1h1.0v1.0h-1.0zM179.9 221.8h1.0v1.0h-1.0zM188.9 207.8h1.0v1.0h-1.0zM176.8 227.7h1.0v1.0h-1.0zM184.5 213.8h1.0v1.0h-1.0zM182.5 222.0h1.0v1.0h-1.0zM184.3 204.9h1.0v1.0h-1.0zM178.9 229.2h1.0v1.0h-1.0zM184.3 203.5h1.0v1.0h-1.0zM179.4 224.3h1.0v1.0h-1.0zM185.9 207.1h1.0v1.0h-1.0zM184.1 197.9h1.0v1.0h-1.0zM182.4 220.5h1.0v1.0h-1.0zM185.9 213.8h1.0v1.0h-1.0zM181.5 222.6h1.0v1.0h-1.0zM179.2 222.2h1.0v1.0h-1.0zM176.8 228.8h1.0v1.0h-1.0zM183.7 214.5h1.0v1.0h-1.0zM182.8 227.9h1.0v1.0h-1.0zM183.1 210.8h1.0v1.0h-1.0zM176.4 226.6h1.0v1.0h-1.0zM180.0 222.6h1.0v1.0h-1.0zM185.3 216.6h1.0v1.0h-1.0zM184.8 209.7h1.0v1.0h-1.0zM181.7 226.4h1.0v1.0h-1.0zM181.9 203.1h1.0v1.0h-1.0zM184.1 209.9h1.0v1.0h-1.0zM182.4 218.9h1.0v1.0h-1.0zM179.3 222.5h1.0v1.0h-1.0zM184.7 210.3h1.0v1.0h-1.0zM183.4 211.5h1.0v1.0h-1.0zM183.4 210.8h1.0v1.0h-1.0zM183.9 203.2h1.0v1.0h-1.0zM185.8 219.8h1.0v1.0h-1.0zM182.8 223.0h1.0v1.0h-1.0zM185.1 202.0h1.0v1.0h-1.0zM184.7 203.4h1.0v1.0h-1.0zM177.5 223.5h1.0v1.0h-1.0zM181.5 199.7h1.0v1.0h-1.0zM182.2 221.2h1.0v1.0h-1.0zM184.5 208.1h1.0v1.0h-1.0zM180.6 223.4h1.0v1.0h-1.0zM177.9 225.1h1.0v1.0h-1.0zM187.2 208.6h1.0v1.0h-1.0zM184.8 215.7h1.0v1.0h-1.0zM186.1 198.8h1.0v1.0h-1.0zM180.0 224.0h1.0v1.0h-1.0zM184.2 213.6h1.0v1.0h-1.0zM176.7 228.9h1.0v1.0h-1.0zM179.0 217.8h1.0v1.0h-1.0zM180.7 197.4h1.0v1.0h-1.0zM183.4 200.2h1.0v1.0h-1.0zM189.4 202.8h1.0v1.0h-1.0zM182.5 224.5h1.0v1.0h-1.0zM183.0 207.6h1.0v1.0h-1.0zM179.9 229.3h1.0v1.0h-1.0zM179.2 217.0h1.0v1.0h-1.0zM181.8 229.4h1.0v1.0h-1.0zM184.6 211.9h1.0v1.0h-1.0zM182.7 204.6h1.0v1.0h-1.0zM183.3 213.7h1.0v1.0h-1.0zM183.4 203.9h1.0v1.0h-1.0zM184.3 213.6h1.0v1.0h-1.0zM180.6 220.7h1.0v1.0h-1.0zM184.4 201.3h1.0v1.0h-1.0zM175.0 231.0h1.0v1.0h-1.0zM183.7 208.7h1.0v1.0h-1.0zM177.6 225.4h1.0v1.0h-1.0zM179.3 219.5h1.0v1.0h-1.0zM181.2 215.5h1.0v1.0h-1.0zM173.5 228.7h1.0v1.0h-1.0zM185.7 199.9h1.0v1.0h-1.0zM186.6 215.3h1.0v1.0h-1.0zM180.1 222.2h1.0v1.0h-1.0zM184.9 208.8h1.0v1.0h-1.0zM183.9 197.8h1.0v1.0h-1.0zM180.6 223.5h1.0v1.0h-1.0zM183.2 208.5h1.0v1.0h-1.0zM182.5 211.7h1.0v1.0h-1.0zM173.7 230.9h1.0v1.0h-1.0zM186.7 205.2h1.0v1.0h-1.0zM179.2 226.3h1.0v1.0h-1.0zM183.4 202.8h1.0v1.0h-1.0zM192.0 202.1h1.0v1.0h-1.0zM177.4 227.3h1.0v1.0h-1.0zM184.7 203.0h1.0v1.0h-1.0zM183.9 202.6h1.0v1.0h-1.0zM186.0 199.1h1.0v1.0h-1.0zM185.4 230.6h1.0v1.0h-1.0zM177.7 218.2h1.0v1.0h-1.0zM178.2 225.8h1.0v1.0h-1.0zM182.7 198.3h1.0v1.0h-1.0zM178.3 224.9h1.0v1.0h-1.0zM192.4 220.1h1.0v1.0h-1.0zM182.9 195.6h1.0v1.0h-1.0zM183.0 209.1h1.0v1.0h-1.0zM183.3 227.3h1.0v1.0h-1.0zM185.2 206.0h1.0v1.0h-1.0zM182.4 195.6h1.0v1.0h-1.0zM183.8 217.0h1.0v1.0h-1.0zM186.3 198.4h1.0v1.0h-1.0zM182.7 212.4h1.0v1.0h-1.0zM182.5 209.2h1.0v1.0h-1.0zM183.7 208.8h1.0v1.0h-1.0zM186.0 197.6h1.0v1.0h-1.0zM183.7 210.8h1.0v1.0h-1.0zM185.4 203.4h1.0v1.0h-1.0zM181.6 218.2h1.0v1.0h-1.0zM184.0 217.0h1.0v1.0h-1.0zM178.5 230.7h1.0v1.0h-1.0zM186.5 210.5h1.0v1.0h-1.0zM177.7 231.0h1.0v1.0h-1.0zM184.7 200.7h1.0v1.0h-1.0zM184.0 201.6h1.0v1.0h-1.0zM182.3 213.1h1.0v1.0h-1.0zM186.4 203.3h1.0v1.0h-1.0zM176.7 227.7h1.0v1.0h-1.0zM182.0 195.2h1.0v1.0h-1.0zM181.3 226.0h1.0v1.0h-1.0zM184.3 204.7h1.0v1.0h-1.0zM179.9 218.0h1.0v1.0h-1.0zM175.8 229.2h1.0v1.0h-1.0zM185.7 209.9h1.0v1.0h-1.0zM185.3 205.4h1.0v1.0h-1.0zM179.9 201.2h1.0v1.0h-1.0zM171.2 229.4h1.0v1.0h-1.0zM183.9 215.1h1.0v1.0h-1.0zM183.3 219.5h1.0v1.0h-1.0zM184.3 211.8h1.0v1.0h-1.0zM188.3 212.7h1.0v1.0h-1.0zM182.9 201.3h1.0v1.0h-1.0zM175.0 230.0h1.0v1.0h-1.0zM181.8 199.1h1.0v1.0h-1.0zM184.3 205.5h1.0v1.0h-1.0zM185.5 222.6h1.0v1.0h-1.0zM181.0 225.2h1.0v1.0h-1.0zM185.0 218.2h1.0v1.0h-1.0zM181.2 216.1h1.0v1.0h-1.0zM190.5 211.0h1.0v1.0h-1.0zM179.5 220.5h1.0v1.0h-1.0zM179.3 225.2h1.0v1.0h-1.0zM186.9 209.2h1.0v1.0h-1.0zM175.8 230.4h1.0v1.0h-1.0zM185.8 201.0h1.0v1.0h-1.0zM182.7 212.8h1.0v1.0h-1.0zM183.1 202.9h1.0v1.0h-1.0zM177.7 225.2h1.0v1.0h-1.0zM162.4 195.3h1.0v1.0h-1.0zM163.2 219.0h1.0v1.0h-1.0zM161.5 213.6h1.0v1.0h-1.0zM161.6 203.2h1.0v1.0h-1.0zM160.4 198.2h1.0v1.0h-1.0zM160.4 202.4h1.0v1.0h-1.0zM162.2 195.7h1.0v1.0h-1.0zM164.1 214.1h1.0v1.0h-1.0zM161.2 194.7h1.0v1.0h-1.0zM161.6 217.4h1.0v1.0h-1.0zM162.3 225.3h1.0v1.0h-1.0zM161.8 196.9h1.0v1.0h-1.0zM160.7 214.0h1.0v1.0h-1.0zM165.7 228.1h1.0v1.0h-1.0zM161.8 209.8h1.0v1.0h-1.0zM163.2 216.9h1.0v1.0h-1.0zM161.0 196.0h1.0v1.0h-1.0zM162.0 212.8h1.0v1.0h-1.0zM163.3 219.9h1.0v1.0h-1.0zM160.1 198.9h1.0v1.0h-1.0zM161.0 212.7h1.0v1.0h-1.0zM163.5 225.3h1.0v1.0h-1.0zM163.5 209.3h1.0v1.0h-1.0zM162.1 212.2h1.0v1.0h-1.0zM161.5 216.7h1.0v1.0h-1.0zM163.5 226.5h1.0v1.0h-1.0zM161.3 221.8h1.0v1.0h-1.0zM163.5 223.7h1.0v1.0h-1.0zM162.9 223.6h1.0v1.0h-1.0zM161.9 195.8h1.0v1.0h-1.0zM161.7 218.6h1.0v1.0h-1.0zM165.3 231.0h1.0v1.0h-1.0zM160.9 220.8h1.0v1.0h-1.0zM162.5 211.5h1.0v1.0h-1.0zM163.3 228.2h1.0v1.0h-1.0zM161.8 224.3h1.0v1.0h-1.0zM161.2 195.6h1.0v1.0h-1.0zM162.2 196.3h1.0v1.0h-1.0zM165.5 231.1h1.0v1.0h-1.0zM164.7 222.2h1.0v1.0h-1.0zM162.6 216.2h1.0v1.0h-1.0zM162.1 215.2h1.0v1.0h-1.0zM161.8 201.8h1.0v1.0h-1.0zM162.1 199.0h1.0v1.0h-1.0zM161.4 197.7h1.0v1.0h-1.0zM162.1 221.7h1.0v1.0h-1.0zM162.0 195.8h1.0v1.0h-1.0zM162.9 219.5h1.0v1.0h-1.0zM160.3 205.5h1.0v1.0h-1.0zM162.3 216.9h1.0v1.0h-1.0zM161.8 214.9h1.0v1.0h-1.0zM162.0 213.6h1.0v1.0h-1.0zM163.1 203.0h1.0v1.0h-1.0zM163.6 212.4h1.0v1.0h-1.0zM162.9 219.8h1.0v1.0h-1.0zM165.0 228.4h1.0v1.0h-1.0zM162.6 199.3h1.0v1.0h-1.0zM160.2 207.4h1.0v1.0h-1.0zM162.1 202.1h1.0v1.0h-1.0zM161.3 224.2h1.0v1.0h-1.0zM160.9 223.5h1.0v1.0h-1.0zM162.2 217.9h1.0v1.0h-1.0zM162.0 216.9h1.0v1.0h-1.0zM165.3 229.9h1.0v1.0h-1.0zM161.9 215.9h1.0v1.0h-1.0zM161.0 216.9h1.0v1.0h-1.0zM162.3 221.2h1.0v1.0h-1.0zM162.0 222.3h1.0v1.0h-1.0zM160.9 199.4h1.0v1.0h-1.0zM164.5 228.5h1.0v1.0h-1.0zM161.9 214.9h1.0v1.0h-1.0zM165.4 229.7h1.0v1.0h-1.0zM162.4 217.2h1.0v1.0h-1.0zM163.2 199.8h1.0v1.0h-1.0zM161.9 219.5h1.0v1.0h-1.0zM162.0 220.5h1.0v1.0h-1.0zM161.7 216.9h1.0v1.0h-1.0zM161.9 208.3h1.0v1.0h-1.0zM162.9 199.7h1.0v1.0h-1.0zM162.2 200.9h1.0v1.0h-1.0zM160.9 211.3h1.0v1.0h-1.0zM162.3 215.3h1.0v1.0h-1.0zM160.2 197.4h1.0v1.0h-1.0zM161.7 196.1h1.0v1.0h-1.0zM161.3 195.5h1.0v1.0h-1.0zM163.2 208.3h1.0v1.0h-1.0zM162.4 206.4h1.0v1.0h-1.0zM163.4 220.4h1.0v1.0h-1.0zM163.9 228.3h1.0v1.0h-1.0zM163.2 219.7h1.0v1.0h-1.0zM161.8 215.7h1.0v1.0h-1.0zM162.2 204.9h1.0v1.0h-1.0zM162.1 206.0h1.0v1.0h-1.0zM162.0 197.3h1.0v1.0h-1.0zM164.3 229.7h1.0v1.0h-1.0zM163.4 229.3h1.0v1.0h-1.0zM163.1 222.8h1.0v1.0h-1.0zM162.5 221.7h1.0v1.0h-1.0zM162.4 223.8h1.0v1.0h-1.0zM163.5 226.4h1.0v1.0h-1.0zM162.4 196.1h1.0v1.0h-1.0zM162.7 221.1h1.0v1.0h-1.0zM161.8 208.7h1.0v1.0h-1.0zM163.0 217.0h1.0v1.0h-1.0zM161.2 217.4h1.0v1.0h-1.0zM162.9 218.1h1.0v1.0h-1.0zM161.6 208.2h1.0v1.0h-1.0zM162.6 221.0h1.0v1.0h-1.0zM163.3 225.6h1.0v1.0h-1.0zM164.2 223.3h1.0v1.0h-1.0zM160.2 207.5h1.0v1.0h-1.0zM162.5 201.5h1.0v1.0h-1.0zM163.0 221.0h1.0v1.0h-1.0zM162.0 199.9h1.0v1.0h-1.0zM164.2 230.8h1.0v1.0h-1.0zM164.0 228.4h1.0v1.0h-1.0zM164.1 223.0h1.0v1.0h-1.0zM161.4 222.1h1.0v1.0h-1.0zM163.1 205.5h1.0v1.0h-1.0zM162.8 200.0h1.0v1.0h-1.0zM162.5 208.7h1.0v1.0h-1.0zM162.6 206.9h1.0v1.0h-1.0zM164.1 225.0h1.0v1.0h-1.0zM160.2 208.3h1.0v1.0h-1.0zM162.4 220.9h1.0v1.0h-1.0zM162.2 195.0h1.0v1.0h-1.0zM161.1 194.8h1.0v1.0h-1.0zM162.2 209.4h1.0v1.0h-1.0zM163.6 209.9h1.0v1.0h-1.0zM162.0 213.1h1.0v1.0h-1.0zM162.4 209.1h1.0v1.0h-1.0zM161.0 210.2h1.0v1.0h-1.0zM162.7 195.8h1.0v1.0h-1.0zM162.4 200.2h1.0v1.0h-1.0zM162.3 205.3h1.0v1.0h-1.0zM162.1 223.7h1.0v1.0h-1.0zM161.9 204.4h1.0v1.0h-1.0zM162.1 226.5h1.0v1.0h-1.0zM163.2 204.9h1.0v1.0h-1.0zM161.8 215.5h1.0v1.0h-1.0zM162.5 224.3h1.0v1.0h-1.0zM162.0 195.6h1.0v1.0h-1.0zM162.4 209.4h1.0v1.0h-1.0zM161.0 210.4h1.0v1.0h-1.0zM162.1 225.7h1.0v1.0h-1.0zM162.6 218.5h1.0v1.0h-1.0zM162.7 217.5h1.0v1.0h-1.0zM164.7 226.9h1.0v1.0h-1.0zM162.7 219.7h1.0v1.0h-1.0zM162.5 199.1h1.0v1.0h-1.0zM161.7 214.3h1.0v1.0h-1.0zM161.8 207.6h1.0v1.0h-1.0zM162.5 209.6h1.0v1.0h-1.0zM162.3 195.1h1.0v1.0h-1.0zM165.6 231.5h1.0v1.0h-1.0zM161.3 221.1h1.0v1.0h-1.0zM161.4 201.9h1.0v1.0h-1.0zM162.5 203.6h1.0v1.0h-1.0zM162.0 202.4h1.0v1.0h-1.0zM160.7 209.2h1.0v1.0h-1.0zM160.2 201.4h1.0v1.0h-1.0zM159.7 205.6h1.0v1.0h-1.0zM161.2 206.3h1.0v1.0h-1.0zM161.6 216.9h1.0v1.0h-1.0zM163.1 226.1h1.0v1.0h-1.0zM162.6 209.7h1.0v1.0h-1.0zM162.5 207.5h1.0v1.0h-1.0zM161.9 224.1h1.0v1.0h-1.0zM162.2 221.0h1.0v1.0h-1.0zM163.5 227.0h1.0v1.0h-1.0zM176.0 195.1h1.0v1.0h-1.0zM182.1 195.8h1.0v1.0h-1.0zM179.1 195.7h1.0v1.0h-1.0zM172.0 196.0h1.0v1.0h-1.0zM164.1 195.4h1.0v1.0h-1.0zM167.0 196.7h1.0v1.0h-1.0zM180.2 195.1h1.0v1.0h-1.0zM176.6 195.1h1.0v1.0h-1.0zM163.4 195.6h1.0v1.0h-1.0zM178.7 195.7h1.0v1.0h-1.0zM180.2 195.9h1.0v1.0h-1.0zM166.5 196.0h1.0v1.0h-1.0zM179.6 194.6h1.0v1.0h-1.0zM164.6 194.8h1.0v1.0h-1.0zM177.3 195.6h1.0v1.0h-1.0zM168.9 194.8h1.0v1.0h-1.0zM167.0 195.6h1.0v1.0h-1.0zM171.3 194.5h1.0v1.0h-1.0zM178.8 196.1h1.0v1.0h-1.0zM167.6 195.8h1.0v1.0h-1.0zM170.4 195.3h1.0v1.0h-1.0zM180.7 194.9h1.0v1.0h-1.0zM174.0 195.3h1.0v1.0h-1.0zM166.6 194.4h1.0v1.0h-1.0zM180.6 194.8h1.0v1.0h-1.0zM181.0 195.8h1.0v1.0h-1.0zM176.4 195.1h1.0v1.0h-1.0zM173.5 195.9h1.0v1.0h-1.0zM168.3 195.4h1.0v1.0h-1.0zM170.7 194.5h1.0v1.0h-1.0zM179.6 194.0h1.0v1.0h-1.0zM163.2 195.3h1.0v1.0h-1.0zM182.1 194.8h1.0v1.0h-1.0zM168.1 195.0h1.0v1.0h-1.0zM175.0 196.6h1.0v1.0h-1.0zM171.6 195.3h1.0v1.0h-1.0zM175.8 194.8h1.0v1.0h-1.0zM169.1 195.1h1.0v1.0h-1.0zM180.6 195.4h1.0v1.0h-1.0zM162.9 194.7h1.0v1.0h-1.0zM179.9 194.5h1.0v1.0h-1.0zM170.4 196.5h1.0v1.0h-1.0zM181.3 196.0h1.0v1.0h-1.0zM169.8 195.4h1.0v1.0h-1.0zM174.3 196.1h1.0v1.0h-1.0zM180.0 194.9h1.0v1.0h-1.0zM179.5 194.8h1.0v1.0h-1.0zM166.6 194.9h1.0v1.0h-1.0zM163.9 194.5h1.0v1.0h-1.0zM163.0 194.6h1.0v1.0h-1.0zM175.9 195.3h1.0v1.0h-1.0zM172.9 195.3h1.0v1.0h-1.0zM178.8 195.1h1.0v1.0h-1.0zM167.1 195.0h1.0v1.0h-1.0zM177.5 195.8h1.0v1.0h-1.0zM163.7 195.8h1.0v1.0h-1.0zM181.0 195.6h1.0v1.0h-1.0zM166.5 196.0h1.0v1.0h-1.0zM171.7 195.5h1.0v1.0h-1.0zM164.0 195.2h1.0v1.0h-1.0zM181.6 195.5h1.0v1.0h-1.0zM166.5 195.8h1.0v1.0h-1.0zM175.3 196.4h1.0v1.0h-1.0zM167.4 195.1h1.0v1.0h-1.0zM162.8 195.2h1.0v1.0h-1.0zM175.2 194.5h1.0v1.0h-1.0zM171.7 194.9h1.0v1.0h-1.0zM163.0 194.5h1.0v1.0h-1.0zM177.2 195.0h1.0v1.0h-1.0zM175.5 195.1h1.0v1.0h-1.0zM176.3 195.8h1.0v1.0h-1.0zM174.9 195.2h1.0v1.0h-1.0zM168.2 195.0h1.0v1.0h-1.0zM171.6 194.8h1.0v1.0h-1.0zM173.0 194.5h1.0v1.0h-1.0zM176.5 196.1h1.0v1.0h-1.0zM167.9 195.8h1.0v1.0h-1.0zM181.6 194.6h1.0v1.0h-1.0zM173.2 195.2h1.0v1.0h-1.0zM165.5 194.7h1.0v1.0h-1.0zM167.2 195.4h1.0v1.0h-1.0zM176.1 195.6h1.0v1.0h-1.0zM177.7 195.1h1.0v1.0h-1.0zM168.6 194.2h1.0v1.0h-1.0zM176.3 194.6h1.0v1.0h-1.0zM181.7 194.7h1.0v1.0h-1.0zM181.9 196.4h1.0v1.0h-1.0zM163.0 196.1h1.0v1.0h-1.0zM179.5 195.5h1.0v1.0h-1.0zM180.6 194.8h1.0v1.0h-1.0zM174.4 221.3h1.0v1.0h-1.0zM178.6 224.4h1.0v1.0h-1.0zM164.0 221.2h1.0v1.0h-1.0zM168.4 226.2h1.0v1.0h-1.0zM169.4 221.4h1.0v1.0h-1.0zM175.8 223.8h1.0v1.0h-1.0zM178.4 221.3h1.0v1.0h-1.0zM168.7 222.8h1.0v1.0h-1.0zM173.3 228.8h1.0v1.0h-1.0zM170.8 228.4h1.0v1.0h-1.0zM172.7 228.1h1.0v1.0h-1.0zM167.5 223.0h1.0v1.0h-1.0zM178.8 221.0h1.0v1.0h-1.0zM167.7 226.4h1.0v1.0h-1.0zM171.8 222.6h1.0v1.0h-1.0zM166.3 230.0h1.0v1.0h-1.0zM164.7 225.5h1.0v1.0h-1.0zM164.8 226.2h1.0v1.0h-1.0zM169.4 221.3h1.0v1.0h-1.0zM168.1 223.8h1.0v1.0h-1.0zM180.4 223.5h1.0v1.0h-1.0zM163.2 225.9h1.0v1.0h-1.0zM176.5 225.0h1.0v1.0h-1.0zM172.0 222.4h1.0v1.0h-1.0zM174.7 225.8h1.0v1.0h-1.0zM168.0 222.5h1.0v1.0h-1.0zM164.8 225.9h1.0v1.0h-1.0zM169.7 223.6h1.0v1.0h-1.0zM164.7 226.0h1.0v1.0h-1.0zM174.1 222.1h1.0v1.0h-1.0zM179.5 225.4h1.0v1.0h-1.0zM173.4 222.0h1.0v1.0h-1.0zM170.2 225.0h1.0v1.0h-1.0zM178.3 222.1h1.0v1.0h-1.0zM171.5 226.6h1.0v1.0h-1.0zM164.7 223.9h1.0v1.0h-1.0zM173.7 222.5h1.0v1.0h-1.0zM169.6 222.3h1.0v1.0h-1.0zM171.8 222.6h1.0v1.0h-1.0zM175.6 221.8h1.0v1.0h-1.0zM170.9 223.1h1.0v1.0h-1.0zM166.9 221.9h1.0v1.0h-1.0zM170.4 225.7h1.0v1.0h-1.0zM175.3 221.5h1.0v1.0h-1.0zM165.8 223.7h1.0v1.0h-1.0zM177.0 224.8h1.0v1.0h-1.0zM169.6 221.4h1.0v1.0h-1.0zM174.7 227.7h1.0v1.0h-1.0zM178.0 222.1h1.0v1.0h-1.0zM176.6 226.2h1.0v1.0h-1.0zM178.9 225.1h1.0v1.0h-1.0zM175.5 231.2h1.0v1.0h-1.0zM168.9 229.3h1.0v1.0h-1.0zM173.7 221.2h1.0v1.0h-1.0zM175.4 221.2h1.0v1.0h-1.0zM176.5 223.2h1.0v1.0h-1.0zM170.1 224.2h1.0v1.0h-1.0zM171.8 221.0h1.0v1.0h-1.0zM167.5 222.6h1.0v1.0h-1.0zM165.8 226.8h1.0v1.0h-1.0zM168.4 222.7h1.0v1.0h-1.0zM177.2 221.9h1.0v1.0h-1.0zM170.4 223.7h1.0v1.0h-1.0zM168.7 226.3h1.0v1.0h-1.0zM173.1 226.8h1.0v1.0h-1.0zM175.9 226.9h1.0v1.0h-1.0zM168.9 228.3h1.0v1.0h-1.0zM168.3 224.3h1.0v1.0h-1.0zM173.6 227.0h1.0v1.0h-1.0zM171.8 225.7h1.0v1.0h-1.0zM173.8 224.7h1.0v1.0h-1.0zM176.1 228.6h1.0v1.0h-1.0zM169.5 222.0h1.0v1.0h-1.0zM172.2 230.0h1.0v1.0h-1.0zM162.9 223.9h1.0v1.0h-1.0zM170.7 221.9h1.0v1.0h-1.0zM175.4 227.1h1.0v1.0h-1.0zM180.4 222.3h1.0v1.0h-1.0zM164.3 223.1h1.0v1.0h-1.0zM171.9 224.6h1.0v1.0h-1.0zM168.3 221.4h1.0v1.0h-1.0zM167.1 224.8h1.0v1.0h-1.0zM174.0 224.4h1.0v1.0h-1.0zM168.8 223.5h1.0v1.0h-1.0zM178.8 221.1h1.0v1.0h-1.0zM178.3 221.5h1.0v1.0h-1.0zM167.9 222.9h1.0v1.0h-1.0zM180.4 222.4h1.0v1.0h-1.0zM166.8 226.6h1.0v1.0h-1.0zM179.2 222.2h1.0v1.0h-1.0zM173.5 229.9h1.0v1.0h-1.0zM172.9 222.8h1.0v1.0h-1.0zM176.2 221.5h1.0v1.0h-1.0zM165.6 224.0h1.0v1.0h-1.0zM179.7 222.4h1.0v1.0h-1.0zM178.1 221.0h1.0v1.0h-1.0zM168.3 225.6h1.0v1.0h-1.0zM165.8 229.0h1.0v1.0h-1.0zM166.5 226.8h1.0v1.0h-1.0zM180.6 221.7h1.0v1.0h-1.0zM167.1 223.1h1.0v1.0h-1.0zM164.5 223.5h1.0v1.0h-1.0zM165.7 221.2h1.0v1.0h-1.0zM171.4 224.6h1.0v1.0h-1.0zM177.8 223.2h1.0v1.0h-1.0zM165.6 223.0h1.0v1.0h-1.0zM175.5 224.4h1.0v1.0h-1.0zM178.3 222.8h1.0v1.0h-1.0zM165.5 222.8h1.0v1.0h-1.0zM169.8 223.5h1.0v1.0h-1.0zM165.5 228.0h1.0v1.0h-1.0zM174.1 224.8h1.0v1.0h-1.0zM164.6 221.9h1.0v1.0h-1.0zM170.8 221.3h1.0v1.0h-1.0zM169.7 226.5h1.0v1.0h-1.0zM169.3 221.3h1.0v1.0h-1.0zM175.3 225.6h1.0v1.0h-1.0zM170.8 224.3h1.0v1.0h-1.0zM164.4 223.6h1.0v1.0h-1.0zM164.1 223.4h1.0v1.0h-1.0zM171.3 223.4h1.0v1.0h-1.0zM169.2 222.2h1.0v1.0h-1.0zM169.9 223.0h1.0v1.0h-1.0zM167.6 223.2h1.0v1.0h-1.0zM173.5 224.2h1.0v1.0h-1.0zM168.1 223.4h1.0v1.0h-1.0zM175.6 224.1h1.0v1.0h-1.0zM166.9 221.1h1.0v1.0h-1.0zM168.6 225.2h1.0v1.0h-1.0zM170.1 221.0h1.0v1.0h-1.0zM178.1 222.3h1.0v1.0h-1.0zM163.4 224.5h1.0v1.0h-1.0zM168.9 221.4h1.0v1.0h-1.0zM174.9 225.1h1.0v1.0h-1.0zM167.4 223.3h1.0v1.0h-1.0zM174.0 231.0h1.0v1.0h-1.0zM168.3 225.2h1.0v1.0h-1.0zM170.8 229.5h1.0v1.0h-1.0zM164.9 223.7h1.0v1.0h-1.0zM175.0 224.4h1.0v1.0h-1.0zM164.1 224.1h1.0v1.0h-1.0zM179.3 222.2h1.0v1.0h-1.0zM168.7 221.1h1.0v1.0h-1.0zM172.1 221.1h1.0v1.0h-1.0zM163.5 223.6h1.0v1.0h-1.0zM165.4 227.5h1.0v1.0h-1.0zM166.3 226.5h1.0v1.0h-1.0zM177.3 222.0h1.0v1.0h-1.0zM170.8 225.4h1.0v1.0h-1.0zM177.9 221.8h1.0v1.0h-1.0zM165.4 225.2h1.0v1.0h-1.0zM173.0 228.5h1.0v1.0h-1.0zM176.1 225.2h1.0v1.0h-1.0zM177.9 221.5h1.0v1.0h-1.0zM170.3 223.5h1.0v1.0h-1.0zM167.0 227.9h1.0v1.0h-1.0zM178.0 227.0h1.0v1.0h-1.0zM177.7 222.7h1.0v1.0h-1.0zM173.7 221.4h1.0v1.0h-1.0zM170.9 222.1h1.0v1.0h-1.0zM168.0 227.9h1.0v1.0h-1.0zM173.6 227.2h1.0v1.0h-1.0zM166.4 221.1h1.0v1.0h-1.0zM178.7 221.2h1.0v1.0h-1.0zM167.4 224.4h1.0v1.0h-1.0zM175.8 225.9h1.0v1.0h-1.0zM172.3 225.1h1.0v1.0h-1.0zM174.6 224.6h1.0v1.0h-1.0zM167.3 225.2h1.0v1.0h-1.0zM165.8 225.9h1.0v1.0h-1.0zM177.2 222.3h1.0v1.0h-1.0zM177.3 223.8h1.0v1.0h-1.0zM171.5 224.0h1.0v1.0h-1.0zM168.5 225.1h1.0v1.0h-1.0zM171.3 224.0h1.0v1.0h-1.0zM168.9 224.1h1.0v1.0h-1.0zM168.4 223.5h1.0v1.0h-1.0zM171.9 225.1h1.0v1.0h-1.0zM172.4 229.1h1.0v1.0h-1.0zM169.3 222.0h1.0v1.0h-1.0zM174.8 223.6h1.0v1.0h-1.0zM172.9 222.9h1.0v1.0h-1.0zM168.8 225.7h1.0v1.0h-1.0zM172.2 228.7h1.0v1.0h-1.0zM176.7 223.5h1.0v1.0h-1.0zM167.1 223.8h1.0v1.0h-1.0zM165.7 226.8h1.0v1.0h-1.0zM164.9 222.0h1.0v1.0h-1.0zM170.3 222.5h1.0v1.0h-1.0zM180.6 222.5h1.0v1.0h-1.0zM176.9 225.0h1.0v1.0h-1.0zM165.8 225.6h1.0v1.0h-1.0zM178.1 221.9h1.0v1.0h-1.0zM163.1 221.5h1.0v1.0h-1.0zM167.3 224.3h1.0v1.0h-1.0zM170.7 223.0h1.0v1.0h-1.0zM173.6 223.9h1.0v1.0h-1.0zM179.1 222.6h1.0v1.0h-1.0zM169.2 224.6h1.0v1.0h-1.0zM163.4 226.3h1.0v1.0h-1.0zM163.3 223.2h1.0v1.0h-1.0zM178.8 224.4h1.0v1.0h-1.0zM163.2 222.5h1.0v1.0h-1.0zM181.1 221.1h1.0v1.0h-1.0zM169.2 222.8h1.0v1.0h-1.0zM178.4 222.4h1.0v1.0h-1.0zM164.8 225.5h1.0v1.0h-1.0zM169.7 221.3h1.0v1.0h-1.0zM165.6 226.5h1.0v1.0h-1.0zM179.2 222.6h1.0v1.0h-1.0zM165.9 222.8h1.0v1.0h-1.0zM165.0 222.3h1.0v1.0h-1.0zM177.6 221.2h1.0v1.0h-1.0zM173.7 221.4h1.0v1.0h-1.0zM167.5 223.3h1.0v1.0h-1.0zM168.8 221.6h1.0v1.0h-1.0zM168.2 224.5h1.0v1.0h-1.0zM170.4 221.2h1.0v1.0h-1.0zM167.4 229.4h1.0v1.0h-1.0zM164.1 228.1h1.0v1.0h-1.0zM166.4 222.3h1.0v1.0h-1.0zM165.6 223.9h1.0v1.0h-1.0zM180.6 223.4h1.0v1.0h-1.0zM165.3 226.1h1.0v1.0h-1.0zM172.6 221.5h1.0v1.0h-1.0zM162.9 222.4h1.0v1.0h-1.0zM162.7 223.5h1.0v1.0h-1.0zM169.9 230.8h1.0v1.0h-1.0zM167.1 223.1h1.0v1.0h-1.0zM175.7 227.7h1.0v1.0h-1.0zM167.9 227.3h1.0v1.0h-1.0zM177.1 227.1h1.0v1.0h-1.0zM175.7 223.9h1.0v1.0h-1.0zM168.7 223.6h1.0v1.0h-1.0zM167.2 226.9h1.0v1.0h-1.0zM165.6 222.7h1.0v1.0h-1.0zM167.7 221.9h1.0v1.0h-1.0zM175.0 224.5h1.0v1.0h-1.0zM172.6 229.1h1.0v1.0h-1.0zM169.5 224.6h1.0v1.0h-1.0zM165.2 227.3h1.0v1.0h-1.0zM172.0 223.0h1.0v1.0h-1.0zM167.5 225.0h1.0v1.0h-1.0zM166.2 225.3h1.0v1.0h-1.0zM162.9 221.5h1.0v1.0h-1.0zM177.7 225.7h1.0v1.0h-1.0zM163.7 225.1h1.0v1.0h-1.0zM164.3 221.5h1.0v1.0h-1.0zM167.0 223.7h1.0v1.0h-1.0zM175.1 226.0h1.0v1.0h-1.0zM176.3 221.1h1.0v1.0h-1.0zM180.4 223.9h1.0v1.0h-1.0zM165.3 224.3h1.0v1.0h-1.0zM170.7 224.8h1.0v1.0h-1.0zM177.4 223.9h1.0v1.0h-1.0zM171.9 223.9h1.0v1.0h-1.0zM172.9 223.5h1.0v1.0h-1.0zM168.6 225.3h1.0v1.0h-1.0zM174.2 222.6h1.0v1.0h-1.0zM165.7 223.4h1.0v1.0h-1.0zM163.3 221.8h1.0v1.0h-1.0zM163.4 224.1h1.0v1.0h-1.0zM168.6 226.2h1.0v1.0h-1.0zM176.0 229.7h1.0v1.0h-1.0zM171.5 224.8h1.0v1.0h-1.0zM169.7 222.4h1.0v1.0h-1.0zM167.9 225.9h1.0v1.0h-1.0zM176.0 222.1h1.0v1.0h-1.0zM176.8 230.5h1.0v1.0h-1.0zM178.6 223.8h1.0v1.0h-1.0zM162.8 223.4h1.0v1.0h-1.0zM176.2 227.0h1.0v1.0h-1.0zM172.5 227.6h1.0v1.0h-1.0zM168.5 228.6h1.0v1.0h-1.0zM167.5 224.3h1.0v1.0h-1.0zM175.2 222.2h1.0v1.0h-1.0zM178.0 225.9h1.0v1.0h-1.0zM165.3 224.7h1.0v1.0h-1.0zM165.7 223.9h1.0v1.0h-1.0zM167.1 221.3h1.0v1.0h-1.0zM170.4 222.7h1.0v1.0h-1.0zM177.4 225.4h1.0v1.0h-1.0zM168.2 222.0h1.0v1.0h-1.0zM167.8 224.0h1.0v1.0h-1.0zM174.2 224.6h1.0v1.0h-1.0zM172.1 228.6h1.0v1.0h-1.0zM175.5 225.0h1.0v1.0h-1.0zM166.0 226.2h1.0v1.0h-1.0zM162.7 221.8h1.0v1.0h-1.0zM165.3 224.3h1.0v1.0h-1.0zM174.5 223.8h1.0v1.0h-1.0zM172.5 226.1h1.0v1.0h-1.0zM171.7 223.6h1.0v1.0h-1.0zM164.4 221.2h1.0v1.0h-1.0zM165.0 229.5h1.0v1.0h-1.0zM176.2 224.5h1.0v1.0h-1.0zM165.0 221.5h1.0v1.0h-1.0zM165.8 229.0h1.0v1.0h-1.0zM176.6 223.3h1.0v1.0h-1.0zM178.8 224.1h1.0v1.0h-1.0zM167.4 223.6h1.0v1.0h-1.0zM164.2 223.4h1.0v1.0h-1.0zM171.1 224.2h1.0v1.0h-1.0zM179.0 224.2h1.0v1.0h-1.0zM179.8 222.0h1.0v1.0h-1.0zM172.0 231.9h1.0v1.0h-1.0zM175.7 225.9h1.0v1.0h-1.0zM178.3 222.9h1.0v1.0h-1.0zM167.3 222.6h1.0v1.0h-1.0zM174.2 222.8h1.0v1.0h-1.0zM178.0 221.2h1.0v1.0h-1.0zM180.5 221.2h1.0v1.0h-1.0zM163.3 224.6h1.0v1.0h-1.0zM178.8 222.0h1.0v1.0h-1.0zM176.1 222.8h1.0v1.0h-1.0zM171.3 226.9h1.0v1.0h-1.0zM176.0 223.0h1.0v1.0h-1.0zM165.9 226.0h1.0v1.0h-1.0zM178.9 226.5h1.0v1.0h-1.0zM165.0 222.7h1.0v1.0h-1.0zM176.9 222.1h1.0v1.0h-1.0zM167.6 224.0h1.0v1.0h-1.0zM178.6 222.4h1.0v1.0h-1.0zM172.2 221.8h1.0v1.0h-1.0zM174.2 222.4h1.0v1.0h-1.0zM162.6 223.6h1.0v1.0h-1.0zM171.0 227.7h1.0v1.0h-1.0zM168.0 221.7h1.0v1.0h-1.0zM178.3 221.1h1.0v1.0h-1.0zM166.5 225.9h1.0v1.0h-1.0zM177.4 223.5h1.0v1.0h-1.0zM164.8 222.2h1.0v1.0h-1.0zM173.4 228.9h1.0v1.0h-1.0zM163.2 226.3h1.0v1.0h-1.0zM178.4 226.6h1.0v1.0h-1.0zM167.1 225.2h1.0v1.0h-1.0zM171.3 222.5h1.0v1.0h-1.0zM165.7 227.8h1.0v1.0h-1.0zM165.7 221.3h1.0v1.0h-1.0zM166.6 224.2h1.0v1.0h-1.0zM169.1 221.5h1.0v1.0h-1.0zM176.3 223.5h1.0v1.0h-1.0zM164.9 221.2h1.0v1.0h-1.0zM171.8 226.6h1.0v1.0h-1.0zM169.3 223.6h1.0v1.0h-1.0zM173.1 225.4h1.0v1.0h-1.0zM178.6 223.4h1.0v1.0h-1.0zM167.5 222.4h1.0v1.0h-1.0zM163.1 223.0h1.0v1.0h-1.0zM167.0 224.4h1.0v1.0h-1.0zM166.6 221.4h1.0v1.0h-1.0zM172.1 223.0h1.0v1.0h-1.0zM170.1 223.9h1.0v1.0h-1.0zM171.9 224.8h1.0v1.0h-1.0zM171.4 225.4h1.0v1.0h-1.0zM168.6 221.6h1.0v1.0h-1.0zM168.9 223.6h1.0v1.0h-1.0zM165.1 224.0h1.0v1.0h-1.0zM168.8 224.6h1.0v1.0h-1.0zM165.0 227.2h1.0v1.0h-1.0zM165.8 224.1h1.0v1.0h-1.0zM176.0 224.9h1.0v1.0h-1.0zM179.9 221.7h1.0v1.0h-1.0zM174.7 221.6h1.0v1.0h-1.0zM171.3 224.8h1.0v1.0h-1.0zM174.9 221.8h1.0v1.0h-1.0zM178.0 223.3h1.0v1.0h-1.0zM176.3 223.1h1.0v1.0h-1.0zM171.7 221.9h1.0v1.0h-1.0zM175.5 226.4h1.0v1.0h-1.0zM174.1 222.4h1.0v1.0h-1.0zM167.3 223.3h1.0v1.0h-1.0zM177.5 225.6h1.0v1.0h-1.0zM173.2 223.3h1.0v1.0h-1.0zM181.3 221.2h1.0v1.0h-1.0zM176.9 222.6h1.0v1.0h-1.0zM169.9 221.9h1.0v1.0h-1.0zM166.2 229.8h1.0v1.0h-1.0zM180.1 221.7h1.0v1.0h-1.0zM176.4 221.1h1.0v1.0h-1.0zM164.6 222.3h1.0v1.0h-1.0zM169.9 225.4h1.0v1.0h-1.0zM174.8 222.8h1.0v1.0h-1.0zM162.8 223.3h1.0v1.0h-1.0zM175.9 223.6h1.0v1.0h-1.0zM165.3 223.6h1.0v1.0h-1.0zM179.6 223.0h1.0v1.0h-1.0zM176.8 221.8h1.0v1.0h-1.0zM166.7 226.5h1.0v1.0h-1.0zM163.0 223.9h1.0v1.0h-1.0zM177.9 222.5h1.0v1.0h-1.0zM173.2 223.3h1.0v1.0h-1.0zM167.0 221.1h1.0v1.0h-1.0zM165.3 221.7h1.0v1.0h-1.0zM162.9 221.5h1.0v1.0h-1.0zM168.9 221.2h1.0v1.0h-1.0zM167.6 230.8h1.0v1.0h-1.0zM167.7 223.1h1.0v1.0h-1.0zM167.6 222.3h1.0v1.0h-1.0zM168.6 226.1h1.0v1.0h-1.0zM166.7 221.2h1.0v1.0h-1.0zM165.2 221.1h1.0v1.0h-1.0zM178.6 223.3h1.0v1.0h-1.0zM167.7 226.4h1.0v1.0h-1.0zM170.9 224.2h1.0v1.0h-1.0zM175.0 229.0h1.0v1.0h-1.0zM170.4 225.0h1.0v1.0h-1.0zM163.4 221.2h1.0v1.0h-1.0zM174.4 225.5h1.0v1.0h-1.0zM177.7 223.3h1.0v1.0h-1.0zM178.1 223.2h1.0v1.0h-1.0zM179.1 221.2h1.0v1.0h-1.0zM171.8 221.7h1.0v1.0h-1.0zM164.0 222.8h1.0v1.0h-1.0zM180.6 222.7h1.0v1.0h-1.0zM174.1 226.8h1.0v1.0h-1.0zM175.6 223.0h1.0v1.0h-1.0z" fill="#0d0d0d" fill-opacity="0.92"/>
<path d="M161.4 191.2h1.0v1.0h-1.0zM175.0 180.0h1.0v1.0h-1.0zM163.5 181.7h1.0v1.0h-1.0zM172.2 190.3h1.0v1.0h-1.0zM174.5 191.6h1.0v1.0h-1.0zM164.9 193.8h1.0v1.0h-1.0zM174.8 194.6h1.0v1.0h-1.0zM173.4 190.7h1.0v1.0h-1.0zM174.5 190.0h1.0v1.0h-1.0zM173.8 194.5h1.0v1.0h-1.0zM167.7 193.9h1.0v1.0h-1.0zM174.3 184.7h1.0v1.0h-1.0zM170.0 193.5h1.0v1.0h-1.0zM164.9 191.2h1.0v1.0h-1.0zM173.5 193.6h1.0v1.0h-1.0zM177.2 194.2h1.0v1.0h-1.0zM176.9 194.5h1.0v1.0h-1.0zM164.3 190.0h1.0v1.0h-1.0zM163.1 190.4h1.0v1.0h-1.0zM173.8 194.5h1.0v1.0h-1.0zM175.0 192.4h1.0v1.0h-1.0zM168.5 188.4h1.0v1.0h-1.0zM171.4 192.2h1.0v1.0h-1.0zM169.5 193.1h1.0v1.0h-1.0zM169.5 191.4h1.0v1.0h-1.0zM169.4 193.4h1.0v1.0h-1.0zM164.7 186.8h1.0v1.0h-1.0zM166.3 194.6h1.0v1.0h-1.0zM170.7 188.8h1.0v1.0h-1.0zM170.3 190.3h1.0v1.0h-1.0zM173.2 193.7h1.0v1.0h-1.0zM166.2 186.8h1.0v1.0h-1.0zM166.2 187.2h1.0v1.0h-1.0zM171.3 187.5h1.0v1.0h-1.0zM163.1 192.7h1.0v1.0h-1.0zM161.6 192.4h1.0v1.0h-1.0zM170.4 184.7h1.0v1.0h-1.0zM162.0 193.2h1.0v1.0h-1.0zM170.7 194.4h1.0v1.0h-1.0zM175.8 193.3h1.0v1.0h-1.0zM173.3 178.7h1.0v1.0h-1.0zM162.2 190.2h1.0v1.0h-1.0zM166.6 192.6h1.0v1.0h-1.0zM163.2 185.3h1.0v1.0h-1.0zM175.5 188.1h1.0v1.0h-1.0z" fill="#222" fill-opacity="0.85"/>
</g>
<path d="M42.9 35.1 V116.4" stroke="#3a3a3a" stroke-width="1.4" stroke-dasharray="1.4 0.8 2 0.6"/>
<rect x="44.1" y="42.1" width="2.5" height="74.30000000000001" fill="#e2e2e2"/>
<path d="M43.6 118.5 H128.4" stroke="#444" stroke-width="1.4" stroke-dasharray="2.2 0.9 1.4 1.2 3 0.8"/>
<path d="M130.60000000000002 35.2 V116.4" stroke="#3a3a3a" stroke-width="1.4" stroke-dasharray="1.4 0.8 2 0.6"/>
<rect x="131.8" y="42.2" width="2.5" height="74.2" fill="#e2e2e2"/>
<path d="M131.3 118.5 H216.0" stroke="#444" stroke-width="1.4" stroke-dasharray="2.2 0.9 1.4 1.2 3 0.8"/>
<path d="M43.3 152 V232.5" stroke="#3a3a3a" stroke-width="1.4" stroke-dasharray="1.4 0.8 2 0.6"/>
<rect x="44.5" y="159" width="2.5" height="73.5" fill="#e2e2e2"/>
<path d="M44 234.6 H128.5" stroke="#444" stroke-width="1.4" stroke-dasharray="2.2 0.9 1.4 1.2 3 0.8"/>
<path d="M131.3 152 V232.5" stroke="#3a3a3a" stroke-width="1.4" stroke-dasharray="1.4 0.8 2 0.6"/>
<rect x="132.5" y="159" width="2.5" height="73.5" fill="#e2e2e2"/>
<path d="M132 234.6 H216.3" stroke="#444" stroke-width="1.4" stroke-dasharray="2.2 0.9 1.4 1.2 3 0.8"/>
<rect x="43.6" y="32.1" width="84.80000000000001" height="84.30000000000001" fill="none" stroke="#606060" stroke-width="1.15"/>
<rect x="131.3" y="32.2" width="84.69999999999999" height="84.2" fill="none" stroke="#606060" stroke-width="1.15"/>
<rect x="44" y="149" width="84.5" height="83.5" fill="none" stroke="#606060" stroke-width="1.15"/>
<rect x="132" y="149" width="84.30000000000001" height="83.5" fill="none" stroke="#606060" stroke-width="1.15"/>
<rect x="93.5" y="42.3" width="31.799999999999997" height="35.0" fill="none" stroke="#111" stroke-width="1.2"/>
<rect x="181.2" y="42.3" width="32.400000000000006" height="35.3" fill="none" stroke="#111" stroke-width="1.2"/>
<rect x="79.3" y="159.5" width="35.10000000000001" height="34.80000000000001" fill="none" stroke="#111" stroke-width="1.2"/>
<rect x="161.3" y="159.9" width="35.19999999999999" height="34.29999999999998" fill="none" stroke="#111" stroke-width="1.2"/>
<text x="109.00" y="40.00" font-size="9.7" font-weight="normal" text-anchor="middle" fill="#111" stroke="#111" stroke-width="0.18" >17.7</text>
<text x="196.70" y="40.40" font-size="9.7" font-weight="normal" text-anchor="middle" fill="#111" stroke="#111" stroke-width="0.18" >89.5</text>
<text x="97.40" y="157.60" font-size="9.6" font-weight="normal" text-anchor="middle" fill="#111" stroke="#111" stroke-width="0.18" >0.1</text>
<text x="180.50" y="157.60" font-size="9.6" font-weight="normal" text-anchor="middle" fill="#111" stroke="#111" stroke-width="0.18" >0.7</text>
<rect x="39.6" y="36.0" width="2.7" height="78.7" fill="#0a0a0a"/>
<path d="M40.9 32.0 L42.9 36.6 L38.7 36.6Z" fill="#111"/>
<rect x="41" y="119.89999999999999" width="175" height="2.8" fill="#111"/>
<path d="M220.5 121.3 L215.8 118.8 L215.8 123.8Z" fill="#111"/>
<rect x="39.6" y="157.5" width="2.7" height="78.0" fill="#0a0a0a"/>
<path d="M40.9 153.5 L42.9 158.1 L38.7 158.1Z" fill="#111"/>
<rect x="41" y="236.0" width="175" height="2.8" fill="#111"/>
<path d="M220.5 237.4 L215.8 234.9 L215.8 239.9Z" fill="#111"/>
<text x="255.90" y="10.60" font-size="14" font-weight="bold" text-anchor="start" fill="#111" stroke="#111" stroke-width="0.25" >B</text>
<path d="M296.90 87.26 L304.09 76.72 L322.05 47.30 L329.24 28.99 L347.20 18.44 L372.35 32.99 L397.50 29.32 L410.07 19.55 L447.80 19.22 L501.00 20.89" fill="none" stroke="#0a0a0a" stroke-width="2.5" stroke-linejoin="round"/>
<rect x="450.80" y="15.00" width="11.00" height="8" fill="#fff"/>
<path d="M296.90 115.57 L304.09 97.81 L322.05 96.70 L329.24 32.32 L347.20 27.55 L372.35 58.18 L397.50 40.31 L410.07 33.87 L447.80 41.98 L501.00 57.85" fill="none" stroke="#0a0a0a" stroke-width="2.5" stroke-linejoin="round"/>
<path d="M296.90 113.91 L304.09 97.81 L322.05 107.80 L329.24 53.41 L347.20 46.75 L372.35 65.18 L397.50 59.29 L410.07 63.40 L447.80 58.40 L501.00 66.40" fill="none" stroke="#0a0a0a" stroke-width="2.5" stroke-linejoin="round"/>
<path d="M296.90 121.12 L304.09 115.57 L322.05 98.92 L329.24 55.63 L347.20 44.53 L372.35 83.49 L397.50 72.50 L410.07 79.50 L447.80 83.94 L501.00 60.96" fill="none" stroke="#0a0a0a" stroke-width="2.5" stroke-linejoin="round"/>
<rect x="461.8" y="15.999999999999986" width="6" height="112.00000000000001" fill="#fff"/>
<rect x="294.80" y="85.16" width="4.2" height="4.2" fill="none" stroke="#0a0a0a" stroke-width="1.5"/>
<rect x="301.99" y="74.62" width="4.2" height="4.2" fill="none" stroke="#0a0a0a" stroke-width="1.5"/>
<rect x="319.95" y="45.20" width="4.2" height="4.2" fill="none" stroke="#0a0a0a" stroke-width="1.5"/>
<rect x="327.14" y="26.89" width="4.2" height="4.2" fill="none" stroke="#0a0a0a" stroke-width="1.5"/>
<rect x="345.10" y="16.34" width="4.2" height="4.2" fill="none" stroke="#0a0a0a" stroke-width="1.5"/>
<rect x="370.25" y="30.89" width="4.2" height="4.2" fill="none" stroke="#0a0a0a" stroke-width="1.5"/>
<rect x="395.40" y="27.22" width="4.2" height="4.2" fill="none" stroke="#0a0a0a" stroke-width="1.5"/>
<rect x="407.97" y="17.45" width="4.2" height="4.2" fill="none" stroke="#0a0a0a" stroke-width="1.5"/>
<rect x="445.70" y="17.12" width="4.2" height="4.2" fill="none" stroke="#0a0a0a" stroke-width="1.5"/>
<rect x="498.90" y="18.79" width="4.2" height="4.2" fill="none" stroke="#0a0a0a" stroke-width="1.5"/>
<path d="M296.90 118.57 L299.90 113.37 L293.90 113.37Z" fill="#0a0a0a"/>
<path d="M304.09 100.81 L307.09 95.61 L301.09 95.61Z" fill="#0a0a0a"/>
<path d="M322.05 99.70 L325.05 94.50 L319.05 94.50Z" fill="#0a0a0a"/>
<path d="M329.24 35.32 L332.24 30.12 L326.24 30.12Z" fill="#0a0a0a"/>
<path d="M347.20 30.55 L350.20 25.35 L344.20 25.35Z" fill="#0a0a0a"/>
<path d="M372.35 61.18 L375.35 55.98 L369.35 55.98Z" fill="#0a0a0a"/>
<path d="M397.50 43.31 L400.50 38.11 L394.50 38.11Z" fill="#0a0a0a"/>
<path d="M410.07 36.87 L413.07 31.67 L407.07 31.67Z" fill="#0a0a0a"/>
<path d="M447.80 44.98 L450.80 39.78 L444.80 39.78Z" fill="#0a0a0a"/>
<path d="M501.00 60.85 L504.00 55.65 L498.00 55.65Z" fill="#0a0a0a"/>
<path d="M296.90 110.91 L299.90 116.11 L293.90 116.11Z" fill="#0a0a0a"/>
<path d="M304.09 94.81 L307.09 100.01 L301.09 100.01Z" fill="#0a0a0a"/>
<path d="M322.05 104.80 L325.05 110.00 L319.05 110.00Z" fill="#0a0a0a"/>
<path d="M329.24 50.41 L332.24 55.61 L326.24 55.61Z" fill="#0a0a0a"/>
<path d="M347.20 43.75 L350.20 48.95 L344.20 48.95Z" fill="#0a0a0a"/>
<path d="M372.35 62.18 L375.35 67.38 L369.35 67.38Z" fill="#0a0a0a"/>
<path d="M397.50 56.29 L400.50 61.49 L394.50 61.49Z" fill="#0a0a0a"/>
<path d="M410.07 60.40 L413.07 65.60 L407.07 65.60Z" fill="#0a0a0a"/>
<path d="M447.80 55.40 L450.80 60.60 L444.80 60.60Z" fill="#0a0a0a"/>
<path d="M501.00 63.40 L504.00 68.60 L498.00 68.60Z" fill="#0a0a0a"/>
<circle cx="296.90" cy="121.12" r="2.7" fill="#0a0a0a"/>
<circle cx="304.09" cy="115.57" r="2.7" fill="#0a0a0a"/>
<circle cx="322.05" cy="98.92" r="2.7" fill="#0a0a0a"/>
<circle cx="329.24" cy="55.63" r="2.7" fill="#0a0a0a"/>
<circle cx="347.20" cy="44.53" r="2.7" fill="#0a0a0a"/>
<circle cx="372.35" cy="83.49" r="2.7" fill="#0a0a0a"/>
<circle cx="397.50" cy="72.50" r="2.7" fill="#0a0a0a"/>
<circle cx="410.07" cy="79.50" r="2.7" fill="#0a0a0a"/>
<circle cx="447.80" cy="83.94" r="2.7" fill="#0a0a0a"/>
<circle cx="501.00" cy="60.96" r="2.7" fill="#0a0a0a"/>
<path d="M296.9 18.999999999999986 V130" stroke="#0a0a0a" stroke-width="2.3" fill="none"/>
<path d="M292.3 130.00 H297" stroke="#0a0a0a" stroke-width="1.6"/>
<text x="292.60" y="132.90" font-size="8" font-weight="bold" text-anchor="end" fill="#111" stroke="#111" stroke-width="0.25" >0</text>
<path d="M292.3 107.80 H297" stroke="#0a0a0a" stroke-width="1.6"/>
<text x="292.60" y="110.70" font-size="8" font-weight="bold" text-anchor="end" fill="#111" stroke="#111" stroke-width="0.25" >20</text>
<path d="M292.3 85.60 H297" stroke="#0a0a0a" stroke-width="1.6"/>
<text x="292.60" y="88.50" font-size="8" font-weight="bold" text-anchor="end" fill="#111" stroke="#111" stroke-width="0.25" >40</text>
<path d="M292.3 63.40 H297" stroke="#0a0a0a" stroke-width="1.6"/>
<text x="292.60" y="66.30" font-size="8" font-weight="bold" text-anchor="end" fill="#111" stroke="#111" stroke-width="0.25" >60</text>
<path d="M292.3 41.20 H297" stroke="#0a0a0a" stroke-width="1.6"/>
<text x="292.60" y="44.10" font-size="8" font-weight="bold" text-anchor="end" fill="#111" stroke="#111" stroke-width="0.25" >80</text>
<path d="M292.3 19.00 H297" stroke="#0a0a0a" stroke-width="1.6"/>
<text x="292.60" y="21.90" font-size="8" font-weight="bold" text-anchor="end" fill="#111" stroke="#111" stroke-width="0.25" >100</text>
<path d="M296.9 130 H460.8 M468.5 130 H501.0" stroke="#0a0a0a" stroke-width="2.3" fill="none"/>
<path d="M460.8 128 V132 M468.5 128 V132" stroke="#0a0a0a" stroke-width="1.8" fill="none"/>
<path d="M296.90 130 V134.3" stroke="#0a0a0a" stroke-width="1.6"/>
<text x="296.90" y="141.80" font-size="8" font-weight="bold" text-anchor="middle" fill="#111" stroke="#111" stroke-width="0.25" >0</text>
<path d="M347.20 130 V134.3" stroke="#0a0a0a" stroke-width="1.6"/>
<text x="347.20" y="141.80" font-size="8" font-weight="bold" text-anchor="middle" fill="#111" stroke="#111" stroke-width="0.25" >2</text>
<path d="M397.50 130 V134.3" stroke="#0a0a0a" stroke-width="1.6"/>
<text x="397.50" y="141.80" font-size="8" font-weight="bold" text-anchor="middle" fill="#111" stroke="#111" stroke-width="0.25" >4</text>
<path d="M447.80 130 V134.3" stroke="#0a0a0a" stroke-width="1.6"/>
<text x="447.80" y="141.80" font-size="8" font-weight="bold" text-anchor="middle" fill="#111" stroke="#111" stroke-width="0.25" >6</text>
<path d="M484.30 130 V134.3" stroke="#0a0a0a" stroke-width="1.6"/>
<text x="484.30" y="141.80" font-size="8" font-weight="bold" text-anchor="middle" fill="#111" stroke="#111" stroke-width="0.25" >11</text>
<path d="M501.00 130 V134.3" stroke="#0a0a0a" stroke-width="1.6"/>
<text x="501.00" y="141.80" font-size="8" font-weight="bold" text-anchor="middle" fill="#111" stroke="#111" stroke-width="0.25" >12</text>
<path d="M296.90 262.40 L304.09 258.00 L322.05 259.65 L329.24 259.65 L347.20 261.30 L372.35 263.50 L397.50 260.20 L410.07 262.40 L447.80 261.30 L501.00 258.00" fill="none" stroke="#0a0a0a" stroke-width="2.5" stroke-linejoin="round"/>
<path d="M296.90 263.50 L304.09 261.30 L322.05 262.40 L329.24 262.40 L347.20 256.35 L372.35 263.50 L397.50 263.50 L410.07 261.30 L447.80 262.40 L501.00 256.90" fill="none" stroke="#0a0a0a" stroke-width="2.5" stroke-linejoin="round"/>
<path d="M296.90 261.30 L304.09 262.40 L322.05 263.50 L329.24 261.30 L347.20 260.20 L372.35 263.50 L397.50 262.40 L410.07 262.40 L447.80 263.50 L501.00 261.30" fill="none" stroke="#0a0a0a" stroke-width="2.5" stroke-linejoin="round"/>
<path d="M296.90 264.05 L304.09 263.50 L322.05 263.50 L329.24 263.50 L347.20 263.50 L372.35 264.05 L397.50 263.50 L410.07 263.50 L447.80 263.50 L501.00 263.50" fill="none" stroke="#0a0a0a" stroke-width="2.5" stroke-linejoin="round"/>
<rect x="461.8" y="151.60000000000002" width="6" height="111.00000000000001" fill="#fff"/>
<rect x="293.90" y="259.40" width="6" height="6" fill="#0a0a0a"/>
<rect x="301.09" y="255.00" width="6" height="6" fill="#0a0a0a"/>
<rect x="319.05" y="256.65" width="6" height="6" fill="#0a0a0a"/>
<rect x="326.24" y="256.65" width="6" height="6" fill="#0a0a0a"/>
<rect x="344.20" y="258.30" width="6" height="6" fill="#0a0a0a"/>
<rect x="369.35" y="260.50" width="6" height="6" fill="#0a0a0a"/>
<rect x="394.50" y="257.20" width="6" height="6" fill="#0a0a0a"/>
<rect x="407.07" y="259.40" width="6" height="6" fill="#0a0a0a"/>
<rect x="444.80" y="258.30" width="6" height="6" fill="#0a0a0a"/>
<rect x="498.00" y="255.00" width="6" height="6" fill="#0a0a0a"/>
<circle cx="296.90" cy="263.50" r="2.7" fill="#0a0a0a"/>
<circle cx="304.09" cy="261.30" r="2.7" fill="#0a0a0a"/>
<circle cx="322.05" cy="262.40" r="2.7" fill="#0a0a0a"/>
<circle cx="329.24" cy="262.40" r="2.7" fill="#0a0a0a"/>
<circle cx="347.20" cy="256.35" r="2.7" fill="#0a0a0a"/>
<circle cx="372.35" cy="263.50" r="2.7" fill="#0a0a0a"/>
<circle cx="397.50" cy="263.50" r="2.7" fill="#0a0a0a"/>
<circle cx="410.07" cy="261.30" r="2.7" fill="#0a0a0a"/>
<circle cx="447.80" cy="262.40" r="2.7" fill="#0a0a0a"/>
<circle cx="501.00" cy="256.90" r="2.7" fill="#0a0a0a"/>
<path d="M296.90 258.30 L299.90 263.50 L293.90 263.50Z" fill="#0a0a0a"/>
<path d="M304.09 259.40 L307.09 264.60 L301.09 264.60Z" fill="#0a0a0a"/>
<path d="M322.05 260.50 L325.05 265.70 L319.05 265.70Z" fill="#0a0a0a"/>
<path d="M329.24 258.30 L332.24 263.50 L326.24 263.50Z" fill="#0a0a0a"/>
<path d="M347.20 257.20 L350.20 262.40 L344.20 262.40Z" fill="#0a0a0a"/>
<path d="M372.35 260.50 L375.35 265.70 L369.35 265.70Z" fill="#0a0a0a"/>
<path d="M397.50 259.40 L400.50 264.60 L394.50 264.60Z" fill="#0a0a0a"/>
<path d="M410.07 259.40 L413.07 264.60 L407.07 264.60Z" fill="#0a0a0a"/>
<path d="M447.80 260.50 L450.80 265.70 L444.80 265.70Z" fill="#0a0a0a"/>
<path d="M501.00 258.30 L504.00 263.50 L498.00 263.50Z" fill="#0a0a0a"/>
<path d="M296.90 267.05 L299.90 261.85 L293.90 261.85Z" fill="#0a0a0a"/>
<path d="M304.09 266.50 L307.09 261.30 L301.09 261.30Z" fill="#0a0a0a"/>
<path d="M322.05 266.50 L325.05 261.30 L319.05 261.30Z" fill="#0a0a0a"/>
<path d="M329.24 266.50 L332.24 261.30 L326.24 261.30Z" fill="#0a0a0a"/>
<path d="M347.20 266.50 L350.20 261.30 L344.20 261.30Z" fill="#0a0a0a"/>
<path d="M372.35 267.05 L375.35 261.85 L369.35 261.85Z" fill="#0a0a0a"/>
<path d="M397.50 266.50 L400.50 261.30 L394.50 261.30Z" fill="#0a0a0a"/>
<path d="M410.07 266.50 L413.07 261.30 L407.07 261.30Z" fill="#0a0a0a"/>
<path d="M447.80 266.50 L450.80 261.30 L444.80 261.30Z" fill="#0a0a0a"/>
<path d="M501.00 266.50 L504.00 261.30 L498.00 261.30Z" fill="#0a0a0a"/>
<path d="M296.9 154.60000000000002 V264.6" stroke="#0a0a0a" stroke-width="2.3" fill="none"/>
<path d="M292.3 264.60 H297" stroke="#0a0a0a" stroke-width="1.6"/>
<text x="292.60" y="267.50" font-size="8" font-weight="bold" text-anchor="end" fill="#111" stroke="#111" stroke-width="0.25" >0</text>
<path d="M292.3 242.60 H297" stroke="#0a0a0a" stroke-width="1.6"/>
<text x="292.60" y="245.50" font-size="8" font-weight="bold" text-anchor="end" fill="#111" stroke="#111" stroke-width="0.25" >20</text>
<path d="M292.3 220.60 H297" stroke="#0a0a0a" stroke-width="1.6"/>
<text x="292.60" y="223.50" font-size="8" font-weight="bold" text-anchor="end" fill="#111" stroke="#111" stroke-width="0.25" >40</text>
<path d="M292.3 198.60 H297" stroke="#0a0a0a" stroke-width="1.6"/>
<text x="292.60" y="201.50" font-size="8" font-weight="bold" text-anchor="end" fill="#111" stroke="#111" stroke-width="0.25" >60</text>
<path d="M292.3 176.60 H297" stroke="#0a0a0a" stroke-width="1.6"/>
<text x="292.60" y="179.50" font-size="8" font-weight="bold" text-anchor="end" fill="#111" stroke="#111" stroke-width="0.25" >80</text>
<path d="M292.3 154.60 H297" stroke="#0a0a0a" stroke-width="1.6"/>
<text x="292.60" y="157.50" font-size="8" font-weight="bold" text-anchor="end" fill="#111" stroke="#111" stroke-width="0.25" >100</text>
<path d="M296.9 264.6 H460.8 M468.5 264.6 H501.0" stroke="#0a0a0a" stroke-width="2.3" fill="none"/>
<path d="M460.8 262.6 V266.6 M468.5 262.6 V266.6" stroke="#0a0a0a" stroke-width="1.8" fill="none"/>
<path d="M296.90 264.6 V268.90000000000003" stroke="#0a0a0a" stroke-width="1.6"/>
<text x="296.90" y="276.40" font-size="8" font-weight="bold" text-anchor="middle" fill="#111" stroke="#111" stroke-width="0.25" >0</text>
<path d="M347.20 264.6 V268.90000000000003" stroke="#0a0a0a" stroke-width="1.6"/>
<text x="347.20" y="276.40" font-size="8" font-weight="bold" text-anchor="middle" fill="#111" stroke="#111" stroke-width="0.25" >2</text>
<path d="M397.50 264.6 V268.90000000000003" stroke="#0a0a0a" stroke-width="1.6"/>
<text x="397.50" y="276.40" font-size="8" font-weight="bold" text-anchor="middle" fill="#111" stroke="#111" stroke-width="0.25" >4</text>
<path d="M447.80 264.6 V268.90000000000003" stroke="#0a0a0a" stroke-width="1.6"/>
<text x="447.80" y="276.40" font-size="8" font-weight="bold" text-anchor="middle" fill="#111" stroke="#111" stroke-width="0.25" >6</text>
<path d="M484.30 264.6 V268.90000000000003" stroke="#0a0a0a" stroke-width="1.6"/>
<text x="484.30" y="276.40" font-size="8" font-weight="bold" text-anchor="middle" fill="#111" stroke="#111" stroke-width="0.25" >11</text>
<path d="M501.00 264.6 V268.90000000000003" stroke="#0a0a0a" stroke-width="1.6"/>
<text x="501.00" y="276.40" font-size="8" font-weight="bold" text-anchor="middle" fill="#111" stroke="#111" stroke-width="0.25" >12</text>
<text x="398.70" y="292.00" font-size="8.9" font-weight="bold" text-anchor="middle" fill="#111" stroke="#111" stroke-width="0.25" >wk postinfection</text>
<text transform="translate(268.90,72.60) rotate(-90)" font-size="9.2" text-anchor="middle" fill="#222" stroke="#222" stroke-width="0.18">% β7-integrin+ pDC</text>
<text transform="translate(269.20,208.30) rotate(-90)" font-size="9.2" text-anchor="middle" fill="#222" stroke="#222" stroke-width="0.18">% β7-integrin+ mDC</text>
<text x="26.20" y="331.80" font-size="14" font-weight="bold" text-anchor="start" fill="#111" stroke="#111" stroke-width="0.25" >C</text>
<rect x="163.9" y="334.7" width="35.4" height="123.2" fill="#e6e6e6"/>
<text x="180.80" y="347.90" font-size="10.6" font-weight="normal" text-anchor="middle" fill="#1a1a1a" stroke="#1a1a1a" stroke-width="0.18" >ART</text>
<path d="M68.80 341.20 L127.36 349.39 L187.80 394.89" fill="none" stroke="#0a0a0a" stroke-width="2.1" stroke-dasharray="3.9 2.5"/>
<path d="M68.80 392.29 L127.36 351.60 L187.80 417.90" fill="none" stroke="#0a0a0a" stroke-width="2.1" stroke-dasharray="3.9 2.5"/>
<path d="M68.80 402.56 L127.36 363.30 L187.80 397.10" fill="none" stroke="#0a0a0a" stroke-width="2.1" stroke-dasharray="3.9 2.5"/>
<path d="M68.80 406.98 L127.36 371.10 L147.20 383.48" fill="none" stroke="#0a0a0a" stroke-width="2.1" stroke-dasharray="3.9 2.5"/>
<path d="M68.80 413.48 L127.36 383.19 L147.20 392.45" fill="none" stroke="#0a0a0a" stroke-width="2.1" stroke-dasharray="3.9 2.5"/>
<path d="M68.80 407.50 L127.36 386.70 L147.20 393.95" fill="none" stroke="#0a0a0a" stroke-width="2.1"/>
<path d="M127.36 386.70 L187.80 408.80" fill="none" stroke="#0a0a0a" stroke-width="2.1" stroke-dasharray="3.9 2.5" stroke-dashoffset="2"/>
<path d="M68.80 393.20 L127.36 388.52 L187.80 417.90" fill="none" stroke="#0a0a0a" stroke-width="2.1" stroke-dasharray="3.9 2.5"/>
<path d="M68.80 441.30 L127.36 416.60 L187.80 436.36" fill="none" stroke="#0a0a0a" stroke-width="2.1" stroke-dasharray="3.9 2.5"/>
<rect x="147.2" y="335" width="7" height="120" fill="#fff"/>
<path d="M68.80 337.40 L72.60 341.20 L68.80 345.00 L65.00 341.20Z" fill="#6a6a6a" stroke="#333" stroke-width="0.8"/>
<path d="M127.36 345.89 L130.66 351.89 L124.06 351.89Z" fill="#777" stroke="#333" stroke-width="0.8"/>
<path d="M187.80 391.39 L191.10 397.39 L184.50 397.39Z" fill="#777" stroke="#333" stroke-width="0.8"/>
<path d="M68.80 388.49 L72.60 392.29 L68.80 396.09 L65.00 392.29Z" fill="#6a6a6a" stroke="#333" stroke-width="0.8"/>
<path d="M127.36 348.10 L130.66 354.10 L124.06 354.10Z" fill="#777" stroke="#333" stroke-width="0.8"/>
<circle cx="187.80" cy="417.90" r="2.6" fill="#fff" stroke="#222" stroke-width="1.2"/>
<rect x="66.10" y="399.86" width="5.4" height="5.4" fill="#0a0a0a"/>
<circle cx="127.36" cy="363.30" r="3" fill="#0a0a0a"/>
<circle cx="187.80" cy="397.10" r="3" fill="#0a0a0a"/>
<rect x="66.10" y="404.28" width="5.4" height="5.4" fill="#0a0a0a"/>
<path d="M127.36 374.30 L130.56 368.70 L124.16 368.70Z" fill="#e0e0e0" stroke="#222" stroke-width="1.2"/>
<path d="M68.80 409.68 L72.60 413.48 L68.80 417.28 L65.00 413.48Z" fill="#6a6a6a" stroke="#333" stroke-width="0.8"/>
<rect x="124.76" y="380.59" width="5.2" height="5.2" fill="#777" stroke="#111" stroke-width="1"/><path d="M124.96 380.79 L129.76 385.59 M129.76 380.79 L124.96 385.59" stroke="#111" stroke-width="0.8"/>
<circle cx="68.80" cy="407.50" r="3" fill="#0a0a0a"/>
<circle cx="127.36" cy="386.70" r="3" fill="#0a0a0a"/>
<rect x="185.10" y="406.10" width="5.4" height="5.4" fill="#0a0a0a"/>
<circle cx="68.80" cy="393.20" r="2.6" fill="#fff" stroke="#222" stroke-width="1.2"/>
<circle cx="127.36" cy="388.52" r="2.6" fill="#fff" stroke="#222" stroke-width="1.2"/>
<circle cx="187.80" cy="417.90" r="2.6" fill="#fff" stroke="#222" stroke-width="1.2"/>
<rect x="66.10" y="438.60" width="5.4" height="5.4" fill="#0a0a0a"/>
<rect x="124.66" y="413.90" width="5.4" height="5.4" fill="#0a0a0a"/>
<rect x="185.10" y="433.66" width="5.4" height="5.4" fill="#0a0a0a"/>
<path d="M68.8 330.8 V460.8" stroke="#0a0a0a" stroke-width="2.3" fill="none"/>
<path d="M64.0 460.80 H68.8" stroke="#0a0a0a" stroke-width="1.6"/>
<text x="64.00" y="463.70" font-size="8" font-weight="bold" text-anchor="end" fill="#111" stroke="#111" stroke-width="0.25" >0</text>
<path d="M64.0 434.80 H68.8" stroke="#0a0a0a" stroke-width="1.6"/>
<text x="64.00" y="437.70" font-size="8" font-weight="bold" text-anchor="end" fill="#111" stroke="#111" stroke-width="0.25" >20</text>
<path d="M64.0 408.80 H68.8" stroke="#0a0a0a" stroke-width="1.6"/>
<text x="64.00" y="411.70" font-size="8" font-weight="bold" text-anchor="end" fill="#111" stroke="#111" stroke-width="0.25" >40</text>
<path d="M64.0 382.80 H68.8" stroke="#0a0a0a" stroke-width="1.6"/>
<text x="64.00" y="385.70" font-size="8" font-weight="bold" text-anchor="end" fill="#111" stroke="#111" stroke-width="0.25" >60</text>
<path d="M64.0 356.80 H68.8" stroke="#0a0a0a" stroke-width="1.6"/>
<text x="64.00" y="359.70" font-size="8" font-weight="bold" text-anchor="end" fill="#111" stroke="#111" stroke-width="0.25" >80</text>
<path d="M64.0 330.80 H68.8" stroke="#0a0a0a" stroke-width="1.6"/>
<text x="64.00" y="333.70" font-size="8" font-weight="bold" text-anchor="end" fill="#111" stroke="#111" stroke-width="0.25" >100</text>
<path d="M68.8 460.8 H146.6 M154.8 460.8 H198.6" stroke="#0a0a0a" stroke-width="2.3" fill="none"/>
<path d="M146.6 458.6 V463.0 M154.8 458.6 V463.0" stroke="#0a0a0a" stroke-width="1.8"/>
<path d="M68.80 460.8 V464.4" stroke="#0a0a0a" stroke-width="1.6"/>
<text x="68.80" y="472.60" font-size="8" font-weight="bold" text-anchor="middle" fill="#111" stroke="#111" stroke-width="0.25" >0</text>
<path d="M88.32 460.8 V464.4" stroke="#0a0a0a" stroke-width="1.6"/>
<text x="88.32" y="472.60" font-size="8" font-weight="bold" text-anchor="middle" fill="#111" stroke="#111" stroke-width="0.25" >4</text>
<path d="M107.84 460.8 V464.4" stroke="#0a0a0a" stroke-width="1.6"/>
<text x="107.84" y="472.60" font-size="8" font-weight="bold" text-anchor="middle" fill="#111" stroke="#111" stroke-width="0.25" >8</text>
<path d="M127.36 460.8 V464.4" stroke="#0a0a0a" stroke-width="1.6"/>
<text x="127.96" y="472.60" font-size="8" font-weight="bold" text-anchor="middle" fill="#111" stroke="#111" stroke-width="0.25" >12</text>
<path d="M146.88 460.8 V464.4" stroke="#0a0a0a" stroke-width="1.6"/>
<text x="147.48" y="472.60" font-size="8" font-weight="bold" text-anchor="middle" fill="#111" stroke="#111" stroke-width="0.25" >16</text>
<path d="M169.30 460.8 V464.4" stroke="#0a0a0a" stroke-width="1.6"/>
<text x="169.90" y="472.60" font-size="8" font-weight="bold" text-anchor="middle" fill="#111" stroke="#111" stroke-width="0.25" >25</text>
<path d="M187.80 460.8 V464.4" stroke="#0a0a0a" stroke-width="1.6"/>
<text x="188.40" y="472.60" font-size="8" font-weight="bold" text-anchor="middle" fill="#111" stroke="#111" stroke-width="0.25" >30</text>
<text x="134.30" y="487.10" font-size="8.9" font-weight="bold" text-anchor="middle" fill="#111" stroke="#111" stroke-width="0.25" >wk postinfection</text>
<text transform="translate(45.10,398.10) rotate(-90)" font-size="9.8" text-anchor="middle" fill="#222" stroke="#222" stroke-width="0.18">% β7-integrin+ pDC</text>
<text x="261.30" y="335.30" font-size="14" font-weight="bold" text-anchor="start" fill="#111" stroke="#111" stroke-width="0.25" >D</text>
<path d="M295.8 349.3 V458.3 H369" stroke="#0a0a0a" stroke-width="2.3" fill="none"/>
<path d="M291.3 458.30 H295.8" stroke="#0a0a0a" stroke-width="1.6"/>
<text x="291.40" y="461.20" font-size="8" font-weight="bold" text-anchor="end" fill="#111" stroke="#111" stroke-width="0.25" >0</text>
<path d="M291.3 436.50 H295.8" stroke="#0a0a0a" stroke-width="1.6"/>
<text x="291.40" y="439.40" font-size="8" font-weight="bold" text-anchor="end" fill="#111" stroke="#111" stroke-width="0.25" >20</text>
<path d="M291.3 414.70 H295.8" stroke="#0a0a0a" stroke-width="1.6"/>
<text x="291.40" y="417.60" font-size="8" font-weight="bold" text-anchor="end" fill="#111" stroke="#111" stroke-width="0.25" >40</text>
<path d="M291.3 392.90 H295.8" stroke="#0a0a0a" stroke-width="1.6"/>
<text x="291.40" y="395.80" font-size="8" font-weight="bold" text-anchor="end" fill="#111" stroke="#111" stroke-width="0.25" >60</text>
<path d="M291.3 371.10 H295.8" stroke="#0a0a0a" stroke-width="1.6"/>
<text x="291.40" y="374.00" font-size="8" font-weight="bold" text-anchor="end" fill="#111" stroke="#111" stroke-width="0.25" >80</text>
<path d="M291.3 349.30 H295.8" stroke="#0a0a0a" stroke-width="1.6"/>
<text x="291.40" y="352.20" font-size="8" font-weight="bold" text-anchor="end" fill="#111" stroke="#111" stroke-width="0.25" >100</text>
<path d="M313.9 458.3 V462.6" stroke="#0a0a0a" stroke-width="1.6"/>
<path d="M350.4 458.3 V462.6" stroke="#0a0a0a" stroke-width="1.6"/>
<text x="333.50" y="352.80" font-size="9.2" font-weight="normal" text-anchor="middle" fill="#111" stroke="#111" stroke-width="0.18" >P&lt;0.0001</text>
<rect x="317" y="357.3" width="35" height="2.2" fill="#0a0a0a"/>
<circle cx="304.6" cy="410.4" r="2.2" fill="#fff" stroke="#0a0a0a" stroke-width="1.2"/>
<circle cx="310.7" cy="411.7" r="2.2" fill="#fff" stroke="#0a0a0a" stroke-width="1.2"/>
<circle cx="316.9" cy="411.7" r="2.2" fill="#fff" stroke="#0a0a0a" stroke-width="1.2"/>
<circle cx="322.9" cy="410" r="2.2" fill="#fff" stroke="#0a0a0a" stroke-width="1.2"/>
<circle cx="304.6" cy="425" r="2.2" fill="#fff" stroke="#0a0a0a" stroke-width="1.2"/>
<circle cx="309.6" cy="426.6" r="2.2" fill="#fff" stroke="#0a0a0a" stroke-width="1.2"/>
<circle cx="314" cy="427.9" r="2.2" fill="#fff" stroke="#0a0a0a" stroke-width="1.2"/>
<circle cx="318.7" cy="425.2" r="2.2" fill="#fff" stroke="#0a0a0a" stroke-width="1.2"/>
<circle cx="322.6" cy="424.3" r="2.2" fill="#fff" stroke="#0a0a0a" stroke-width="1.2"/>
<circle cx="310.7" cy="430.3" r="2.2" fill="#fff" stroke="#0a0a0a" stroke-width="1.2"/>
<circle cx="316.3" cy="430.3" r="2.2" fill="#fff" stroke="#0a0a0a" stroke-width="1.2"/>
<circle cx="320.2" cy="431.2" r="2.2" fill="#fff" stroke="#0a0a0a" stroke-width="1.2"/>
<circle cx="307" cy="434.3" r="2.2" fill="#fff" stroke="#0a0a0a" stroke-width="1.2"/>
<circle cx="312" cy="435.6" r="2.2" fill="#fff" stroke="#0a0a0a" stroke-width="1.2"/>
<circle cx="316.3" cy="434.8" r="2.2" fill="#fff" stroke="#0a0a0a" stroke-width="1.2"/>
<circle cx="305" cy="439" r="2.2" fill="#fff" stroke="#0a0a0a" stroke-width="1.2"/>
<circle cx="322.6" cy="437.6" r="2.2" fill="#fff" stroke="#0a0a0a" stroke-width="1.2"/>
<circle cx="305" cy="443.2" r="2.2" fill="#fff" stroke="#0a0a0a" stroke-width="1.2"/>
<circle cx="309.6" cy="442.5" r="2.2" fill="#fff" stroke="#0a0a0a" stroke-width="1.2"/>
<circle cx="314.3" cy="443.2" r="2.2" fill="#fff" stroke="#0a0a0a" stroke-width="1.2"/>
<circle cx="318.7" cy="441.5" r="2.2" fill="#fff" stroke="#0a0a0a" stroke-width="1.2"/>
<circle cx="309.6" cy="446.5" r="2.2" fill="#fff" stroke="#0a0a0a" stroke-width="1.2"/>
<circle cx="322.6" cy="445.2" r="2.2" fill="#fff" stroke="#0a0a0a" stroke-width="1.2"/>
<circle cx="313.6" cy="450.2" r="2.2" fill="#fff" stroke="#0a0a0a" stroke-width="1.2"/>
<circle cx="318.3" cy="450.2" r="2.2" fill="#fff" stroke="#0a0a0a" stroke-width="1.2"/>
<rect x="302.3" y="433" width="23.5" height="1.9" fill="#0a0a0a"/>
<circle cx="346.8" cy="371.4" r="2.3" fill="#0a0a0a"/>
<circle cx="353.7" cy="372.5" r="2.3" fill="#0a0a0a"/>
<circle cx="341.2" cy="384.1" r="2.3" fill="#0a0a0a"/>
<circle cx="347.2" cy="386.9" r="2.3" fill="#0a0a0a"/>
<circle cx="353.2" cy="385.8" r="2.3" fill="#0a0a0a"/>
<circle cx="359.7" cy="382.8" r="2.3" fill="#0a0a0a"/>
<circle cx="346.8" cy="394.8" r="2.3" fill="#0a0a0a"/>
<circle cx="344" cy="398.3" r="2.3" fill="#0a0a0a"/>
<circle cx="353.7" cy="397.2" r="2.3" fill="#0a0a0a"/>
<circle cx="356.9" cy="399.4" r="2.3" fill="#0a0a0a"/>
<circle cx="350.4" cy="404.7" r="2.3" fill="#0a0a0a"/>
<circle cx="340.3" cy="408.4" r="2.3" fill="#0a0a0a"/>
<circle cx="346.8" cy="409.5" r="2.3" fill="#0a0a0a"/>
<circle cx="353.2" cy="410.5" r="2.3" fill="#0a0a0a"/>
<circle cx="360.1" cy="409" r="2.3" fill="#0a0a0a"/>
<circle cx="341.8" cy="412.7" r="2.3" fill="#0a0a0a"/>
<circle cx="359" cy="414.8" r="2.3" fill="#0a0a0a"/>
<circle cx="346.1" cy="418.5" r="2.3" fill="#0a0a0a"/>
<circle cx="350.4" cy="419.1" r="2.3" fill="#0a0a0a"/>
<circle cx="354.7" cy="418.5" r="2.3" fill="#0a0a0a"/>
<circle cx="350.4" cy="431.4" r="2.3" fill="#0a0a0a"/>
<circle cx="341.2" cy="441.7" r="2.3" fill="#0a0a0a"/>
<circle cx="359.7" cy="442.2" r="2.3" fill="#0a0a0a"/>
<circle cx="346.1" cy="445.6" r="2.3" fill="#0a0a0a"/>
<circle cx="350.4" cy="448.2" r="2.3" fill="#0a0a0a"/>
<circle cx="354.7" cy="446.5" r="2.3" fill="#0a0a0a"/>
<rect x="338.2" y="408.6" width="24.5" height="1.9" fill="#0a0a0a"/>
<text transform="translate(316.00,468.60) rotate(-45)" font-size="8" font-weight="bold" text-anchor="end" fill="#111" stroke="#111" stroke-width="0.25">HIV-</text>
<text transform="translate(352.40,468.60) rotate(-45)" font-size="8" font-weight="bold" text-anchor="end" fill="#111" stroke="#111" stroke-width="0.25">HIV+</text>
<text transform="translate(269.60,398.90) rotate(-90)" font-size="9.6" text-anchor="middle" fill="#222" stroke="#222" stroke-width="0.18">% β7-integrin+ pDC</text>
<text x="409.70" y="335.30" font-size="14" font-weight="bold" text-anchor="start" fill="#111" stroke="#111" stroke-width="0.25" >E</text>
<path d="M446.2 345.2 V455.7 H521" stroke="#0a0a0a" stroke-width="2.3" fill="none"/>
<path d="M441.6 455.70 H446.2" stroke="#0a0a0a" stroke-width="1.6"/>
<text x="441.40" y="458.60" font-size="8" font-weight="bold" text-anchor="end" fill="#111" stroke="#111" stroke-width="0.25" >0</text>
<path d="M441.6 433.60 H446.2" stroke="#0a0a0a" stroke-width="1.6"/>
<text x="441.40" y="436.50" font-size="8" font-weight="bold" text-anchor="end" fill="#111" stroke="#111" stroke-width="0.25" >20</text>
<path d="M441.6 411.50 H446.2" stroke="#0a0a0a" stroke-width="1.6"/>
<text x="441.40" y="414.40" font-size="8" font-weight="bold" text-anchor="end" fill="#111" stroke="#111" stroke-width="0.25" >40</text>
<path d="M441.6 389.40 H446.2" stroke="#0a0a0a" stroke-width="1.6"/>
<text x="441.40" y="392.30" font-size="8" font-weight="bold" text-anchor="end" fill="#111" stroke="#111" stroke-width="0.25" >60</text>
<path d="M441.6 367.30 H446.2" stroke="#0a0a0a" stroke-width="1.6"/>
<text x="441.40" y="370.20" font-size="8" font-weight="bold" text-anchor="end" fill="#111" stroke="#111" stroke-width="0.25" >80</text>
<path d="M441.6 345.20 H446.2" stroke="#0a0a0a" stroke-width="1.6"/>
<text x="441.40" y="348.10" font-size="8" font-weight="bold" text-anchor="end" fill="#111" stroke="#111" stroke-width="0.25" >100</text>
<path d="M464.6 455.7 V460.6" stroke="#0a0a0a" stroke-width="1.7"/>
<path d="M501.2 455.7 V460.6" stroke="#0a0a0a" stroke-width="1.7"/>
<circle cx="464.6" cy="431.1" r="2.2" fill="#fff" stroke="#0a0a0a" stroke-width="1.2"/>
<circle cx="461.2" cy="442.3" r="2.2" fill="#fff" stroke="#0a0a0a" stroke-width="1.2"/>
<circle cx="457.7" cy="445.8" r="2.2" fill="#fff" stroke="#0a0a0a" stroke-width="1.2"/>
<circle cx="467.7" cy="443.8" r="2.2" fill="#fff" stroke="#0a0a0a" stroke-width="1.2"/>
<circle cx="471.5" cy="448" r="2.2" fill="#fff" stroke="#0a0a0a" stroke-width="1.2"/>
<circle cx="464.3" cy="451.2" r="2.2" fill="#fff" stroke="#0a0a0a" stroke-width="1.2"/>
<rect x="452.3" y="443" width="24.6" height="1.9" fill="#0a0a0a"/>
<circle cx="507.7" cy="431.5" r="2.3" fill="#0a0a0a"/>
<circle cx="494.6" cy="437.2" r="2.3" fill="#0a0a0a"/>
<circle cx="501.2" cy="437.2" r="2.3" fill="#0a0a0a"/>
<circle cx="494.6" cy="444.9" r="2.3" fill="#0a0a0a"/>
<circle cx="507.7" cy="447.7" r="2.3" fill="#0a0a0a"/>
<circle cx="501.2" cy="451.5" r="2.3" fill="#0a0a0a"/>
<rect x="488.9" y="440.9" width="24.6" height="1.9" fill="#0a0a0a"/>
<text transform="translate(467.20,465.80) rotate(-45)" font-size="8" font-weight="bold" text-anchor="end" fill="#111" stroke="#111" stroke-width="0.25">SIV- SM</text>
<text transform="translate(503.60,465.80) rotate(-45)" font-size="8" font-weight="bold" text-anchor="end" fill="#111" stroke="#111" stroke-width="0.25">SIV+ SM</text>
<text transform="translate(420.00,399.90) rotate(-90)" font-size="9.3" text-anchor="middle" fill="#222" stroke="#222" stroke-width="0.18">% β7-integrin+ pDC</text>
</svg></div></body></html>
